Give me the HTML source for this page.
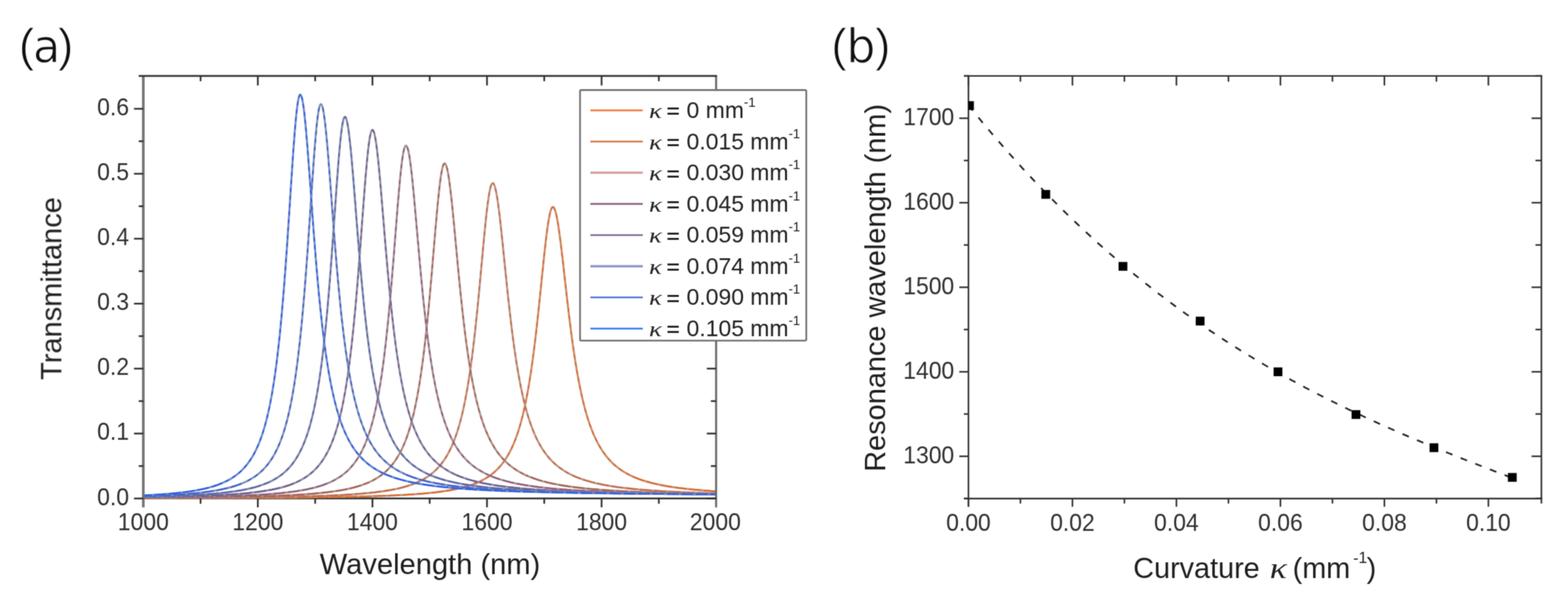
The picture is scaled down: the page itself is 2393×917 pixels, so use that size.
<!DOCTYPE html><html><head><meta charset="utf-8"><style>html,body{margin:0;padding:0;background:#fff;}svg{display:block;}</style></head><body>
<svg width="2393" height="917" viewBox="0 0 2393 917">
<defs><filter id="soft" x="0" y="0" width="2393" height="917" filterUnits="userSpaceOnUse" color-interpolation-filters="sRGB"><feConvolveMatrix order="3" kernelMatrix="1 2 1 2 8 2 1 2 1" divisor="20" edgeMode="duplicate"/></filter></defs>
<rect width="2393" height="917" fill="#fff"/>
<g filter="url(#soft)">
<defs><clipPath id="ca"><rect x="218.7" y="116.5" width="874.2" height="646.1"/></clipPath></defs>
<line x1="218.7" y1="760.6" x2="1092.9" y2="760.6" stroke="#222" stroke-width="2.5"/>
<g clip-path="url(#ca)" fill="none" stroke-linejoin="round">
<path d="M218.7,760.3 L220.4,760.2 L222.2,760.2 L223.9,760.2 L225.7,760.2 L227.4,760.2 L229.2,760.2 L230.9,760.2 L232.7,760.2 L234.4,760.2 L236.2,760.2 L237.9,760.2 L239.7,760.2 L241.4,760.2 L243.2,760.2 L244.9,760.2 L246.7,760.2 L248.4,760.2 L250.2,760.2 L251.9,760.2 L253.7,760.2 L255.4,760.2 L257.2,760.2 L258.9,760.2 L260.7,760.2 L262.4,760.2 L264.2,760.2 L265.9,760.1 L267.7,760.1 L269.4,760.1 L271.2,760.1 L272.9,760.1 L274.6,760.1 L276.4,760.1 L278.1,760.1 L279.9,760.1 L281.6,760.1 L283.4,760.1 L285.1,760.1 L286.9,760.1 L288.6,760.1 L290.4,760.1 L292.1,760.1 L293.9,760.1 L295.6,760.1 L297.4,760.1 L299.1,760.1 L300.9,760.0 L302.6,760.0 L304.4,760.0 L306.1,760.0 L307.9,760.0 L309.6,760.0 L311.4,760.0 L313.1,760.0 L314.9,760.0 L316.6,760.0 L318.4,760.0 L320.1,760.0 L321.9,760.0 L323.6,760.0 L325.4,760.0 L327.1,760.0 L328.8,760.0 L330.6,759.9 L332.3,759.9 L334.1,759.9 L335.8,759.9 L337.6,759.9 L339.3,759.9 L341.1,759.9 L342.8,759.9 L344.6,759.9 L346.3,759.9 L348.1,759.9 L349.8,759.9 L351.6,759.9 L353.3,759.8 L355.1,759.8 L356.8,759.8 L358.6,759.8 L360.3,759.8 L362.1,759.8 L363.8,759.8 L365.6,759.8 L367.3,759.8 L369.1,759.8 L370.8,759.8 L372.6,759.8 L374.3,759.7 L376.1,759.7 L377.8,759.7 L379.6,759.7 L381.3,759.7 L383.0,759.7 L384.8,759.7 L386.5,759.7 L388.3,759.7 L390.0,759.7 L391.8,759.6 L393.5,759.6 L395.3,759.6 L397.0,759.6 L398.8,759.6 L400.5,759.6 L402.3,759.6 L404.0,759.6 L405.8,759.6 L407.5,759.5 L409.3,759.5 L411.0,759.5 L412.8,759.5 L414.5,759.5 L416.3,759.5 L418.0,759.5 L419.8,759.5 L421.5,759.4 L423.3,759.4 L425.0,759.4 L426.8,759.4 L428.5,759.4 L430.3,759.4 L432.0,759.4 L433.8,759.4 L435.5,759.3 L437.2,759.3 L439.0,759.3 L440.7,759.3 L442.5,759.3 L444.2,759.3 L446.0,759.2 L447.7,759.2 L449.5,759.2 L451.2,759.2 L453.0,759.2 L454.7,759.2 L456.5,759.1 L458.2,759.1 L460.0,759.1 L461.7,759.1 L463.5,759.1 L465.2,759.0 L467.0,759.0 L468.7,759.0 L470.5,759.0 L472.2,759.0 L474.0,758.9 L475.7,758.9 L477.5,758.9 L479.2,758.9 L481.0,758.9 L482.7,758.8 L484.5,758.8 L486.2,758.8 L488.0,758.8 L489.7,758.7 L491.5,758.7 L493.2,758.7 L494.9,758.7 L496.7,758.7 L498.4,758.6 L500.2,758.6 L501.9,758.6 L503.7,758.5 L505.4,758.5 L507.2,758.5 L508.9,758.5 L510.7,758.4 L512.4,758.4 L514.2,758.4 L515.9,758.3 L517.7,758.3 L519.4,758.3 L521.2,758.2 L522.9,758.2 L524.7,758.2 L526.4,758.2 L528.2,758.1 L529.9,758.1 L531.7,758.0 L533.4,758.0 L535.2,758.0 L536.9,757.9 L538.7,757.9 L540.4,757.9 L542.2,757.8 L543.9,757.8 L545.7,757.7 L547.4,757.7 L549.1,757.7 L550.9,757.6 L552.6,757.6 L554.4,757.5 L556.1,757.5 L557.9,757.4 L559.6,757.4 L561.4,757.3 L563.1,757.3 L564.9,757.2 L566.6,757.2 L568.4,757.1 L570.1,757.1 L571.9,757.0 L573.6,757.0 L575.4,756.9 L577.1,756.8 L578.9,756.8 L580.6,756.7 L582.4,756.7 L584.1,756.6 L585.9,756.5 L587.6,756.5 L589.4,756.4 L591.1,756.3 L592.9,756.2 L594.6,756.2 L596.4,756.1 L598.1,756.0 L599.9,755.9 L601.6,755.9 L603.3,755.8 L605.1,755.7 L606.8,755.6 L608.6,755.5 L610.3,755.4 L612.1,755.3 L613.8,755.3 L615.6,755.2 L617.3,755.1 L619.1,755.0 L620.8,754.9 L622.6,754.7 L624.3,754.6 L626.1,754.5 L627.8,754.4 L629.6,754.3 L631.3,754.2 L633.1,754.1 L634.8,753.9 L636.6,753.8 L638.3,753.7 L640.1,753.5 L641.8,753.4 L643.6,753.2 L645.3,753.1 L647.1,752.9 L648.8,752.8 L650.6,752.6 L652.3,752.5 L654.1,752.3 L655.8,752.1 L657.5,751.9 L659.3,751.8 L661.0,751.6 L662.8,751.4 L664.5,751.2 L666.3,751.0 L668.0,750.7 L669.8,750.5 L671.5,750.3 L673.3,750.1 L675.0,749.8 L676.8,749.6 L678.5,749.3 L680.3,749.0 L682.0,748.8 L683.8,748.5 L685.5,748.2 L687.3,747.9 L689.0,747.6 L690.8,747.3 L692.5,746.9 L694.3,746.6 L696.0,746.2 L697.8,745.8 L699.5,745.5 L701.3,745.1 L703.0,744.6 L704.8,744.2 L706.5,743.8 L708.3,743.3 L710.0,742.8 L711.7,742.3 L713.5,741.8 L715.2,741.3 L717.0,740.7 L718.7,740.1 L720.5,739.5 L722.2,738.9 L724.0,738.2 L725.7,737.5 L727.5,736.8 L729.2,736.1 L731.0,735.3 L732.7,734.4 L734.5,733.6 L736.2,732.7 L738.0,731.8 L738.8,731.3 L739.3,731.0 L739.7,730.8 L740.2,730.5 L740.6,730.3 L741.0,730.0 L741.5,729.7 L741.9,729.5 L742.3,729.2 L742.8,728.9 L743.2,728.7 L743.7,728.4 L744.1,728.1 L744.5,727.8 L745.0,727.5 L745.4,727.2 L745.8,726.9 L746.3,726.6 L746.7,726.3 L747.2,726.0 L747.6,725.7 L748.0,725.4 L748.5,725.1 L748.9,724.8 L749.3,724.4 L749.8,724.1 L750.2,723.8 L750.7,723.4 L751.1,723.1 L751.5,722.7 L752.0,722.4 L752.4,722.0 L752.8,721.7 L753.3,721.3 L753.7,720.9 L754.1,720.6 L754.6,720.2 L755.0,719.8 L755.5,719.4 L755.9,719.0 L756.3,718.6 L756.8,718.2 L757.2,717.8 L757.6,717.4 L758.1,716.9 L758.5,716.5 L759.0,716.1 L759.4,715.6 L759.8,715.2 L760.3,714.7 L760.7,714.3 L761.1,713.8 L761.6,713.3 L762.0,712.9 L762.5,712.4 L762.9,711.9 L763.3,711.4 L763.8,710.9 L764.2,710.4 L764.6,709.8 L765.1,709.3 L765.5,708.8 L765.9,708.2 L766.4,707.7 L766.8,707.1 L767.3,706.6 L767.7,706.0 L768.1,705.4 L768.6,704.8 L769.0,704.2 L769.4,703.6 L769.9,703.0 L770.3,702.3 L770.8,701.7 L771.2,701.0 L771.6,700.4 L772.1,699.7 L772.5,699.0 L772.9,698.4 L773.4,697.7 L773.8,696.9 L774.3,696.2 L774.7,695.5 L775.1,694.7 L775.6,694.0 L776.0,693.2 L776.4,692.4 L776.9,691.7 L777.3,690.9 L777.8,690.0 L778.2,689.2 L778.6,688.4 L779.1,687.5 L779.5,686.6 L779.9,685.8 L780.4,684.9 L780.8,683.9 L781.2,683.0 L781.7,682.1 L782.1,681.1 L782.6,680.1 L783.0,679.2 L783.4,678.1 L783.9,677.1 L784.3,676.1 L784.7,675.0 L785.2,673.9 L785.6,672.9 L786.1,671.7 L786.5,670.6 L786.9,669.5 L787.4,668.3 L787.8,667.1 L788.2,665.9 L788.7,664.7 L789.1,663.4 L789.6,662.1 L790.0,660.9 L790.4,659.5 L790.9,658.2 L791.3,656.8 L791.7,655.4 L792.2,654.0 L792.6,652.6 L793.0,651.1 L793.5,649.7 L793.9,648.1 L794.4,646.6 L794.8,645.0 L795.2,643.4 L795.7,641.8 L796.1,640.2 L796.5,638.5 L797.0,636.8 L797.4,635.1 L797.9,633.3 L798.3,631.5 L798.7,629.6 L799.2,627.8 L799.6,625.9 L800.0,623.9 L800.5,622.0 L800.9,620.0 L801.4,617.9 L801.8,615.9 L802.2,613.8 L802.7,611.6 L803.1,609.4 L803.5,607.2 L804.0,604.9 L804.4,602.6 L804.9,600.3 L805.3,597.9 L805.7,595.5 L806.2,593.0 L806.6,590.5 L807.0,587.9 L807.5,585.3 L807.9,582.7 L808.3,580.0 L808.8,577.3 L809.2,574.5 L809.7,571.7 L810.1,568.8 L810.5,565.9 L811.0,562.9 L811.4,559.9 L811.8,556.8 L812.3,553.7 L812.7,550.5 L813.2,547.3 L813.6,544.1 L814.0,540.7 L814.5,537.4 L814.9,534.0 L815.3,530.5 L815.8,527.0 L816.2,523.5 L816.7,519.9 L817.1,516.2 L817.5,512.5 L818.0,508.8 L818.4,505.0 L818.8,501.2 L819.3,497.3 L819.7,493.4 L820.1,489.4 L820.6,485.4 L821.0,481.4 L821.5,477.3 L821.9,473.2 L822.3,469.0 L822.8,464.9 L823.2,460.7 L823.6,456.4 L824.1,452.2 L824.5,447.9 L825.0,443.7 L825.4,439.4 L825.8,435.1 L826.3,430.8 L826.7,426.5 L827.1,422.1 L827.6,417.9 L828.0,413.6 L828.5,409.3 L828.9,405.1 L829.3,400.8 L829.8,396.7 L830.2,392.5 L830.6,388.4 L831.1,384.4 L831.5,380.4 L832.0,376.4 L832.4,372.6 L832.8,368.8 L833.3,365.1 L833.7,361.4 L834.1,357.9 L834.6,354.5 L835.0,351.2 L835.4,348.0 L835.9,344.9 L836.3,341.9 L836.8,339.1 L837.2,336.4 L837.6,333.9 L838.1,331.5 L838.5,329.2 L838.9,327.2 L839.4,325.2 L839.8,323.5 L840.3,321.9 L840.7,320.5 L841.1,319.3 L841.6,318.3 L842.0,317.4 L842.4,316.8 L842.9,316.3 L843.3,316.0 L843.8,315.9 L844.2,316.0 L844.6,316.2 L845.1,316.6 L845.5,317.2 L845.9,318.0 L846.4,318.9 L846.8,320.0 L847.2,321.2 L847.7,322.6 L848.1,324.2 L848.6,325.9 L849.0,327.7 L849.4,329.7 L849.9,331.9 L850.3,334.1 L850.7,336.5 L851.2,339.0 L851.6,341.6 L852.1,344.4 L852.5,347.2 L852.9,350.2 L853.4,353.2 L853.8,356.4 L854.2,359.6 L854.7,362.9 L855.1,366.3 L855.6,369.7 L856.0,373.2 L856.4,376.8 L856.9,380.4 L857.3,384.1 L857.7,387.8 L858.2,391.6 L858.6,395.3 L859.1,399.2 L859.5,403.0 L859.9,406.9 L860.4,410.7 L860.8,414.6 L861.2,418.5 L861.7,422.4 L862.1,426.3 L862.5,430.2 L863.0,434.1 L863.4,438.0 L863.9,441.9 L864.3,445.7 L864.7,449.6 L865.2,453.4 L865.6,457.2 L866.0,461.0 L866.5,464.8 L866.9,468.5 L867.4,472.2 L867.8,475.9 L868.2,479.5 L868.7,483.2 L869.1,486.7 L869.5,490.3 L870.0,493.8 L870.4,497.3 L870.9,500.7 L871.3,504.1 L871.7,507.4 L872.2,510.8 L872.6,514.0 L873.0,517.3 L873.5,520.5 L873.9,523.6 L874.3,526.8 L874.8,529.8 L875.2,532.9 L875.7,535.9 L876.1,538.8 L876.5,541.7 L877.0,544.6 L877.4,547.4 L877.8,550.2 L878.3,553.0 L878.7,555.7 L879.2,558.3 L879.6,561.0 L880.0,563.6 L880.5,566.1 L880.9,568.6 L881.3,571.1 L881.8,573.5 L882.2,575.9 L882.7,578.3 L883.1,580.6 L883.5,582.9 L884.0,585.2 L884.4,587.4 L884.8,589.6 L885.3,591.7 L885.7,593.8 L886.2,595.9 L886.6,598.0 L887.0,600.0 L887.5,602.0 L887.9,603.9 L888.3,605.9 L888.8,607.8 L889.2,609.6 L889.6,611.5 L890.1,613.3 L890.5,615.0 L891.0,616.8 L891.4,618.5 L891.8,620.2 L892.3,621.9 L892.7,623.5 L893.1,625.1 L893.6,626.7 L894.0,628.3 L894.5,629.8 L894.9,631.3 L895.3,632.8 L895.8,634.3 L896.2,635.7 L896.6,637.2 L897.1,638.6 L897.5,639.9 L898.0,641.3 L898.4,642.6 L898.8,643.9 L899.3,645.2 L899.7,646.5 L900.1,647.8 L900.6,649.0 L901.0,650.2 L901.5,651.4 L901.9,652.6 L902.3,653.8 L902.8,654.9 L903.2,656.0 L903.6,657.1 L904.1,658.2 L904.5,659.3 L904.9,660.4 L905.4,661.4 L905.8,662.4 L906.3,663.5 L906.7,664.5 L907.1,665.4 L907.6,666.4 L908.0,667.4 L908.4,668.3 L908.9,669.2 L909.3,670.2 L909.8,671.1 L910.2,671.9 L910.6,672.8 L911.1,673.7 L911.5,674.5 L911.9,675.4 L912.4,676.2 L912.8,677.0 L913.3,677.8 L913.7,678.6 L914.1,679.4 L914.6,680.2 L915.0,680.9 L915.4,681.7 L915.9,682.4 L916.3,683.1 L916.7,683.8 L917.2,684.6 L917.6,685.3 L918.1,685.9 L918.5,686.6 L918.9,687.3 L919.4,688.0 L919.8,688.6 L920.2,689.3 L920.7,689.9 L921.1,690.5 L921.6,691.1 L922.0,691.7 L922.4,692.3 L922.9,692.9 L923.3,693.5 L923.7,694.1 L924.2,694.7 L924.6,695.2 L925.1,695.8 L925.5,696.3 L925.9,696.9 L926.4,697.4 L926.8,698.0 L927.2,698.5 L927.7,699.0 L928.1,699.5 L928.6,700.0 L929.0,700.5 L929.4,701.0 L929.9,701.5 L930.3,702.0 L930.7,702.4 L931.2,702.9 L931.6,703.4 L932.0,703.8 L932.5,704.3 L932.9,704.7 L933.4,705.1 L933.8,705.6 L934.2,706.0 L934.7,706.4 L935.1,706.8 L935.5,707.3 L936.0,707.7 L936.4,708.1 L936.9,708.5 L937.3,708.9 L937.7,709.2 L938.2,709.6 L938.6,710.0 L939.0,710.4 L939.5,710.8 L939.9,711.1 L940.4,711.5 L940.8,711.8 L941.2,712.2 L941.7,712.6 L942.1,712.9 L942.5,713.2 L943.0,713.6 L943.4,713.9 L943.8,714.3 L944.3,714.6 L944.7,714.9 L945.2,715.2 L945.6,715.5 L946.0,715.9 L946.5,716.2 L946.9,716.5 L947.3,716.8 L947.8,717.1 L948.2,717.4 L948.7,717.7 L950.4,718.8 L952.2,719.9 L953.9,721.0 L955.7,722.0 L957.4,722.9 L959.1,723.9 L960.9,724.8 L962.6,725.6 L964.4,726.5 L966.1,727.2 L967.9,728.0 L969.6,728.8 L971.4,729.5 L973.1,730.1 L974.9,730.8 L976.6,731.4 L978.4,732.1 L980.1,732.7 L981.9,733.2 L983.6,733.8 L985.4,734.3 L987.1,734.8 L988.9,735.3 L990.6,735.8 L992.4,736.3 L994.1,736.8 L995.9,737.2 L997.6,737.6 L999.4,738.0 L1001.1,738.4 L1002.9,738.8 L1004.6,739.2 L1006.4,739.6 L1008.1,739.9 L1009.9,740.3 L1011.6,740.6 L1013.3,740.9 L1015.1,741.3 L1016.8,741.6 L1018.6,741.9 L1020.3,742.2 L1022.1,742.5 L1023.8,742.7 L1025.6,743.0 L1027.3,743.3 L1029.1,743.5 L1030.8,743.8 L1032.6,744.0 L1034.3,744.2 L1036.1,744.5 L1037.8,744.7 L1039.6,744.9 L1041.3,745.1 L1043.1,745.3 L1044.8,745.6 L1046.6,745.8 L1048.3,745.9 L1050.1,746.1 L1051.8,746.3 L1053.6,746.5 L1055.3,746.7 L1057.1,746.9 L1058.8,747.0 L1060.6,747.2 L1062.3,747.3 L1064.1,747.5 L1065.8,747.7 L1067.5,747.8 L1069.3,748.0 L1071.0,748.1 L1072.8,748.2 L1074.5,748.4 L1076.3,748.5 L1078.0,748.7 L1079.8,748.8 L1081.5,748.9 L1083.3,749.0 L1085.0,749.2 L1086.8,749.3 L1088.5,749.4 L1090.3,749.5 L1092.0,749.6" stroke="#c68c6c" stroke-width="3.0"/>
<path d="M731.0,735.3 L732.7,734.4 L734.5,733.6 L736.2,732.7 L738.0,731.8 L738.8,731.3 L739.3,731.0 L739.7,730.8 L740.2,730.5 L740.6,730.3 L741.0,730.0 L741.5,729.7 L741.9,729.5 L742.3,729.2 L742.8,728.9 L743.2,728.7 L743.7,728.4 L744.1,728.1 L744.5,727.8 L745.0,727.5 L745.4,727.2 L745.8,726.9 L746.3,726.6 L746.7,726.3 L747.2,726.0 L747.6,725.7 L748.0,725.4 L748.5,725.1 L748.9,724.8 L749.3,724.4 L749.8,724.1 L750.2,723.8 L750.7,723.4 L751.1,723.1 L751.5,722.7 L752.0,722.4 L752.4,722.0 L752.8,721.7 L753.3,721.3 L753.7,720.9 L754.1,720.6 L754.6,720.2 L755.0,719.8 L755.5,719.4 L755.9,719.0 L756.3,718.6 L756.8,718.2 L757.2,717.8 L757.6,717.4 L758.1,716.9 L758.5,716.5 L759.0,716.1 L759.4,715.6 L759.8,715.2 L760.3,714.7 L760.7,714.3 L761.1,713.8 L761.6,713.3 L762.0,712.9 L762.5,712.4 L762.9,711.9 L763.3,711.4 L763.8,710.9 L764.2,710.4 L764.6,709.8 L765.1,709.3 L765.5,708.8 L765.9,708.2 L766.4,707.7 L766.8,707.1 L767.3,706.6 L767.7,706.0 L768.1,705.4 L768.6,704.8 L769.0,704.2 L769.4,703.6 L769.9,703.0 L770.3,702.3 L770.8,701.7 L771.2,701.0 L771.6,700.4 L772.1,699.7 L772.5,699.0 L772.9,698.4 L773.4,697.7 L773.8,696.9 L774.3,696.2 L774.7,695.5 L775.1,694.7 L775.6,694.0 L776.0,693.2 L776.4,692.4 L776.9,691.7 L777.3,690.9 L777.8,690.0 L778.2,689.2 L778.6,688.4 L779.1,687.5 L779.5,686.6 L779.9,685.8 L780.4,684.9 L780.8,683.9 L781.2,683.0 L781.7,682.1 L782.1,681.1 L782.6,680.1 L783.0,679.2 L783.4,678.1 L783.9,677.1 L784.3,676.1 L784.7,675.0 L785.2,673.9 L785.6,672.9 L786.1,671.7 L786.5,670.6 L786.9,669.5 L787.4,668.3 L787.8,667.1 L788.2,665.9 L788.7,664.7 L789.1,663.4 L789.6,662.1 L790.0,660.9 L790.4,659.5 L790.9,658.2 L791.3,656.8 L791.7,655.4 L792.2,654.0 L792.6,652.6 L793.0,651.1 L793.5,649.7 L793.9,648.1 L794.4,646.6 L794.8,645.0 L795.2,643.4 L795.7,641.8 L796.1,640.2 L796.5,638.5 L797.0,636.8 L797.4,635.1 L797.9,633.3 L798.3,631.5 L798.7,629.6 L799.2,627.8 L799.6,625.9 L800.0,623.9 L800.5,622.0 L800.9,620.0 L801.4,617.9 L801.8,615.9 L802.2,613.8 L802.7,611.6 L803.1,609.4 L803.5,607.2 L804.0,604.9 L804.4,602.6 L804.9,600.3 L805.3,597.9 L805.7,595.5 L806.2,593.0 L806.6,590.5 L807.0,587.9 L807.5,585.3 L807.9,582.7 L808.3,580.0 L808.8,577.3 L809.2,574.5 L809.7,571.7 L810.1,568.8 L810.5,565.9 L811.0,562.9 L811.4,559.9 L811.8,556.8 L812.3,553.7 L812.7,550.5 L813.2,547.3 L813.6,544.1 L814.0,540.7 L814.5,537.4 L814.9,534.0 L815.3,530.5 L815.8,527.0 L816.2,523.5 L816.7,519.9 L817.1,516.2 L817.5,512.5 L818.0,508.8 L818.4,505.0 L818.8,501.2 L819.3,497.3 L819.7,493.4 L820.1,489.4 L820.6,485.4 L821.0,481.4 L821.5,477.3 L821.9,473.2 L822.3,469.0 L822.8,464.9 L823.2,460.7 L823.6,456.4 L824.1,452.2 L824.5,447.9 L825.0,443.7 L825.4,439.4 L825.8,435.1 L826.3,430.8 L826.7,426.5 L827.1,422.1 L827.6,417.9 L828.0,413.6 L828.5,409.3 L828.9,405.1 L829.3,400.8 L829.8,396.7 L830.2,392.5 L830.6,388.4 L831.1,384.4 L831.5,380.4 L832.0,376.4 L832.4,372.6 L832.8,368.8 L833.3,365.1 L833.7,361.4 L834.1,357.9 L834.6,354.5 L835.0,351.2 L835.4,348.0 L835.9,344.9 L836.3,341.9 L836.8,339.1 L837.2,336.4 L837.6,333.9 L838.1,331.5 L838.5,329.2 L838.9,327.2 L839.4,325.2 L839.8,323.5 L840.3,321.9 L840.7,320.5 L841.1,319.3 L841.6,318.3 L842.0,317.4 L842.4,316.8 L842.9,316.3 L843.3,316.0 M844.2,316.0 L844.6,316.2 L845.1,316.6 L845.5,317.2 L845.9,318.0 L846.4,318.9 L846.8,320.0 L847.2,321.2 L847.7,322.6 L848.1,324.2 L848.6,325.9 L849.0,327.7 L849.4,329.7 L849.9,331.9 L850.3,334.1 L850.7,336.5 L851.2,339.0 L851.6,341.6 L852.1,344.4 L852.5,347.2 L852.9,350.2 L853.4,353.2 L853.8,356.4 L854.2,359.6 L854.7,362.9 L855.1,366.3 L855.6,369.7 L856.0,373.2 L856.4,376.8 L856.9,380.4 L857.3,384.1 L857.7,387.8 L858.2,391.6 L858.6,395.3 L859.1,399.2 L859.5,403.0 L859.9,406.9 L860.4,410.7 L860.8,414.6 L861.2,418.5 L861.7,422.4 L862.1,426.3 L862.5,430.2 L863.0,434.1 L863.4,438.0 L863.9,441.9 L864.3,445.7 L864.7,449.6 L865.2,453.4 L865.6,457.2 L866.0,461.0 L866.5,464.8 L866.9,468.5 L867.4,472.2 L867.8,475.9 L868.2,479.5 L868.7,483.2 L869.1,486.7 L869.5,490.3 L870.0,493.8 L870.4,497.3 L870.9,500.7 L871.3,504.1 L871.7,507.4 L872.2,510.8 L872.6,514.0 L873.0,517.3 L873.5,520.5 L873.9,523.6 L874.3,526.8 L874.8,529.8 L875.2,532.9 L875.7,535.9 L876.1,538.8 L876.5,541.7 L877.0,544.6 L877.4,547.4 L877.8,550.2 L878.3,553.0 L878.7,555.7 L879.2,558.3 L879.6,561.0 L880.0,563.6 L880.5,566.1 L880.9,568.6 L881.3,571.1 L881.8,573.5 L882.2,575.9 L882.7,578.3 L883.1,580.6 L883.5,582.9 L884.0,585.2 L884.4,587.4 L884.8,589.6 L885.3,591.7 L885.7,593.8 L886.2,595.9 L886.6,598.0 L887.0,600.0 L887.5,602.0 L887.9,603.9 L888.3,605.9 L888.8,607.8 L889.2,609.6 L889.6,611.5 L890.1,613.3 L890.5,615.0 L891.0,616.8 L891.4,618.5 L891.8,620.2 L892.3,621.9 L892.7,623.5 L893.1,625.1 L893.6,626.7 L894.0,628.3 L894.5,629.8 L894.9,631.3 L895.3,632.8 L895.8,634.3 L896.2,635.7 L896.6,637.2 L897.1,638.6 L897.5,639.9 L898.0,641.3 L898.4,642.6 L898.8,643.9 L899.3,645.2 L899.7,646.5 L900.1,647.8 L900.6,649.0 L901.0,650.2 L901.5,651.4 L901.9,652.6 L902.3,653.8 L902.8,654.9 L903.2,656.0 L903.6,657.1 L904.1,658.2 L904.5,659.3 L904.9,660.4 L905.4,661.4 L905.8,662.4 L906.3,663.5 L906.7,664.5 L907.1,665.4 L907.6,666.4 L908.0,667.4 L908.4,668.3 L908.9,669.2 L909.3,670.2 L909.8,671.1 L910.2,671.9 L910.6,672.8 L911.1,673.7 L911.5,674.5 L911.9,675.4 L912.4,676.2 L912.8,677.0 L913.3,677.8 L913.7,678.6 L914.1,679.4 L914.6,680.2 L915.0,680.9 L915.4,681.7 L915.9,682.4 L916.3,683.1 L916.7,683.8 L917.2,684.6 L917.6,685.3 L918.1,685.9 L918.5,686.6 L918.9,687.3 L919.4,688.0 L919.8,688.6 L920.2,689.3 L920.7,689.9 L921.1,690.5 L921.6,691.1 L922.0,691.7 L922.4,692.3 L922.9,692.9 L923.3,693.5 L923.7,694.1 L924.2,694.7 L924.6,695.2 L925.1,695.8 L925.5,696.3 L925.9,696.9 L926.4,697.4 L926.8,698.0 L927.2,698.5 L927.7,699.0 L928.1,699.5 L928.6,700.0 L929.0,700.5 L929.4,701.0 L929.9,701.5 L930.3,702.0 L930.7,702.4 L931.2,702.9 L931.6,703.4 L932.0,703.8 L932.5,704.3 L932.9,704.7 L933.4,705.1 L933.8,705.6 L934.2,706.0 L934.7,706.4 L935.1,706.8 L935.5,707.3 L936.0,707.7 L936.4,708.1 L936.9,708.5 L937.3,708.9 L937.7,709.2 L938.2,709.6 L938.6,710.0 L939.0,710.4 L939.5,710.8 L939.9,711.1 L940.4,711.5 L940.8,711.8 L941.2,712.2 L941.7,712.6 L942.1,712.9 L942.5,713.2 L943.0,713.6 L943.4,713.9 L943.8,714.3 L944.3,714.6 L944.7,714.9 L945.2,715.2 L945.6,715.5 L946.0,715.9 L946.5,716.2 L946.9,716.5 L947.3,716.8 L947.8,717.1 L948.2,717.4 L948.7,717.7 L950.4,718.8 L952.2,719.9 L953.9,721.0 L955.7,722.0 L957.4,722.9 L959.1,723.9 L960.9,724.8 L962.6,725.6 L964.4,726.5 L966.1,727.2" stroke="#dc6a30" stroke-width="2.2" stroke-dasharray="6 6" stroke-dashoffset="0"/>
<path d="M218.7,760.3 L220.4,760.2 L222.2,760.2 L223.9,760.2 L225.7,760.2 L227.4,760.2 L229.2,760.2 L230.9,760.2 L232.7,760.2 L234.4,760.2 L236.2,760.2 L237.9,760.2 L239.7,760.2 L241.4,760.2 L243.2,760.2 L244.9,760.2 L246.7,760.2 L248.4,760.2 L250.2,760.2 L251.9,760.2 L253.7,760.2 L255.4,760.2 L257.2,760.2 L258.9,760.2 L260.7,760.2 L262.4,760.2 L264.2,760.2 L265.9,760.1 L267.7,760.1 L269.4,760.1 L271.2,760.1 L272.9,760.1 L274.6,760.1 L276.4,760.1 L278.1,760.1 L279.9,760.1 L281.6,760.1 L283.4,760.1 L285.1,760.1 L286.9,760.1 L288.6,760.1 L290.4,760.1 L292.1,760.1 L293.9,760.1 L295.6,760.1 L297.4,760.1 L299.1,760.1 L300.9,760.0 L302.6,760.0 L304.4,760.0 L306.1,760.0 L307.9,760.0 L309.6,760.0 L311.4,760.0 L313.1,760.0 L314.9,760.0 L316.6,760.0 L318.4,760.0 L320.1,760.0 L321.9,760.0 L323.6,760.0 L325.4,760.0 L327.1,760.0 L328.8,760.0 L330.6,759.9 L332.3,759.9 L334.1,759.9 L335.8,759.9 L337.6,759.9 L339.3,759.9 L341.1,759.9 L342.8,759.9 L344.6,759.9 L346.3,759.9 L348.1,759.9 L349.8,759.9 L351.6,759.9 L353.3,759.8 L355.1,759.8 L356.8,759.8 L358.6,759.8 L360.3,759.8 L362.1,759.8 L363.8,759.8 L365.6,759.8 L367.3,759.8 L369.1,759.8 L370.8,759.8 L372.6,759.8 L374.3,759.7 L376.1,759.7 L377.8,759.7 L379.6,759.7 L381.3,759.7 L383.0,759.7 L384.8,759.7 L386.5,759.7 L388.3,759.7 L390.0,759.7 L391.8,759.6 L393.5,759.6 L395.3,759.6 L397.0,759.6 L398.8,759.6 L400.5,759.6 L402.3,759.6 L404.0,759.6 L405.8,759.6 L407.5,759.5 L409.3,759.5 L411.0,759.5 L412.8,759.5 L414.5,759.5 L416.3,759.5 L418.0,759.5 L419.8,759.5 L421.5,759.4 L423.3,759.4 L425.0,759.4 L426.8,759.4 L428.5,759.4 L430.3,759.4 L432.0,759.4 L433.8,759.4 L435.5,759.3 L437.2,759.3 L439.0,759.3 L440.7,759.3 L442.5,759.3 L444.2,759.3 L446.0,759.2 L447.7,759.2 L449.5,759.2 L451.2,759.2 L453.0,759.2 L454.7,759.2 L456.5,759.1 L458.2,759.1 L460.0,759.1 L461.7,759.1 L463.5,759.1 L465.2,759.0 L467.0,759.0 L468.7,759.0 L470.5,759.0 L472.2,759.0 L474.0,758.9 L475.7,758.9 L477.5,758.9 L479.2,758.9 L481.0,758.9 L482.7,758.8 L484.5,758.8 L486.2,758.8 L488.0,758.8 L489.7,758.7 L491.5,758.7 L493.2,758.7 L494.9,758.7 L496.7,758.7 L498.4,758.6 L500.2,758.6 L501.9,758.6 L503.7,758.5 L505.4,758.5 L507.2,758.5 L508.9,758.5 L510.7,758.4 L512.4,758.4 L514.2,758.4 L515.9,758.3 L517.7,758.3 L519.4,758.3 L521.2,758.2 L522.9,758.2 L524.7,758.2 L526.4,758.2 L528.2,758.1 L529.9,758.1 L531.7,758.0 L533.4,758.0 L535.2,758.0 L536.9,757.9 L538.7,757.9 L540.4,757.9 L542.2,757.8 L543.9,757.8 L545.7,757.7 L547.4,757.7 L549.1,757.7 L550.9,757.6 L552.6,757.6 L554.4,757.5 L556.1,757.5 L557.9,757.4 L559.6,757.4 L561.4,757.3 L563.1,757.3 L564.9,757.2 L566.6,757.2 L568.4,757.1 L570.1,757.1 L571.9,757.0 L573.6,757.0 L575.4,756.9 L577.1,756.8 L578.9,756.8 L580.6,756.7 L582.4,756.7 L584.1,756.6 L585.9,756.5 L587.6,756.5 L589.4,756.4 L591.1,756.3 L592.9,756.2 L594.6,756.2 L596.4,756.1 L598.1,756.0 L599.9,755.9 L601.6,755.9 L603.3,755.8 L605.1,755.7 L606.8,755.6 L608.6,755.5 L610.3,755.4 L612.1,755.3 L613.8,755.3 L615.6,755.2 L617.3,755.1 L619.1,755.0 L620.8,754.9 L622.6,754.7 L624.3,754.6 L626.1,754.5 L627.8,754.4 L629.6,754.3 L631.3,754.2 L633.1,754.1 L634.8,753.9 L636.6,753.8 L638.3,753.7 L640.1,753.5 L641.8,753.4 L643.6,753.2 L645.3,753.1 L647.1,752.9 L648.8,752.8 L650.6,752.6 L652.3,752.5 L654.1,752.3 L655.8,752.1 L657.5,751.9 L659.3,751.8 L661.0,751.6 L662.8,751.4 L664.5,751.2 L666.3,751.0 L668.0,750.7 L669.8,750.5 L671.5,750.3 L673.3,750.1 L675.0,749.8 L676.8,749.6 L678.5,749.3 L680.3,749.0 L682.0,748.8 L683.8,748.5 L685.5,748.2 L687.3,747.9 L689.0,747.6 L690.8,747.3 L692.5,746.9 L694.3,746.6 L696.0,746.2 L697.8,745.8 L699.5,745.5 L701.3,745.1 L703.0,744.6 L704.8,744.2 L706.5,743.8 L708.3,743.3 L710.0,742.8 L711.7,742.3 L713.5,741.8 L715.2,741.3 L717.0,740.7 L718.7,740.1 L720.5,739.5 L722.2,738.9 L724.0,738.2 L725.7,737.5 L727.5,736.8 L729.2,736.1 L731.0,735.3 M843.3,316.0 L843.8,315.9 L844.2,316.0 M966.1,727.2 L967.9,728.0 L969.6,728.8 L971.4,729.5 L973.1,730.1 L974.9,730.8 L976.6,731.4 L978.4,732.1 L980.1,732.7 L981.9,733.2 L983.6,733.8 L985.4,734.3 L987.1,734.8 L988.9,735.3 L990.6,735.8 L992.4,736.3 L994.1,736.8 L995.9,737.2 L997.6,737.6 L999.4,738.0 L1001.1,738.4 L1002.9,738.8 L1004.6,739.2 L1006.4,739.6 L1008.1,739.9 L1009.9,740.3 L1011.6,740.6 L1013.3,740.9 L1015.1,741.3 L1016.8,741.6 L1018.6,741.9 L1020.3,742.2 L1022.1,742.5 L1023.8,742.7 L1025.6,743.0 L1027.3,743.3 L1029.1,743.5 L1030.8,743.8 L1032.6,744.0 L1034.3,744.2 L1036.1,744.5 L1037.8,744.7 L1039.6,744.9 L1041.3,745.1 L1043.1,745.3 L1044.8,745.6 L1046.6,745.8 L1048.3,745.9 L1050.1,746.1 L1051.8,746.3 L1053.6,746.5 L1055.3,746.7 L1057.1,746.9 L1058.8,747.0 L1060.6,747.2 L1062.3,747.3 L1064.1,747.5 L1065.8,747.7 L1067.5,747.8 L1069.3,748.0 L1071.0,748.1 L1072.8,748.2 L1074.5,748.4 L1076.3,748.5 L1078.0,748.7 L1079.8,748.8 L1081.5,748.9 L1083.3,749.0 L1085.0,749.2 L1086.8,749.3 L1088.5,749.4 L1090.3,749.5 L1092.0,749.6" stroke="#dc6a30" stroke-width="2.4" stroke-dasharray="18 4" stroke-dashoffset="0"/>
<path d="M218.7,760.0 L220.4,760.0 L222.2,760.0 L223.9,760.0 L225.7,760.0 L227.4,760.0 L229.2,760.0 L230.9,760.0 L232.7,760.0 L234.4,760.0 L236.2,760.0 L237.9,760.0 L239.7,760.0 L241.4,760.0 L243.2,760.0 L244.9,760.0 L246.7,759.9 L248.4,759.9 L250.2,759.9 L251.9,759.9 L253.7,759.9 L255.4,759.9 L257.2,759.9 L258.9,759.9 L260.7,759.9 L262.4,759.9 L264.2,759.9 L265.9,759.9 L267.7,759.9 L269.4,759.8 L271.2,759.8 L272.9,759.8 L274.6,759.8 L276.4,759.8 L278.1,759.8 L279.9,759.8 L281.6,759.8 L283.4,759.8 L285.1,759.8 L286.9,759.8 L288.6,759.7 L290.4,759.7 L292.1,759.7 L293.9,759.7 L295.6,759.7 L297.4,759.7 L299.1,759.7 L300.9,759.7 L302.6,759.7 L304.4,759.7 L306.1,759.6 L307.9,759.6 L309.6,759.6 L311.4,759.6 L313.1,759.6 L314.9,759.6 L316.6,759.6 L318.4,759.6 L320.1,759.5 L321.9,759.5 L323.6,759.5 L325.4,759.5 L327.1,759.5 L328.8,759.5 L330.6,759.5 L332.3,759.5 L334.1,759.4 L335.8,759.4 L337.6,759.4 L339.3,759.4 L341.1,759.4 L342.8,759.4 L344.6,759.4 L346.3,759.3 L348.1,759.3 L349.8,759.3 L351.6,759.3 L353.3,759.3 L355.1,759.3 L356.8,759.2 L358.6,759.2 L360.3,759.2 L362.1,759.2 L363.8,759.2 L365.6,759.2 L367.3,759.1 L369.1,759.1 L370.8,759.1 L372.6,759.1 L374.3,759.1 L376.1,759.1 L377.8,759.0 L379.6,759.0 L381.3,759.0 L383.0,759.0 L384.8,758.9 L386.5,758.9 L388.3,758.9 L390.0,758.9 L391.8,758.9 L393.5,758.8 L395.3,758.8 L397.0,758.8 L398.8,758.8 L400.5,758.7 L402.3,758.7 L404.0,758.7 L405.8,758.7 L407.5,758.6 L409.3,758.6 L411.0,758.6 L412.8,758.6 L414.5,758.5 L416.3,758.5 L418.0,758.5 L419.8,758.4 L421.5,758.4 L423.3,758.4 L425.0,758.4 L426.8,758.3 L428.5,758.3 L430.3,758.3 L432.0,758.2 L433.8,758.2 L435.5,758.2 L437.2,758.1 L439.0,758.1 L440.7,758.1 L442.5,758.0 L444.2,758.0 L446.0,757.9 L447.7,757.9 L449.5,757.9 L451.2,757.8 L453.0,757.8 L454.7,757.7 L456.5,757.7 L458.2,757.7 L460.0,757.6 L461.7,757.6 L463.5,757.5 L465.2,757.5 L467.0,757.4 L468.7,757.4 L470.5,757.3 L472.2,757.3 L474.0,757.2 L475.7,757.2 L477.5,757.1 L479.2,757.1 L481.0,757.0 L482.7,756.9 L484.5,756.9 L486.2,756.8 L488.0,756.8 L489.7,756.7 L491.5,756.6 L493.2,756.6 L494.9,756.5 L496.7,756.4 L498.4,756.4 L500.2,756.3 L501.9,756.2 L503.7,756.1 L505.4,756.1 L507.2,756.0 L508.9,755.9 L510.7,755.8 L512.4,755.7 L514.2,755.7 L515.9,755.6 L517.7,755.5 L519.4,755.4 L521.2,755.3 L522.9,755.2 L524.7,755.1 L526.4,755.0 L528.2,754.9 L529.9,754.8 L531.7,754.7 L533.4,754.6 L535.2,754.5 L536.9,754.3 L538.7,754.2 L540.4,754.1 L542.2,754.0 L543.9,753.8 L545.7,753.7 L547.4,753.6 L549.1,753.4 L550.9,753.3 L552.6,753.1 L554.4,753.0 L556.1,752.8 L557.9,752.7 L559.6,752.5 L561.4,752.3 L563.1,752.2 L564.9,752.0 L566.6,751.8 L568.4,751.6 L570.1,751.4 L571.9,751.2 L573.6,751.0 L575.4,750.8 L577.1,750.6 L578.9,750.3 L580.6,750.1 L582.4,749.9 L584.1,749.6 L585.9,749.3 L587.6,749.1 L589.4,748.8 L591.1,748.5 L592.9,748.2 L594.6,747.9 L596.4,747.6 L598.1,747.3 L599.9,746.9 L601.6,746.6 L603.3,746.2 L605.1,745.9 L606.8,745.5 L608.6,745.1 L610.3,744.7 L612.1,744.2 L613.8,743.8 L615.6,743.3 L617.3,742.8 L619.1,742.3 L620.8,741.8 L622.6,741.3 L624.3,740.7 L626.1,740.1 L627.8,739.5 L629.6,738.9 L631.3,738.2 L633.1,737.5 L634.8,736.8 L636.6,736.0 L638.3,735.2 L640.1,734.4 L641.8,733.6 L643.6,732.7 L645.3,731.7 L647.1,730.7 L647.5,730.5 L647.9,730.2 L648.4,730.0 L648.8,729.7 L649.2,729.4 L649.7,729.2 L650.1,728.9 L650.6,728.6 L651.0,728.3 L651.4,728.1 L651.9,727.8 L652.3,727.5 L652.7,727.2 L653.2,726.9 L653.6,726.6 L654.1,726.3 L654.5,726.0 L654.9,725.7 L655.4,725.4 L655.8,725.0 L656.2,724.7 L656.7,724.4 L657.1,724.0 L657.5,723.7 L658.0,723.4 L658.4,723.0 L658.9,722.7 L659.3,722.3 L659.7,722.0 L660.2,721.6 L660.6,721.2 L661.0,720.9 L661.5,720.5 L661.9,720.1 L662.4,719.7 L662.8,719.3 L663.2,718.9 L663.7,718.5 L664.1,718.1 L664.5,717.7 L665.0,717.3 L665.4,716.8 L665.9,716.4 L666.3,716.0 L666.7,715.5 L667.2,715.1 L667.6,714.6 L668.0,714.2 L668.5,713.7 L668.9,713.2 L669.4,712.7 L669.8,712.3 L670.2,711.8 L670.7,711.3 L671.1,710.7 L671.5,710.2 L672.0,709.7 L672.4,709.2 L672.8,708.6 L673.3,708.1 L673.7,707.5 L674.2,707.0 L674.6,706.4 L675.0,705.8 L675.5,705.2 L675.9,704.6 L676.3,704.0 L676.8,703.4 L677.2,702.8 L677.7,702.2 L678.1,701.5 L678.5,700.9 L679.0,700.2 L679.4,699.5 L679.8,698.8 L680.3,698.2 L680.7,697.4 L681.2,696.7 L681.6,696.0 L682.0,695.3 L682.5,694.5 L682.9,693.8 L683.3,693.0 L683.8,692.2 L684.2,691.4 L684.6,690.6 L685.1,689.8 L685.5,688.9 L686.0,688.1 L686.4,687.2 L686.8,686.3 L687.3,685.5 L687.7,684.5 L688.1,683.6 L688.6,682.7 L689.0,681.7 L689.5,680.8 L689.9,679.8 L690.3,678.8 L690.8,677.8 L691.2,676.7 L691.6,675.7 L692.1,674.6 L692.5,673.5 L693.0,672.4 L693.4,671.3 L693.8,670.2 L694.3,669.0 L694.7,667.8 L695.1,666.6 L695.6,665.4 L696.0,664.1 L696.5,662.9 L696.9,661.6 L697.3,660.3 L697.8,659.0 L698.2,657.6 L698.6,656.2 L699.1,654.8 L699.5,653.4 L699.9,651.9 L700.4,650.4 L700.8,648.9 L701.3,647.4 L701.7,645.8 L702.1,644.2 L702.6,642.6 L703.0,641.0 L703.4,639.3 L703.9,637.6 L704.3,635.9 L704.8,634.1 L705.2,632.3 L705.6,630.4 L706.1,628.6 L706.5,626.7 L706.9,624.7 L707.4,622.8 L707.8,620.7 L708.3,618.7 L708.7,616.6 L709.1,614.5 L709.6,612.3 L710.0,610.1 L710.4,607.9 L710.9,605.6 L711.3,603.3 L711.7,600.9 L712.2,598.5 L712.6,596.1 L713.1,593.6 L713.5,591.0 L713.9,588.4 L714.4,585.8 L714.8,583.1 L715.2,580.4 L715.7,577.6 L716.1,574.8 L716.6,571.9 L717.0,569.0 L717.4,566.0 L717.9,563.0 L718.3,559.9 L718.7,556.7 L719.2,553.5 L719.6,550.3 L720.1,547.0 L720.5,543.6 L720.9,540.2 L721.4,536.8 L721.8,533.2 L722.2,529.7 L722.7,526.0 L723.1,522.3 L723.6,518.6 L724.0,514.8 L724.4,510.9 L724.9,507.0 L725.3,503.0 L725.7,499.0 L726.2,494.9 L726.6,490.8 L727.0,486.6 L727.5,482.4 L727.9,478.1 L728.4,473.7 L728.8,469.4 L729.2,464.9 L729.7,460.5 L730.1,455.9 L730.5,451.4 L731.0,446.8 L731.4,442.2 L731.9,437.5 L732.3,432.8 L732.7,428.1 L733.2,423.3 L733.6,418.6 L734.0,413.8 L734.5,409.0 L734.9,404.2 L735.4,399.4 L735.8,394.7 L736.2,389.9 L736.7,385.1 L737.1,380.4 L737.5,375.6 L738.0,370.9 L738.4,366.3 L738.8,361.7 L739.3,357.1 L739.7,352.6 L740.2,348.2 L740.6,343.8 L741.0,339.6 L741.5,335.4 L741.9,331.3 L742.3,327.3 L742.8,323.4 L743.2,319.7 L743.7,316.0 L744.1,312.5 L744.5,309.2 L745.0,306.0 L745.4,302.9 L745.8,300.0 L746.3,297.3 L746.7,294.7 L747.2,292.4 L747.6,290.2 L748.0,288.2 L748.5,286.4 L748.9,284.8 L749.3,283.4 L749.8,282.2 L750.2,281.2 L750.7,280.5 L751.1,279.9 L751.5,279.6 L752.0,279.5 L752.4,279.6 L752.8,279.9 L753.3,280.3 L753.7,281.0 L754.1,281.9 L754.6,282.9 L755.0,284.1 L755.5,285.6 L755.9,287.2 L756.3,288.9 L756.8,290.9 L757.2,293.0 L757.6,295.2 L758.1,297.6 L758.5,300.2 L759.0,302.9 L759.4,305.8 L759.8,308.7 L760.3,311.8 L760.7,315.1 L761.1,318.4 L761.6,321.8 L762.0,325.4 L762.5,329.0 L762.9,332.7 L763.3,336.5 L763.8,340.4 L764.2,344.3 L764.6,348.4 L765.1,352.4 L765.5,356.5 L765.9,360.7 L766.4,364.9 L766.8,369.1 L767.3,373.4 L767.7,377.7 L768.1,382.0 L768.6,386.3 L769.0,390.6 L769.4,394.9 L769.9,399.3 L770.3,403.6 L770.8,407.9 L771.2,412.2 L771.6,416.5 L772.1,420.8 L772.5,425.1 L772.9,429.3 L773.4,433.5 L773.8,437.7 L774.3,441.9 L774.7,446.0 L775.1,450.1 L775.6,454.2 L776.0,458.2 L776.4,462.2 L776.9,466.1 L777.3,470.1 L777.8,473.9 L778.2,477.7 L778.6,481.5 L779.1,485.3 L779.5,489.0 L779.9,492.6 L780.4,496.2 L780.8,499.8 L781.2,503.3 L781.7,506.8 L782.1,510.2 L782.6,513.5 L783.0,516.9 L783.4,520.2 L783.9,523.4 L784.3,526.6 L784.7,529.7 L785.2,532.8 L785.6,535.9 L786.1,538.9 L786.5,541.8 L786.9,544.7 L787.4,547.6 L787.8,550.4 L788.2,553.2 L788.7,555.9 L789.1,558.6 L789.6,561.3 L790.0,563.9 L790.4,566.4 L790.9,569.0 L791.3,571.5 L791.7,573.9 L792.2,576.3 L792.6,578.7 L793.0,581.0 L793.5,583.3 L793.9,585.6 L794.4,587.8 L794.8,590.0 L795.2,592.1 L795.7,594.2 L796.1,596.3 L796.5,598.3 L797.0,600.3 L797.4,602.3 L797.9,604.3 L798.3,606.2 L798.7,608.1 L799.2,609.9 L799.6,611.7 L800.0,613.5 L800.5,615.3 L800.9,617.0 L801.4,618.7 L801.8,620.4 L802.2,622.1 L802.7,623.7 L803.1,625.3 L803.5,626.9 L804.0,628.4 L804.4,629.9 L804.9,631.4 L805.3,632.9 L805.7,634.4 L806.2,635.8 L806.6,637.2 L807.0,638.6 L807.5,640.0 L807.9,641.3 L808.3,642.6 L808.8,643.9 L809.2,645.2 L809.7,646.5 L810.1,647.7 L810.5,648.9 L811.0,650.1 L811.4,651.3 L811.8,652.5 L812.3,653.6 L812.7,654.7 L813.2,655.9 L813.6,657.0 L814.0,658.0 L814.5,659.1 L814.9,660.1 L815.3,661.2 L815.8,662.2 L816.2,663.2 L816.7,664.2 L817.1,665.2 L817.5,666.1 L818.0,667.1 L818.4,668.0 L818.8,668.9 L819.3,669.8 L819.7,670.7 L820.1,671.6 L820.6,672.4 L821.0,673.3 L821.5,674.1 L821.9,675.0 L822.3,675.8 L822.8,676.6 L823.2,677.4 L823.6,678.2 L824.1,678.9 L824.5,679.7 L825.0,680.4 L825.4,681.2 L825.8,681.9 L826.3,682.6 L826.7,683.3 L827.1,684.0 L827.6,684.7 L828.0,685.4 L828.5,686.1 L828.9,686.7 L829.3,687.4 L829.8,688.0 L830.2,688.7 L830.6,689.3 L831.1,689.9 L831.5,690.5 L832.0,691.1 L832.4,691.7 L832.8,692.3 L833.3,692.9 L833.7,693.5 L834.1,694.0 L834.6,694.6 L835.0,695.1 L835.4,695.7 L835.9,696.2 L836.3,696.7 L836.8,697.3 L837.2,697.8 L837.6,698.3 L838.1,698.8 L838.5,699.3 L838.9,699.8 L839.4,700.3 L839.8,700.8 L840.3,701.2 L840.7,701.7 L841.1,702.2 L841.6,702.6 L842.0,703.1 L842.4,703.5 L842.9,703.9 L843.3,704.4 L843.8,704.8 L844.2,705.2 L844.6,705.7 L845.1,706.1 L845.5,706.5 L845.9,706.9 L846.4,707.3 L846.8,707.7 L847.2,708.1 L847.7,708.5 L848.1,708.8 L848.6,709.2 L849.0,709.6 L849.4,710.0 L849.9,710.3 L850.3,710.7 L850.7,711.0 L851.2,711.4 L851.6,711.7 L852.1,712.1 L852.5,712.4 L852.9,712.8 L853.4,713.1 L853.8,713.4 L854.2,713.7 L854.7,714.1 L855.1,714.4 L855.6,714.7 L856.0,715.0 L856.4,715.3 L856.9,715.6 L858.6,716.8 L860.4,718.0 L862.1,719.0 L863.9,720.1 L865.6,721.1 L867.4,722.1 L869.1,723.0 L870.9,723.9 L872.6,724.7 L874.3,725.6 L876.1,726.4 L877.8,727.1 L879.6,727.9 L881.3,728.6 L883.1,729.2 L884.8,729.9 L886.6,730.5 L888.3,731.2 L890.1,731.8 L891.8,732.3 L893.6,732.9 L895.3,733.4 L897.1,733.9 L898.8,734.4 L900.6,734.9 L902.3,735.4 L904.1,735.9 L905.8,736.3 L907.6,736.7 L909.3,737.2 L911.1,737.6 L912.8,737.9 L914.6,738.3 L916.3,738.7 L918.1,739.1 L919.8,739.4 L921.6,739.7 L923.3,740.1 L925.1,740.4 L926.8,740.7 L928.6,741.0 L930.3,741.3 L932.0,741.6 L933.8,741.9 L935.5,742.1 L937.3,742.4 L939.0,742.7 L940.8,742.9 L942.5,743.2 L944.3,743.4 L946.0,743.6 L947.8,743.9 L949.5,744.1 L951.3,744.3 L953.0,744.5 L954.8,744.7 L956.5,744.9 L958.3,745.1 L960.0,745.3 L961.8,745.5 L963.5,745.7 L965.3,745.9 L967.0,746.0 L968.8,746.2 L970.5,746.4 L972.3,746.5 L974.0,746.7 L975.8,746.9 L977.5,747.0 L979.3,747.2 L981.0,747.3 L982.8,747.4 L984.5,747.6 L986.2,747.7 L988.0,747.9 L989.7,748.0 L991.5,748.1 L993.2,748.2 L995.0,748.4 L996.7,748.5 L998.5,748.6 L1000.2,748.7 L1002.0,748.8 L1003.7,749.0 L1005.5,749.1 L1007.2,749.2 L1009.0,749.3 L1010.7,749.4 L1012.5,749.5 L1014.2,749.6 L1016.0,749.7 L1017.7,749.8 L1019.5,749.9 L1021.2,750.0 L1023.0,750.1 L1024.7,750.2 L1026.5,750.2 L1028.2,750.3 L1030.0,750.4 L1031.7,750.5 L1033.5,750.6 L1035.2,750.7 L1037.0,750.7 L1038.7,750.8 L1040.4,750.9 L1042.2,751.0 L1043.9,751.1 L1045.7,751.1 L1047.4,751.2 L1049.2,751.3 L1050.9,751.3 L1052.7,751.4 L1054.4,751.5 L1056.2,751.5 L1057.9,751.6 L1059.7,751.7 L1061.4,751.7 L1063.2,751.8 L1064.9,751.9 L1066.7,751.9 L1068.4,752.0 L1070.2,752.0 L1071.9,752.1 L1073.7,752.2 L1075.4,752.2 L1077.2,752.3 L1078.9,752.3 L1080.7,752.4 L1082.4,752.4 L1084.2,752.5 L1085.9,752.5 L1087.7,752.6 L1089.4,752.6 L1091.2,752.7 L1092.9,752.7" stroke="#ba9280" stroke-width="3.0"/>
<path d="M636.6,736.0 L638.3,735.2 L640.1,734.4 L641.8,733.6 L643.6,732.7 L645.3,731.7 L647.1,730.7 L647.5,730.5 L647.9,730.2 L648.4,730.0 L648.8,729.7 L649.2,729.4 L649.7,729.2 L650.1,728.9 L650.6,728.6 L651.0,728.3 L651.4,728.1 L651.9,727.8 L652.3,727.5 L652.7,727.2 L653.2,726.9 L653.6,726.6 L654.1,726.3 L654.5,726.0 L654.9,725.7 L655.4,725.4 L655.8,725.0 L656.2,724.7 L656.7,724.4 L657.1,724.0 L657.5,723.7 L658.0,723.4 L658.4,723.0 L658.9,722.7 L659.3,722.3 L659.7,722.0 L660.2,721.6 L660.6,721.2 L661.0,720.9 L661.5,720.5 L661.9,720.1 L662.4,719.7 L662.8,719.3 L663.2,718.9 L663.7,718.5 L664.1,718.1 L664.5,717.7 L665.0,717.3 L665.4,716.8 L665.9,716.4 L666.3,716.0 L666.7,715.5 L667.2,715.1 L667.6,714.6 L668.0,714.2 L668.5,713.7 L668.9,713.2 L669.4,712.7 L669.8,712.3 L670.2,711.8 L670.7,711.3 L671.1,710.7 L671.5,710.2 L672.0,709.7 L672.4,709.2 L672.8,708.6 L673.3,708.1 L673.7,707.5 L674.2,707.0 L674.6,706.4 L675.0,705.8 L675.5,705.2 L675.9,704.6 L676.3,704.0 L676.8,703.4 L677.2,702.8 L677.7,702.2 L678.1,701.5 L678.5,700.9 L679.0,700.2 L679.4,699.5 L679.8,698.8 L680.3,698.2 L680.7,697.4 L681.2,696.7 L681.6,696.0 L682.0,695.3 L682.5,694.5 L682.9,693.8 L683.3,693.0 L683.8,692.2 L684.2,691.4 L684.6,690.6 L685.1,689.8 L685.5,688.9 L686.0,688.1 L686.4,687.2 L686.8,686.3 L687.3,685.5 L687.7,684.5 L688.1,683.6 L688.6,682.7 L689.0,681.7 L689.5,680.8 L689.9,679.8 L690.3,678.8 L690.8,677.8 L691.2,676.7 L691.6,675.7 L692.1,674.6 L692.5,673.5 L693.0,672.4 L693.4,671.3 L693.8,670.2 L694.3,669.0 L694.7,667.8 L695.1,666.6 L695.6,665.4 L696.0,664.1 L696.5,662.9 L696.9,661.6 L697.3,660.3 L697.8,659.0 L698.2,657.6 L698.6,656.2 L699.1,654.8 L699.5,653.4 L699.9,651.9 L700.4,650.4 L700.8,648.9 L701.3,647.4 L701.7,645.8 L702.1,644.2 L702.6,642.6 L703.0,641.0 L703.4,639.3 L703.9,637.6 L704.3,635.9 L704.8,634.1 L705.2,632.3 L705.6,630.4 L706.1,628.6 L706.5,626.7 L706.9,624.7 L707.4,622.8 L707.8,620.7 L708.3,618.7 L708.7,616.6 L709.1,614.5 L709.6,612.3 L710.0,610.1 L710.4,607.9 L710.9,605.6 L711.3,603.3 L711.7,600.9 L712.2,598.5 L712.6,596.1 L713.1,593.6 L713.5,591.0 L713.9,588.4 L714.4,585.8 L714.8,583.1 L715.2,580.4 L715.7,577.6 L716.1,574.8 L716.6,571.9 L717.0,569.0 L717.4,566.0 L717.9,563.0 L718.3,559.9 L718.7,556.7 L719.2,553.5 L719.6,550.3 L720.1,547.0 L720.5,543.6 L720.9,540.2 L721.4,536.8 L721.8,533.2 L722.2,529.7 L722.7,526.0 L723.1,522.3 L723.6,518.6 L724.0,514.8 L724.4,510.9 L724.9,507.0 L725.3,503.0 L725.7,499.0 L726.2,494.9 L726.6,490.8 L727.0,486.6 L727.5,482.4 L727.9,478.1 L728.4,473.7 L728.8,469.4 L729.2,464.9 L729.7,460.5 L730.1,455.9 L730.5,451.4 L731.0,446.8 L731.4,442.2 L731.9,437.5 L732.3,432.8 L732.7,428.1 L733.2,423.3 L733.6,418.6 L734.0,413.8 L734.5,409.0 L734.9,404.2 L735.4,399.4 L735.8,394.7 L736.2,389.9 L736.7,385.1 L737.1,380.4 L737.5,375.6 L738.0,370.9 L738.4,366.3 L738.8,361.7 L739.3,357.1 L739.7,352.6 L740.2,348.2 L740.6,343.8 L741.0,339.6 L741.5,335.4 L741.9,331.3 L742.3,327.3 L742.8,323.4 L743.2,319.7 L743.7,316.0 L744.1,312.5 L744.5,309.2 L745.0,306.0 L745.4,302.9 L745.8,300.0 L746.3,297.3 L746.7,294.7 L747.2,292.4 L747.6,290.2 L748.0,288.2 L748.5,286.4 L748.9,284.8 L749.3,283.4 L749.8,282.2 L750.2,281.2 L750.7,280.5 L751.1,279.9 L751.5,279.6 M752.4,279.6 L752.8,279.9 L753.3,280.3 L753.7,281.0 L754.1,281.9 L754.6,282.9 L755.0,284.1 L755.5,285.6 L755.9,287.2 L756.3,288.9 L756.8,290.9 L757.2,293.0 L757.6,295.2 L758.1,297.6 L758.5,300.2 L759.0,302.9 L759.4,305.8 L759.8,308.7 L760.3,311.8 L760.7,315.1 L761.1,318.4 L761.6,321.8 L762.0,325.4 L762.5,329.0 L762.9,332.7 L763.3,336.5 L763.8,340.4 L764.2,344.3 L764.6,348.4 L765.1,352.4 L765.5,356.5 L765.9,360.7 L766.4,364.9 L766.8,369.1 L767.3,373.4 L767.7,377.7 L768.1,382.0 L768.6,386.3 L769.0,390.6 L769.4,394.9 L769.9,399.3 L770.3,403.6 L770.8,407.9 L771.2,412.2 L771.6,416.5 L772.1,420.8 L772.5,425.1 L772.9,429.3 L773.4,433.5 L773.8,437.7 L774.3,441.9 L774.7,446.0 L775.1,450.1 L775.6,454.2 L776.0,458.2 L776.4,462.2 L776.9,466.1 L777.3,470.1 L777.8,473.9 L778.2,477.7 L778.6,481.5 L779.1,485.3 L779.5,489.0 L779.9,492.6 L780.4,496.2 L780.8,499.8 L781.2,503.3 L781.7,506.8 L782.1,510.2 L782.6,513.5 L783.0,516.9 L783.4,520.2 L783.9,523.4 L784.3,526.6 L784.7,529.7 L785.2,532.8 L785.6,535.9 L786.1,538.9 L786.5,541.8 L786.9,544.7 L787.4,547.6 L787.8,550.4 L788.2,553.2 L788.7,555.9 L789.1,558.6 L789.6,561.3 L790.0,563.9 L790.4,566.4 L790.9,569.0 L791.3,571.5 L791.7,573.9 L792.2,576.3 L792.6,578.7 L793.0,581.0 L793.5,583.3 L793.9,585.6 L794.4,587.8 L794.8,590.0 L795.2,592.1 L795.7,594.2 L796.1,596.3 L796.5,598.3 L797.0,600.3 L797.4,602.3 L797.9,604.3 L798.3,606.2 L798.7,608.1 L799.2,609.9 L799.6,611.7 L800.0,613.5 L800.5,615.3 L800.9,617.0 L801.4,618.7 L801.8,620.4 L802.2,622.1 L802.7,623.7 L803.1,625.3 L803.5,626.9 L804.0,628.4 L804.4,629.9 L804.9,631.4 L805.3,632.9 L805.7,634.4 L806.2,635.8 L806.6,637.2 L807.0,638.6 L807.5,640.0 L807.9,641.3 L808.3,642.6 L808.8,643.9 L809.2,645.2 L809.7,646.5 L810.1,647.7 L810.5,648.9 L811.0,650.1 L811.4,651.3 L811.8,652.5 L812.3,653.6 L812.7,654.7 L813.2,655.9 L813.6,657.0 L814.0,658.0 L814.5,659.1 L814.9,660.1 L815.3,661.2 L815.8,662.2 L816.2,663.2 L816.7,664.2 L817.1,665.2 L817.5,666.1 L818.0,667.1 L818.4,668.0 L818.8,668.9 L819.3,669.8 L819.7,670.7 L820.1,671.6 L820.6,672.4 L821.0,673.3 L821.5,674.1 L821.9,675.0 L822.3,675.8 L822.8,676.6 L823.2,677.4 L823.6,678.2 L824.1,678.9 L824.5,679.7 L825.0,680.4 L825.4,681.2 L825.8,681.9 L826.3,682.6 L826.7,683.3 L827.1,684.0 L827.6,684.7 L828.0,685.4 L828.5,686.1 L828.9,686.7 L829.3,687.4 L829.8,688.0 L830.2,688.7 L830.6,689.3 L831.1,689.9 L831.5,690.5 L832.0,691.1 L832.4,691.7 L832.8,692.3 L833.3,692.9 L833.7,693.5 L834.1,694.0 L834.6,694.6 L835.0,695.1 L835.4,695.7 L835.9,696.2 L836.3,696.7 L836.8,697.3 L837.2,697.8 L837.6,698.3 L838.1,698.8 L838.5,699.3 L838.9,699.8 L839.4,700.3 L839.8,700.8 L840.3,701.2 L840.7,701.7 L841.1,702.2 L841.6,702.6 L842.0,703.1 L842.4,703.5 L842.9,703.9 L843.3,704.4 L843.8,704.8 L844.2,705.2 L844.6,705.7 L845.1,706.1 L845.5,706.5 L845.9,706.9 L846.4,707.3 L846.8,707.7 L847.2,708.1 L847.7,708.5 L848.1,708.8 L848.6,709.2 L849.0,709.6 L849.4,710.0 L849.9,710.3 L850.3,710.7 L850.7,711.0 L851.2,711.4 L851.6,711.7 L852.1,712.1 L852.5,712.4 L852.9,712.8 L853.4,713.1 L853.8,713.4 L854.2,713.7 L854.7,714.1 L855.1,714.4 L855.6,714.7 L856.0,715.0 L856.4,715.3 L856.9,715.6 L858.6,716.8 L860.4,718.0 L862.1,719.0 L863.9,720.1 L865.6,721.1 L867.4,722.1 L869.1,723.0 L870.9,723.9 L872.6,724.7 L874.3,725.6 L876.1,726.4" stroke="#c46a46" stroke-width="2.2" stroke-dasharray="6 6" stroke-dashoffset="3"/>
<path d="M218.7,760.0 L220.4,760.0 L222.2,760.0 L223.9,760.0 L225.7,760.0 L227.4,760.0 L229.2,760.0 L230.9,760.0 L232.7,760.0 L234.4,760.0 L236.2,760.0 L237.9,760.0 L239.7,760.0 L241.4,760.0 L243.2,760.0 L244.9,760.0 L246.7,759.9 L248.4,759.9 L250.2,759.9 L251.9,759.9 L253.7,759.9 L255.4,759.9 L257.2,759.9 L258.9,759.9 L260.7,759.9 L262.4,759.9 L264.2,759.9 L265.9,759.9 L267.7,759.9 L269.4,759.8 L271.2,759.8 L272.9,759.8 L274.6,759.8 L276.4,759.8 L278.1,759.8 L279.9,759.8 L281.6,759.8 L283.4,759.8 L285.1,759.8 L286.9,759.8 L288.6,759.7 L290.4,759.7 L292.1,759.7 L293.9,759.7 L295.6,759.7 L297.4,759.7 L299.1,759.7 L300.9,759.7 L302.6,759.7 L304.4,759.7 L306.1,759.6 L307.9,759.6 L309.6,759.6 L311.4,759.6 L313.1,759.6 L314.9,759.6 L316.6,759.6 L318.4,759.6 L320.1,759.5 L321.9,759.5 L323.6,759.5 L325.4,759.5 L327.1,759.5 L328.8,759.5 L330.6,759.5 L332.3,759.5 L334.1,759.4 L335.8,759.4 L337.6,759.4 L339.3,759.4 L341.1,759.4 L342.8,759.4 L344.6,759.4 L346.3,759.3 L348.1,759.3 L349.8,759.3 L351.6,759.3 L353.3,759.3 L355.1,759.3 L356.8,759.2 L358.6,759.2 L360.3,759.2 L362.1,759.2 L363.8,759.2 L365.6,759.2 L367.3,759.1 L369.1,759.1 L370.8,759.1 L372.6,759.1 L374.3,759.1 L376.1,759.1 L377.8,759.0 L379.6,759.0 L381.3,759.0 L383.0,759.0 L384.8,758.9 L386.5,758.9 L388.3,758.9 L390.0,758.9 L391.8,758.9 L393.5,758.8 L395.3,758.8 L397.0,758.8 L398.8,758.8 L400.5,758.7 L402.3,758.7 L404.0,758.7 L405.8,758.7 L407.5,758.6 L409.3,758.6 L411.0,758.6 L412.8,758.6 L414.5,758.5 L416.3,758.5 L418.0,758.5 L419.8,758.4 L421.5,758.4 L423.3,758.4 L425.0,758.4 L426.8,758.3 L428.5,758.3 L430.3,758.3 L432.0,758.2 L433.8,758.2 L435.5,758.2 L437.2,758.1 L439.0,758.1 L440.7,758.1 L442.5,758.0 L444.2,758.0 L446.0,757.9 L447.7,757.9 L449.5,757.9 L451.2,757.8 L453.0,757.8 L454.7,757.7 L456.5,757.7 L458.2,757.7 L460.0,757.6 L461.7,757.6 L463.5,757.5 L465.2,757.5 L467.0,757.4 L468.7,757.4 L470.5,757.3 L472.2,757.3 L474.0,757.2 L475.7,757.2 L477.5,757.1 L479.2,757.1 L481.0,757.0 L482.7,756.9 L484.5,756.9 L486.2,756.8 L488.0,756.8 L489.7,756.7 L491.5,756.6 L493.2,756.6 L494.9,756.5 L496.7,756.4 L498.4,756.4 L500.2,756.3 L501.9,756.2 L503.7,756.1 L505.4,756.1 L507.2,756.0 L508.9,755.9 L510.7,755.8 L512.4,755.7 L514.2,755.7 L515.9,755.6 L517.7,755.5 L519.4,755.4 L521.2,755.3 L522.9,755.2 L524.7,755.1 L526.4,755.0 L528.2,754.9 L529.9,754.8 L531.7,754.7 L533.4,754.6 L535.2,754.5 L536.9,754.3 L538.7,754.2 L540.4,754.1 L542.2,754.0 L543.9,753.8 L545.7,753.7 L547.4,753.6 L549.1,753.4 L550.9,753.3 L552.6,753.1 L554.4,753.0 L556.1,752.8 L557.9,752.7 L559.6,752.5 L561.4,752.3 L563.1,752.2 L564.9,752.0 L566.6,751.8 L568.4,751.6 L570.1,751.4 L571.9,751.2 L573.6,751.0 L575.4,750.8 L577.1,750.6 L578.9,750.3 L580.6,750.1 L582.4,749.9 L584.1,749.6 L585.9,749.3 L587.6,749.1 L589.4,748.8 L591.1,748.5 L592.9,748.2 L594.6,747.9 L596.4,747.6 L598.1,747.3 L599.9,746.9 L601.6,746.6 L603.3,746.2 L605.1,745.9 L606.8,745.5 L608.6,745.1 L610.3,744.7 L612.1,744.2 L613.8,743.8 L615.6,743.3 L617.3,742.8 L619.1,742.3 L620.8,741.8 L622.6,741.3 L624.3,740.7 L626.1,740.1 L627.8,739.5 L629.6,738.9 L631.3,738.2 L633.1,737.5 L634.8,736.8 L636.6,736.0 M751.5,279.6 L752.0,279.5 L752.4,279.6 M876.1,726.4 L877.8,727.1 L879.6,727.9 L881.3,728.6 L883.1,729.2 L884.8,729.9 L886.6,730.5 L888.3,731.2 L890.1,731.8 L891.8,732.3 L893.6,732.9 L895.3,733.4 L897.1,733.9 L898.8,734.4 L900.6,734.9 L902.3,735.4 L904.1,735.9 L905.8,736.3 L907.6,736.7 L909.3,737.2 L911.1,737.6 L912.8,737.9 L914.6,738.3 L916.3,738.7 L918.1,739.1 L919.8,739.4 L921.6,739.7 L923.3,740.1 L925.1,740.4 L926.8,740.7 L928.6,741.0 L930.3,741.3 L932.0,741.6 L933.8,741.9 L935.5,742.1 L937.3,742.4 L939.0,742.7 L940.8,742.9 L942.5,743.2 L944.3,743.4 L946.0,743.6 L947.8,743.9 L949.5,744.1 L951.3,744.3 L953.0,744.5 L954.8,744.7 L956.5,744.9 L958.3,745.1 L960.0,745.3 L961.8,745.5 L963.5,745.7 L965.3,745.9 L967.0,746.0 L968.8,746.2 L970.5,746.4 L972.3,746.5 L974.0,746.7 L975.8,746.9 L977.5,747.0 L979.3,747.2 L981.0,747.3 L982.8,747.4 L984.5,747.6 L986.2,747.7 L988.0,747.9 L989.7,748.0 L991.5,748.1 L993.2,748.2 L995.0,748.4 L996.7,748.5 L998.5,748.6 L1000.2,748.7 L1002.0,748.8 L1003.7,749.0 L1005.5,749.1 L1007.2,749.2 L1009.0,749.3 L1010.7,749.4 L1012.5,749.5 L1014.2,749.6 L1016.0,749.7 L1017.7,749.8 L1019.5,749.9 L1021.2,750.0 L1023.0,750.1 L1024.7,750.2 L1026.5,750.2 L1028.2,750.3 L1030.0,750.4 L1031.7,750.5 L1033.5,750.6 L1035.2,750.7 L1037.0,750.7 L1038.7,750.8 L1040.4,750.9 L1042.2,751.0 L1043.9,751.1 L1045.7,751.1 L1047.4,751.2 L1049.2,751.3 L1050.9,751.3 L1052.7,751.4 L1054.4,751.5 L1056.2,751.5 L1057.9,751.6 L1059.7,751.7 L1061.4,751.7 L1063.2,751.8 L1064.9,751.9 L1066.7,751.9 L1068.4,752.0 L1070.2,752.0 L1071.9,752.1 L1073.7,752.2 L1075.4,752.2 L1077.2,752.3 L1078.9,752.3 L1080.7,752.4 L1082.4,752.4 L1084.2,752.5 L1085.9,752.5 L1087.7,752.6 L1089.4,752.6 L1091.2,752.7 L1092.9,752.7" stroke="#c46a46" stroke-width="2.4" stroke-dasharray="18 4" stroke-dashoffset="7"/>
<path d="M218.7,759.8 L220.4,759.7 L222.2,759.7 L223.9,759.7 L225.7,759.7 L227.4,759.7 L229.2,759.7 L230.9,759.7 L232.7,759.7 L234.4,759.7 L236.2,759.7 L237.9,759.6 L239.7,759.6 L241.4,759.6 L243.2,759.6 L244.9,759.6 L246.7,759.6 L248.4,759.6 L250.2,759.6 L251.9,759.5 L253.7,759.5 L255.4,759.5 L257.2,759.5 L258.9,759.5 L260.7,759.5 L262.4,759.5 L264.2,759.5 L265.9,759.4 L267.7,759.4 L269.4,759.4 L271.2,759.4 L272.9,759.4 L274.6,759.4 L276.4,759.4 L278.1,759.3 L279.9,759.3 L281.6,759.3 L283.4,759.3 L285.1,759.3 L286.9,759.3 L288.6,759.2 L290.4,759.2 L292.1,759.2 L293.9,759.2 L295.6,759.2 L297.4,759.1 L299.1,759.1 L300.9,759.1 L302.6,759.1 L304.4,759.1 L306.1,759.0 L307.9,759.0 L309.6,759.0 L311.4,759.0 L313.1,759.0 L314.9,758.9 L316.6,758.9 L318.4,758.9 L320.1,758.9 L321.9,758.9 L323.6,758.8 L325.4,758.8 L327.1,758.8 L328.8,758.8 L330.6,758.7 L332.3,758.7 L334.1,758.7 L335.8,758.7 L337.6,758.6 L339.3,758.6 L341.1,758.6 L342.8,758.5 L344.6,758.5 L346.3,758.5 L348.1,758.5 L349.8,758.4 L351.6,758.4 L353.3,758.4 L355.1,758.3 L356.8,758.3 L358.6,758.3 L360.3,758.2 L362.1,758.2 L363.8,758.2 L365.6,758.1 L367.3,758.1 L369.1,758.1 L370.8,758.0 L372.6,758.0 L374.3,757.9 L376.1,757.9 L377.8,757.9 L379.6,757.8 L381.3,757.8 L383.0,757.7 L384.8,757.7 L386.5,757.6 L388.3,757.6 L390.0,757.6 L391.8,757.5 L393.5,757.5 L395.3,757.4 L397.0,757.4 L398.8,757.3 L400.5,757.3 L402.3,757.2 L404.0,757.1 L405.8,757.1 L407.5,757.0 L409.3,757.0 L411.0,756.9 L412.8,756.9 L414.5,756.8 L416.3,756.7 L418.0,756.7 L419.8,756.6 L421.5,756.5 L423.3,756.5 L425.0,756.4 L426.8,756.3 L428.5,756.3 L430.3,756.2 L432.0,756.1 L433.8,756.0 L435.5,755.9 L437.2,755.9 L439.0,755.8 L440.7,755.7 L442.5,755.6 L444.2,755.5 L446.0,755.4 L447.7,755.3 L449.5,755.2 L451.2,755.1 L453.0,755.0 L454.7,754.9 L456.5,754.8 L458.2,754.7 L460.0,754.6 L461.7,754.5 L463.5,754.4 L465.2,754.2 L467.0,754.1 L468.7,754.0 L470.5,753.9 L472.2,753.7 L474.0,753.6 L475.7,753.4 L477.5,753.3 L479.2,753.2 L481.0,753.0 L482.7,752.8 L484.5,752.7 L486.2,752.5 L488.0,752.3 L489.7,752.2 L491.5,752.0 L493.2,751.8 L494.9,751.6 L496.7,751.4 L498.4,751.2 L500.2,751.0 L501.9,750.8 L503.7,750.5 L505.4,750.3 L507.2,750.1 L508.9,749.8 L510.7,749.6 L512.4,749.3 L514.2,749.1 L515.9,748.8 L517.7,748.5 L519.4,748.2 L521.2,747.9 L522.9,747.6 L524.7,747.2 L526.4,746.9 L528.2,746.5 L529.9,746.2 L531.7,745.8 L533.4,745.4 L535.2,745.0 L536.9,744.6 L538.7,744.1 L540.4,743.7 L542.2,743.2 L543.9,742.7 L545.7,742.2 L547.4,741.7 L549.1,741.1 L550.9,740.6 L552.6,740.0 L554.4,739.3 L556.1,738.7 L557.9,738.0 L559.6,737.3 L561.4,736.6 L563.1,735.8 L564.9,735.0 L566.6,734.2 L568.4,733.3 L570.1,732.4 L571.9,731.4 L573.6,730.4 L574.1,730.2 L574.5,729.9 L574.9,729.7 L575.4,729.4 L575.8,729.1 L576.2,728.8 L576.7,728.6 L577.1,728.3 L577.6,728.0 L578.0,727.7 L578.4,727.4 L578.9,727.1 L579.3,726.8 L579.7,726.5 L580.2,726.2 L580.6,725.9 L581.1,725.6 L581.5,725.3 L581.9,724.9 L582.4,724.6 L582.8,724.3 L583.2,724.0 L583.7,723.6 L584.1,723.3 L584.6,722.9 L585.0,722.6 L585.4,722.2 L585.9,721.9 L586.3,721.5 L586.7,721.1 L587.2,720.7 L587.6,720.4 L588.0,720.0 L588.5,719.6 L588.9,719.2 L589.4,718.8 L589.8,718.4 L590.2,718.0 L590.7,717.6 L591.1,717.1 L591.5,716.7 L592.0,716.3 L592.4,715.8 L592.9,715.4 L593.3,714.9 L593.7,714.5 L594.2,714.0 L594.6,713.5 L595.0,713.1 L595.5,712.6 L595.9,712.1 L596.4,711.6 L596.8,711.1 L597.2,710.6 L597.7,710.0 L598.1,709.5 L598.5,709.0 L599.0,708.4 L599.4,707.9 L599.9,707.3 L600.3,706.7 L600.7,706.2 L601.2,705.6 L601.6,705.0 L602.0,704.4 L602.5,703.8 L602.9,703.2 L603.3,702.5 L603.8,701.9 L604.2,701.2 L604.7,700.6 L605.1,699.9 L605.5,699.2 L606.0,698.5 L606.4,697.8 L606.8,697.1 L607.3,696.4 L607.7,695.7 L608.2,694.9 L608.6,694.2 L609.0,693.4 L609.5,692.6 L609.9,691.8 L610.3,691.0 L610.8,690.2 L611.2,689.4 L611.7,688.5 L612.1,687.7 L612.5,686.8 L613.0,685.9 L613.4,685.0 L613.8,684.1 L614.3,683.1 L614.7,682.2 L615.1,681.2 L615.6,680.3 L616.0,679.3 L616.5,678.2 L616.9,677.2 L617.3,676.2 L617.8,675.1 L618.2,674.0 L618.6,672.9 L619.1,671.8 L619.5,670.7 L620.0,669.5 L620.4,668.3 L620.8,667.1 L621.3,665.9 L621.7,664.7 L622.1,663.4 L622.6,662.1 L623.0,660.8 L623.5,659.5 L623.9,658.1 L624.3,656.7 L624.8,655.3 L625.2,653.9 L625.6,652.4 L626.1,651.0 L626.5,649.4 L627.0,647.9 L627.4,646.4 L627.8,644.8 L628.3,643.1 L628.7,641.5 L629.1,639.8 L629.6,638.1 L630.0,636.4 L630.4,634.6 L630.9,632.8 L631.3,630.9 L631.8,629.1 L632.2,627.1 L632.6,625.2 L633.1,623.2 L633.5,621.2 L633.9,619.1 L634.4,617.0 L634.8,614.9 L635.3,612.7 L635.7,610.5 L636.1,608.3 L636.6,606.0 L637.0,603.6 L637.4,601.2 L637.9,598.8 L638.3,596.3 L638.8,593.8 L639.2,591.2 L639.6,588.6 L640.1,586.0 L640.5,583.2 L640.9,580.5 L641.4,577.7 L641.8,574.8 L642.2,571.9 L642.7,568.9 L643.1,565.9 L643.6,562.8 L644.0,559.6 L644.4,556.4 L644.9,553.2 L645.3,549.9 L645.7,546.5 L646.2,543.1 L646.6,539.6 L647.1,536.0 L647.5,532.4 L647.9,528.8 L648.4,525.0 L648.8,521.2 L649.2,517.4 L649.7,513.4 L650.1,509.5 L650.6,505.4 L651.0,501.3 L651.4,497.1 L651.9,492.9 L652.3,488.6 L652.7,484.2 L653.2,479.8 L653.6,475.4 L654.1,470.8 L654.5,466.2 L654.9,461.6 L655.4,456.9 L655.8,452.1 L656.2,447.3 L656.7,442.4 L657.1,437.5 L657.5,432.6 L658.0,427.6 L658.4,422.6 L658.9,417.5 L659.3,412.4 L659.7,407.3 L660.2,402.1 L660.6,396.9 L661.0,391.7 L661.5,386.5 L661.9,381.3 L662.4,376.1 L662.8,370.9 L663.2,365.7 L663.7,360.5 L664.1,355.4 L664.5,350.2 L665.0,345.1 L665.4,340.1 L665.9,335.1 L666.3,330.2 L666.7,325.3 L667.2,320.5 L667.6,315.8 L668.0,311.2 L668.5,306.7 L668.9,302.3 L669.4,298.0 L669.8,293.9 L670.2,289.9 L670.7,286.0 L671.1,282.3 L671.5,278.7 L672.0,275.3 L672.4,272.1 L672.8,269.1 L673.3,266.3 L673.7,263.7 L674.2,261.2 L674.6,259.0 L675.0,257.0 L675.5,255.3 L675.9,253.7 L676.3,252.4 L676.8,251.3 L677.2,250.5 L677.7,249.9 L678.1,249.5 L678.5,249.4 L679.0,249.5 L679.4,249.8 L679.8,250.3 L680.3,251.1 L680.7,252.0 L681.2,253.2 L681.6,254.5 L682.0,256.1 L682.5,257.9 L682.9,259.8 L683.3,262.0 L683.8,264.3 L684.2,266.8 L684.6,269.5 L685.1,272.3 L685.5,275.3 L686.0,278.4 L686.4,281.7 L686.8,285.1 L687.3,288.7 L687.7,292.4 L688.1,296.1 L688.6,300.0 L689.0,304.0 L689.5,308.1 L689.9,312.3 L690.3,316.5 L690.8,320.9 L691.2,325.2 L691.6,329.7 L692.1,334.2 L692.5,338.7 L693.0,343.3 L693.4,347.9 L693.8,352.6 L694.3,357.2 L694.7,361.9 L695.1,366.6 L695.6,371.3 L696.0,376.0 L696.5,380.7 L696.9,385.4 L697.3,390.1 L697.8,394.7 L698.2,399.4 L698.6,404.0 L699.1,408.6 L699.5,413.2 L699.9,417.7 L700.4,422.2 L700.8,426.7 L701.3,431.1 L701.7,435.5 L702.1,439.9 L702.6,444.2 L703.0,448.5 L703.4,452.7 L703.9,456.9 L704.3,461.1 L704.8,465.1 L705.2,469.2 L705.6,473.2 L706.1,477.1 L706.5,481.0 L706.9,484.8 L707.4,488.6 L707.8,492.4 L708.3,496.0 L708.7,499.7 L709.1,503.3 L709.6,506.8 L710.0,510.3 L710.4,513.7 L710.9,517.1 L711.3,520.4 L711.7,523.7 L712.2,526.9 L712.6,530.1 L713.1,533.2 L713.5,536.3 L713.9,539.3 L714.4,542.3 L714.8,545.2 L715.2,548.1 L715.7,550.9 L716.1,553.7 L716.6,556.4 L717.0,559.1 L717.4,561.8 L717.9,564.4 L718.3,567.0 L718.7,569.5 L719.2,572.0 L719.6,574.4 L720.1,576.8 L720.5,579.2 L720.9,581.5 L721.4,583.8 L721.8,586.1 L722.2,588.3 L722.7,590.4 L723.1,592.6 L723.6,594.7 L724.0,596.7 L724.4,598.8 L724.9,600.8 L725.3,602.7 L725.7,604.7 L726.2,606.6 L726.6,608.5 L727.0,610.3 L727.5,612.1 L727.9,613.9 L728.4,615.6 L728.8,617.4 L729.2,619.0 L729.7,620.7 L730.1,622.3 L730.5,624.0 L731.0,625.5 L731.4,627.1 L731.9,628.6 L732.3,630.1 L732.7,631.6 L733.2,633.1 L733.6,634.5 L734.0,636.0 L734.5,637.3 L734.9,638.7 L735.4,640.1 L735.8,641.4 L736.2,642.7 L736.7,644.0 L737.1,645.2 L737.5,646.5 L738.0,647.7 L738.4,648.9 L738.8,650.1 L739.3,651.3 L739.7,652.4 L740.2,653.6 L740.6,654.7 L741.0,655.8 L741.5,656.9 L741.9,658.0 L742.3,659.0 L742.8,660.0 L743.2,661.1 L743.7,662.1 L744.1,663.1 L744.5,664.0 L745.0,665.0 L745.4,665.9 L745.8,666.9 L746.3,667.8 L746.7,668.7 L747.2,669.6 L747.6,670.5 L748.0,671.3 L748.5,672.2 L748.9,673.0 L749.3,673.9 L749.8,674.7 L750.2,675.5 L750.7,676.3 L751.1,677.1 L751.5,677.8 L752.0,678.6 L752.4,679.4 L752.8,680.1 L753.3,680.8 L753.7,681.6 L754.1,682.3 L754.6,683.0 L755.0,683.7 L755.5,684.3 L755.9,685.0 L756.3,685.7 L756.8,686.3 L757.2,687.0 L757.6,687.6 L758.1,688.2 L758.5,688.9 L759.0,689.5 L759.4,690.1 L759.8,690.7 L760.3,691.3 L760.7,691.9 L761.1,692.4 L761.6,693.0 L762.0,693.6 L762.5,694.1 L762.9,694.7 L763.3,695.2 L763.8,695.7 L764.2,696.3 L764.6,696.8 L765.1,697.3 L765.5,697.8 L765.9,698.3 L766.4,698.8 L766.8,699.3 L767.3,699.7 L767.7,700.2 L768.1,700.7 L768.6,701.2 L769.0,701.6 L769.4,702.1 L769.9,702.5 L770.3,703.0 L770.8,703.4 L771.2,703.8 L771.6,704.2 L772.1,704.7 L772.5,705.1 L772.9,705.5 L773.4,705.9 L773.8,706.3 L774.3,706.7 L774.7,707.1 L775.1,707.5 L775.6,707.9 L776.0,708.2 L776.4,708.6 L776.9,709.0 L777.3,709.3 L777.8,709.7 L778.2,710.1 L778.6,710.4 L779.1,710.8 L779.5,711.1 L779.9,711.5 L780.4,711.8 L780.8,712.1 L781.2,712.5 L781.7,712.8 L782.1,713.1 L782.6,713.4 L783.0,713.8 L783.4,714.1 L785.2,715.3 L786.9,716.5 L788.7,717.6 L790.4,718.6 L792.2,719.7 L793.9,720.7 L795.7,721.6 L797.4,722.5 L799.2,723.4 L800.9,724.3 L802.7,725.1 L804.4,725.9 L806.2,726.6 L807.9,727.3 L809.7,728.0 L811.4,728.7 L813.2,729.4 L814.9,730.0 L816.7,730.6 L818.4,731.2 L820.1,731.8 L821.9,732.3 L823.6,732.9 L825.4,733.4 L827.1,733.9 L828.9,734.4 L830.6,734.8 L832.4,735.3 L834.1,735.7 L835.9,736.1 L837.6,736.6 L839.4,737.0 L841.1,737.3 L842.9,737.7 L844.6,738.1 L846.4,738.5 L848.1,738.8 L849.9,739.1 L851.6,739.5 L853.4,739.8 L855.1,740.1 L856.9,740.4 L858.6,740.7 L860.4,741.0 L862.1,741.3 L863.9,741.5 L865.6,741.8 L867.4,742.1 L869.1,742.3 L870.9,742.5 L872.6,742.8 L874.3,743.0 L876.1,743.2 L877.8,743.5 L879.6,743.7 L881.3,743.9 L883.1,744.1 L884.8,744.3 L886.6,744.5 L888.3,744.7 L890.1,744.9 L891.8,745.1 L893.6,745.2 L895.3,745.4 L897.1,745.6 L898.8,745.8 L900.6,745.9 L902.3,746.1 L904.1,746.2 L905.8,746.4 L907.6,746.5 L909.3,746.7 L911.1,746.8 L912.8,747.0 L914.6,747.1 L916.3,747.3 L918.1,747.4 L919.8,747.5 L921.6,747.6 L923.3,747.8 L925.1,747.9 L926.8,748.0 L928.6,748.1 L930.3,748.2 L932.0,748.4 L933.8,748.5 L935.5,748.6 L937.3,748.7 L939.0,748.8 L940.8,748.9 L942.5,749.0 L944.3,749.1 L946.0,749.2 L947.8,749.3 L949.5,749.4 L951.3,749.5 L953.0,749.6 L954.8,749.7 L956.5,749.8 L958.3,749.8 L960.0,749.9 L961.8,750.0 L963.5,750.1 L965.3,750.2 L967.0,750.2 L968.8,750.3 L970.5,750.4 L972.3,750.5 L974.0,750.6 L975.8,750.6 L977.5,750.7 L979.3,750.8 L981.0,750.8 L982.8,750.9 L984.5,751.0 L986.2,751.0 L988.0,751.1 L989.7,751.2 L991.5,751.2 L993.2,751.3 L995.0,751.4 L996.7,751.4 L998.5,751.5 L1000.2,751.5 L1002.0,751.6 L1003.7,751.6 L1005.5,751.7 L1007.2,751.8 L1009.0,751.8 L1010.7,751.9 L1012.5,751.9 L1014.2,752.0 L1016.0,752.0 L1017.7,752.1 L1019.5,752.1 L1021.2,752.2 L1023.0,752.2 L1024.7,752.3 L1026.5,752.3 L1028.2,752.4 L1030.0,752.4 L1031.7,752.5 L1033.5,752.5 L1035.2,752.5 L1037.0,752.6 L1038.7,752.6 L1040.4,752.7 L1042.2,752.7 L1043.9,752.8 L1045.7,752.8 L1047.4,752.8 L1049.2,752.9 L1050.9,752.9 L1052.7,753.0 L1054.4,753.0 L1056.2,753.0 L1057.9,753.1 L1059.7,753.1 L1061.4,753.1 L1063.2,753.2 L1064.9,753.2 L1066.7,753.2 L1068.4,753.3 L1070.2,753.3 L1071.9,753.3 L1073.7,753.4 L1075.4,753.4 L1077.2,753.4 L1078.9,753.5 L1080.7,753.5 L1082.4,753.5 L1084.2,753.6 L1085.9,753.6 L1087.7,753.6 L1089.4,753.7 L1091.2,753.7 L1092.9,753.7" stroke="#aa9088" stroke-width="3.0"/>
<path d="M563.1,735.8 L564.9,735.0 L566.6,734.2 L568.4,733.3 L570.1,732.4 L571.9,731.4 L573.6,730.4 L574.1,730.2 L574.5,729.9 L574.9,729.7 L575.4,729.4 L575.8,729.1 L576.2,728.8 L576.7,728.6 L577.1,728.3 L577.6,728.0 L578.0,727.7 L578.4,727.4 L578.9,727.1 L579.3,726.8 L579.7,726.5 L580.2,726.2 L580.6,725.9 L581.1,725.6 L581.5,725.3 L581.9,724.9 L582.4,724.6 L582.8,724.3 L583.2,724.0 L583.7,723.6 L584.1,723.3 L584.6,722.9 L585.0,722.6 L585.4,722.2 L585.9,721.9 L586.3,721.5 L586.7,721.1 L587.2,720.7 L587.6,720.4 L588.0,720.0 L588.5,719.6 L588.9,719.2 L589.4,718.8 L589.8,718.4 L590.2,718.0 L590.7,717.6 L591.1,717.1 L591.5,716.7 L592.0,716.3 L592.4,715.8 L592.9,715.4 L593.3,714.9 L593.7,714.5 L594.2,714.0 L594.6,713.5 L595.0,713.1 L595.5,712.6 L595.9,712.1 L596.4,711.6 L596.8,711.1 L597.2,710.6 L597.7,710.0 L598.1,709.5 L598.5,709.0 L599.0,708.4 L599.4,707.9 L599.9,707.3 L600.3,706.7 L600.7,706.2 L601.2,705.6 L601.6,705.0 L602.0,704.4 L602.5,703.8 L602.9,703.2 L603.3,702.5 L603.8,701.9 L604.2,701.2 L604.7,700.6 L605.1,699.9 L605.5,699.2 L606.0,698.5 L606.4,697.8 L606.8,697.1 L607.3,696.4 L607.7,695.7 L608.2,694.9 L608.6,694.2 L609.0,693.4 L609.5,692.6 L609.9,691.8 L610.3,691.0 L610.8,690.2 L611.2,689.4 L611.7,688.5 L612.1,687.7 L612.5,686.8 L613.0,685.9 L613.4,685.0 L613.8,684.1 L614.3,683.1 L614.7,682.2 L615.1,681.2 L615.6,680.3 L616.0,679.3 L616.5,678.2 L616.9,677.2 L617.3,676.2 L617.8,675.1 L618.2,674.0 L618.6,672.9 L619.1,671.8 L619.5,670.7 L620.0,669.5 L620.4,668.3 L620.8,667.1 L621.3,665.9 L621.7,664.7 L622.1,663.4 L622.6,662.1 L623.0,660.8 L623.5,659.5 L623.9,658.1 L624.3,656.7 L624.8,655.3 L625.2,653.9 L625.6,652.4 L626.1,651.0 L626.5,649.4 L627.0,647.9 L627.4,646.4 L627.8,644.8 L628.3,643.1 L628.7,641.5 L629.1,639.8 L629.6,638.1 L630.0,636.4 L630.4,634.6 L630.9,632.8 L631.3,630.9 L631.8,629.1 L632.2,627.1 L632.6,625.2 L633.1,623.2 L633.5,621.2 L633.9,619.1 L634.4,617.0 L634.8,614.9 L635.3,612.7 L635.7,610.5 L636.1,608.3 L636.6,606.0 L637.0,603.6 L637.4,601.2 L637.9,598.8 L638.3,596.3 L638.8,593.8 L639.2,591.2 L639.6,588.6 L640.1,586.0 L640.5,583.2 L640.9,580.5 L641.4,577.7 L641.8,574.8 L642.2,571.9 L642.7,568.9 L643.1,565.9 L643.6,562.8 L644.0,559.6 L644.4,556.4 L644.9,553.2 L645.3,549.9 L645.7,546.5 L646.2,543.1 L646.6,539.6 L647.1,536.0 L647.5,532.4 L647.9,528.8 L648.4,525.0 L648.8,521.2 L649.2,517.4 L649.7,513.4 L650.1,509.5 L650.6,505.4 L651.0,501.3 L651.4,497.1 L651.9,492.9 L652.3,488.6 L652.7,484.2 L653.2,479.8 L653.6,475.4 L654.1,470.8 L654.5,466.2 L654.9,461.6 L655.4,456.9 L655.8,452.1 L656.2,447.3 L656.7,442.4 L657.1,437.5 L657.5,432.6 L658.0,427.6 L658.4,422.6 L658.9,417.5 L659.3,412.4 L659.7,407.3 L660.2,402.1 L660.6,396.9 L661.0,391.7 L661.5,386.5 L661.9,381.3 L662.4,376.1 L662.8,370.9 L663.2,365.7 L663.7,360.5 L664.1,355.4 L664.5,350.2 L665.0,345.1 L665.4,340.1 L665.9,335.1 L666.3,330.2 L666.7,325.3 L667.2,320.5 L667.6,315.8 L668.0,311.2 L668.5,306.7 L668.9,302.3 L669.4,298.0 L669.8,293.9 L670.2,289.9 L670.7,286.0 L671.1,282.3 L671.5,278.7 L672.0,275.3 L672.4,272.1 L672.8,269.1 L673.3,266.3 L673.7,263.7 L674.2,261.2 L674.6,259.0 L675.0,257.0 L675.5,255.3 L675.9,253.7 L676.3,252.4 L676.8,251.3 L677.2,250.5 L677.7,249.9 L678.1,249.5 M679.0,249.5 L679.4,249.8 L679.8,250.3 L680.3,251.1 L680.7,252.0 L681.2,253.2 L681.6,254.5 L682.0,256.1 L682.5,257.9 L682.9,259.8 L683.3,262.0 L683.8,264.3 L684.2,266.8 L684.6,269.5 L685.1,272.3 L685.5,275.3 L686.0,278.4 L686.4,281.7 L686.8,285.1 L687.3,288.7 L687.7,292.4 L688.1,296.1 L688.6,300.0 L689.0,304.0 L689.5,308.1 L689.9,312.3 L690.3,316.5 L690.8,320.9 L691.2,325.2 L691.6,329.7 L692.1,334.2 L692.5,338.7 L693.0,343.3 L693.4,347.9 L693.8,352.6 L694.3,357.2 L694.7,361.9 L695.1,366.6 L695.6,371.3 L696.0,376.0 L696.5,380.7 L696.9,385.4 L697.3,390.1 L697.8,394.7 L698.2,399.4 L698.6,404.0 L699.1,408.6 L699.5,413.2 L699.9,417.7 L700.4,422.2 L700.8,426.7 L701.3,431.1 L701.7,435.5 L702.1,439.9 L702.6,444.2 L703.0,448.5 L703.4,452.7 L703.9,456.9 L704.3,461.1 L704.8,465.1 L705.2,469.2 L705.6,473.2 L706.1,477.1 L706.5,481.0 L706.9,484.8 L707.4,488.6 L707.8,492.4 L708.3,496.0 L708.7,499.7 L709.1,503.3 L709.6,506.8 L710.0,510.3 L710.4,513.7 L710.9,517.1 L711.3,520.4 L711.7,523.7 L712.2,526.9 L712.6,530.1 L713.1,533.2 L713.5,536.3 L713.9,539.3 L714.4,542.3 L714.8,545.2 L715.2,548.1 L715.7,550.9 L716.1,553.7 L716.6,556.4 L717.0,559.1 L717.4,561.8 L717.9,564.4 L718.3,567.0 L718.7,569.5 L719.2,572.0 L719.6,574.4 L720.1,576.8 L720.5,579.2 L720.9,581.5 L721.4,583.8 L721.8,586.1 L722.2,588.3 L722.7,590.4 L723.1,592.6 L723.6,594.7 L724.0,596.7 L724.4,598.8 L724.9,600.8 L725.3,602.7 L725.7,604.7 L726.2,606.6 L726.6,608.5 L727.0,610.3 L727.5,612.1 L727.9,613.9 L728.4,615.6 L728.8,617.4 L729.2,619.0 L729.7,620.7 L730.1,622.3 L730.5,624.0 L731.0,625.5 L731.4,627.1 L731.9,628.6 L732.3,630.1 L732.7,631.6 L733.2,633.1 L733.6,634.5 L734.0,636.0 L734.5,637.3 L734.9,638.7 L735.4,640.1 L735.8,641.4 L736.2,642.7 L736.7,644.0 L737.1,645.2 L737.5,646.5 L738.0,647.7 L738.4,648.9 L738.8,650.1 L739.3,651.3 L739.7,652.4 L740.2,653.6 L740.6,654.7 L741.0,655.8 L741.5,656.9 L741.9,658.0 L742.3,659.0 L742.8,660.0 L743.2,661.1 L743.7,662.1 L744.1,663.1 L744.5,664.0 L745.0,665.0 L745.4,665.9 L745.8,666.9 L746.3,667.8 L746.7,668.7 L747.2,669.6 L747.6,670.5 L748.0,671.3 L748.5,672.2 L748.9,673.0 L749.3,673.9 L749.8,674.7 L750.2,675.5 L750.7,676.3 L751.1,677.1 L751.5,677.8 L752.0,678.6 L752.4,679.4 L752.8,680.1 L753.3,680.8 L753.7,681.6 L754.1,682.3 L754.6,683.0 L755.0,683.7 L755.5,684.3 L755.9,685.0 L756.3,685.7 L756.8,686.3 L757.2,687.0 L757.6,687.6 L758.1,688.2 L758.5,688.9 L759.0,689.5 L759.4,690.1 L759.8,690.7 L760.3,691.3 L760.7,691.9 L761.1,692.4 L761.6,693.0 L762.0,693.6 L762.5,694.1 L762.9,694.7 L763.3,695.2 L763.8,695.7 L764.2,696.3 L764.6,696.8 L765.1,697.3 L765.5,697.8 L765.9,698.3 L766.4,698.8 L766.8,699.3 L767.3,699.7 L767.7,700.2 L768.1,700.7 L768.6,701.2 L769.0,701.6 L769.4,702.1 L769.9,702.5 L770.3,703.0 L770.8,703.4 L771.2,703.8 L771.6,704.2 L772.1,704.7 L772.5,705.1 L772.9,705.5 L773.4,705.9 L773.8,706.3 L774.3,706.7 L774.7,707.1 L775.1,707.5 L775.6,707.9 L776.0,708.2 L776.4,708.6 L776.9,709.0 L777.3,709.3 L777.8,709.7 L778.2,710.1 L778.6,710.4 L779.1,710.8 L779.5,711.1 L779.9,711.5 L780.4,711.8 L780.8,712.1 L781.2,712.5 L781.7,712.8 L782.1,713.1 L782.6,713.4 L783.0,713.8 L783.4,714.1 L785.2,715.3 L786.9,716.5 L788.7,717.6 L790.4,718.6 L792.2,719.7 L793.9,720.7 L795.7,721.6 L797.4,722.5 L799.2,723.4 L800.9,724.3 L802.7,725.1" stroke="#aa5e54" stroke-width="2.2" stroke-dasharray="6 6" stroke-dashoffset="6"/>
<path d="M218.7,759.8 L220.4,759.7 L222.2,759.7 L223.9,759.7 L225.7,759.7 L227.4,759.7 L229.2,759.7 L230.9,759.7 L232.7,759.7 L234.4,759.7 L236.2,759.7 L237.9,759.6 L239.7,759.6 L241.4,759.6 L243.2,759.6 L244.9,759.6 L246.7,759.6 L248.4,759.6 L250.2,759.6 L251.9,759.5 L253.7,759.5 L255.4,759.5 L257.2,759.5 L258.9,759.5 L260.7,759.5 L262.4,759.5 L264.2,759.5 L265.9,759.4 L267.7,759.4 L269.4,759.4 L271.2,759.4 L272.9,759.4 L274.6,759.4 L276.4,759.4 L278.1,759.3 L279.9,759.3 L281.6,759.3 L283.4,759.3 L285.1,759.3 L286.9,759.3 L288.6,759.2 L290.4,759.2 L292.1,759.2 L293.9,759.2 L295.6,759.2 L297.4,759.1 L299.1,759.1 L300.9,759.1 L302.6,759.1 L304.4,759.1 L306.1,759.0 L307.9,759.0 L309.6,759.0 L311.4,759.0 L313.1,759.0 L314.9,758.9 L316.6,758.9 L318.4,758.9 L320.1,758.9 L321.9,758.9 L323.6,758.8 L325.4,758.8 L327.1,758.8 L328.8,758.8 L330.6,758.7 L332.3,758.7 L334.1,758.7 L335.8,758.7 L337.6,758.6 L339.3,758.6 L341.1,758.6 L342.8,758.5 L344.6,758.5 L346.3,758.5 L348.1,758.5 L349.8,758.4 L351.6,758.4 L353.3,758.4 L355.1,758.3 L356.8,758.3 L358.6,758.3 L360.3,758.2 L362.1,758.2 L363.8,758.2 L365.6,758.1 L367.3,758.1 L369.1,758.1 L370.8,758.0 L372.6,758.0 L374.3,757.9 L376.1,757.9 L377.8,757.9 L379.6,757.8 L381.3,757.8 L383.0,757.7 L384.8,757.7 L386.5,757.6 L388.3,757.6 L390.0,757.6 L391.8,757.5 L393.5,757.5 L395.3,757.4 L397.0,757.4 L398.8,757.3 L400.5,757.3 L402.3,757.2 L404.0,757.1 L405.8,757.1 L407.5,757.0 L409.3,757.0 L411.0,756.9 L412.8,756.9 L414.5,756.8 L416.3,756.7 L418.0,756.7 L419.8,756.6 L421.5,756.5 L423.3,756.5 L425.0,756.4 L426.8,756.3 L428.5,756.3 L430.3,756.2 L432.0,756.1 L433.8,756.0 L435.5,755.9 L437.2,755.9 L439.0,755.8 L440.7,755.7 L442.5,755.6 L444.2,755.5 L446.0,755.4 L447.7,755.3 L449.5,755.2 L451.2,755.1 L453.0,755.0 L454.7,754.9 L456.5,754.8 L458.2,754.7 L460.0,754.6 L461.7,754.5 L463.5,754.4 L465.2,754.2 L467.0,754.1 L468.7,754.0 L470.5,753.9 L472.2,753.7 L474.0,753.6 L475.7,753.4 L477.5,753.3 L479.2,753.2 L481.0,753.0 L482.7,752.8 L484.5,752.7 L486.2,752.5 L488.0,752.3 L489.7,752.2 L491.5,752.0 L493.2,751.8 L494.9,751.6 L496.7,751.4 L498.4,751.2 L500.2,751.0 L501.9,750.8 L503.7,750.5 L505.4,750.3 L507.2,750.1 L508.9,749.8 L510.7,749.6 L512.4,749.3 L514.2,749.1 L515.9,748.8 L517.7,748.5 L519.4,748.2 L521.2,747.9 L522.9,747.6 L524.7,747.2 L526.4,746.9 L528.2,746.5 L529.9,746.2 L531.7,745.8 L533.4,745.4 L535.2,745.0 L536.9,744.6 L538.7,744.1 L540.4,743.7 L542.2,743.2 L543.9,742.7 L545.7,742.2 L547.4,741.7 L549.1,741.1 L550.9,740.6 L552.6,740.0 L554.4,739.3 L556.1,738.7 L557.9,738.0 L559.6,737.3 L561.4,736.6 L563.1,735.8 M678.1,249.5 L678.5,249.4 L679.0,249.5 M802.7,725.1 L804.4,725.9 L806.2,726.6 L807.9,727.3 L809.7,728.0 L811.4,728.7 L813.2,729.4 L814.9,730.0 L816.7,730.6 L818.4,731.2 L820.1,731.8 L821.9,732.3 L823.6,732.9 L825.4,733.4 L827.1,733.9 L828.9,734.4 L830.6,734.8 L832.4,735.3 L834.1,735.7 L835.9,736.1 L837.6,736.6 L839.4,737.0 L841.1,737.3 L842.9,737.7 L844.6,738.1 L846.4,738.5 L848.1,738.8 L849.9,739.1 L851.6,739.5 L853.4,739.8 L855.1,740.1 L856.9,740.4 L858.6,740.7 L860.4,741.0 L862.1,741.3 L863.9,741.5 L865.6,741.8 L867.4,742.1 L869.1,742.3 L870.9,742.5 L872.6,742.8 L874.3,743.0 L876.1,743.2 L877.8,743.5 L879.6,743.7 L881.3,743.9 L883.1,744.1 L884.8,744.3 L886.6,744.5 L888.3,744.7 L890.1,744.9 L891.8,745.1 L893.6,745.2 L895.3,745.4 L897.1,745.6 L898.8,745.8 L900.6,745.9 L902.3,746.1 L904.1,746.2 L905.8,746.4 L907.6,746.5 L909.3,746.7 L911.1,746.8 L912.8,747.0 L914.6,747.1 L916.3,747.3 L918.1,747.4 L919.8,747.5 L921.6,747.6 L923.3,747.8 L925.1,747.9 L926.8,748.0 L928.6,748.1 L930.3,748.2 L932.0,748.4 L933.8,748.5 L935.5,748.6 L937.3,748.7 L939.0,748.8 L940.8,748.9 L942.5,749.0 L944.3,749.1 L946.0,749.2 L947.8,749.3 L949.5,749.4 L951.3,749.5 L953.0,749.6 L954.8,749.7 L956.5,749.8 L958.3,749.8 L960.0,749.9 L961.8,750.0 L963.5,750.1 L965.3,750.2 L967.0,750.2 L968.8,750.3 L970.5,750.4 L972.3,750.5 L974.0,750.6 L975.8,750.6 L977.5,750.7 L979.3,750.8 L981.0,750.8 L982.8,750.9 L984.5,751.0 L986.2,751.0 L988.0,751.1 L989.7,751.2 L991.5,751.2 L993.2,751.3 L995.0,751.4 L996.7,751.4 L998.5,751.5 L1000.2,751.5 L1002.0,751.6 L1003.7,751.6 L1005.5,751.7 L1007.2,751.8 L1009.0,751.8 L1010.7,751.9 L1012.5,751.9 L1014.2,752.0 L1016.0,752.0 L1017.7,752.1 L1019.5,752.1 L1021.2,752.2 L1023.0,752.2 L1024.7,752.3 L1026.5,752.3 L1028.2,752.4 L1030.0,752.4 L1031.7,752.5 L1033.5,752.5 L1035.2,752.5 L1037.0,752.6 L1038.7,752.6 L1040.4,752.7 L1042.2,752.7 L1043.9,752.8 L1045.7,752.8 L1047.4,752.8 L1049.2,752.9 L1050.9,752.9 L1052.7,753.0 L1054.4,753.0 L1056.2,753.0 L1057.9,753.1 L1059.7,753.1 L1061.4,753.1 L1063.2,753.2 L1064.9,753.2 L1066.7,753.2 L1068.4,753.3 L1070.2,753.3 L1071.9,753.3 L1073.7,753.4 L1075.4,753.4 L1077.2,753.4 L1078.9,753.5 L1080.7,753.5 L1082.4,753.5 L1084.2,753.6 L1085.9,753.6 L1087.7,753.6 L1089.4,753.7 L1091.2,753.7 L1092.9,753.7" stroke="#aa5e54" stroke-width="2.4" stroke-dasharray="18 4" stroke-dashoffset="14"/>
<path d="M218.7,759.4 L220.4,759.4 L222.2,759.3 L223.9,759.3 L225.7,759.3 L227.4,759.3 L229.2,759.3 L230.9,759.3 L232.7,759.2 L234.4,759.2 L236.2,759.2 L237.9,759.2 L239.7,759.2 L241.4,759.1 L243.2,759.1 L244.9,759.1 L246.7,759.1 L248.4,759.1 L250.2,759.0 L251.9,759.0 L253.7,759.0 L255.4,759.0 L257.2,759.0 L258.9,758.9 L260.7,758.9 L262.4,758.9 L264.2,758.9 L265.9,758.8 L267.7,758.8 L269.4,758.8 L271.2,758.8 L272.9,758.7 L274.6,758.7 L276.4,758.7 L278.1,758.7 L279.9,758.6 L281.6,758.6 L283.4,758.6 L285.1,758.6 L286.9,758.5 L288.6,758.5 L290.4,758.5 L292.1,758.4 L293.9,758.4 L295.6,758.4 L297.4,758.3 L299.1,758.3 L300.9,758.3 L302.6,758.2 L304.4,758.2 L306.1,758.2 L307.9,758.1 L309.6,758.1 L311.4,758.1 L313.1,758.0 L314.9,758.0 L316.6,757.9 L318.4,757.9 L320.1,757.9 L321.9,757.8 L323.6,757.8 L325.4,757.7 L327.1,757.7 L328.8,757.6 L330.6,757.6 L332.3,757.6 L334.1,757.5 L335.8,757.5 L337.6,757.4 L339.3,757.4 L341.1,757.3 L342.8,757.2 L344.6,757.2 L346.3,757.1 L348.1,757.1 L349.8,757.0 L351.6,757.0 L353.3,756.9 L355.1,756.8 L356.8,756.8 L358.6,756.7 L360.3,756.7 L362.1,756.6 L363.8,756.5 L365.6,756.4 L367.3,756.4 L369.1,756.3 L370.8,756.2 L372.6,756.1 L374.3,756.1 L376.1,756.0 L377.8,755.9 L379.6,755.8 L381.3,755.7 L383.0,755.6 L384.8,755.6 L386.5,755.5 L388.3,755.4 L390.0,755.3 L391.8,755.2 L393.5,755.1 L395.3,755.0 L397.0,754.9 L398.8,754.8 L400.5,754.6 L402.3,754.5 L404.0,754.4 L405.8,754.3 L407.5,754.2 L409.3,754.0 L411.0,753.9 L412.8,753.8 L414.5,753.6 L416.3,753.5 L418.0,753.3 L419.8,753.2 L421.5,753.0 L423.3,752.9 L425.0,752.7 L426.8,752.6 L428.5,752.4 L430.3,752.2 L432.0,752.0 L433.8,751.8 L435.5,751.6 L437.2,751.4 L439.0,751.2 L440.7,751.0 L442.5,750.8 L444.2,750.6 L446.0,750.4 L447.7,750.1 L449.5,749.9 L451.2,749.6 L453.0,749.4 L454.7,749.1 L456.5,748.8 L458.2,748.5 L460.0,748.2 L461.7,747.9 L463.5,747.6 L465.2,747.3 L467.0,746.9 L468.7,746.6 L470.5,746.2 L472.2,745.8 L474.0,745.4 L475.7,745.0 L477.5,744.6 L479.2,744.2 L481.0,743.7 L482.7,743.2 L484.5,742.7 L486.2,742.2 L488.0,741.7 L489.7,741.1 L491.5,740.6 L493.2,740.0 L494.9,739.4 L496.7,738.7 L498.4,738.0 L500.2,737.3 L501.9,736.6 L503.7,735.8 L505.4,735.0 L507.2,734.2 L508.9,733.3 L510.7,732.4 L512.4,731.4 L514.2,730.4 L514.6,730.1 L515.1,729.9 L515.5,729.6 L515.9,729.3 L516.4,729.1 L516.8,728.8 L517.2,728.5 L517.7,728.2 L518.1,728.0 L518.6,727.7 L519.0,727.4 L519.4,727.1 L519.9,726.8 L520.3,726.5 L520.7,726.2 L521.2,725.8 L521.6,725.5 L522.0,725.2 L522.5,724.9 L522.9,724.6 L523.4,724.2 L523.8,723.9 L524.2,723.6 L524.7,723.2 L525.1,722.9 L525.5,722.5 L526.0,722.1 L526.4,721.8 L526.9,721.4 L527.3,721.0 L527.7,720.7 L528.2,720.3 L528.6,719.9 L529.0,719.5 L529.5,719.1 L529.9,718.7 L530.4,718.3 L530.8,717.9 L531.2,717.5 L531.7,717.0 L532.1,716.6 L532.5,716.2 L533.0,715.7 L533.4,715.3 L533.8,714.8 L534.3,714.4 L534.7,713.9 L535.2,713.4 L535.6,712.9 L536.0,712.4 L536.5,711.9 L536.9,711.4 L537.3,710.9 L537.8,710.4 L538.2,709.9 L538.7,709.4 L539.1,708.8 L539.5,708.3 L540.0,707.7 L540.4,707.2 L540.8,706.6 L541.3,706.0 L541.7,705.4 L542.2,704.8 L542.6,704.2 L543.0,703.6 L543.5,703.0 L543.9,702.3 L544.3,701.7 L544.8,701.0 L545.2,700.4 L545.7,699.7 L546.1,699.0 L546.5,698.3 L547.0,697.6 L547.4,696.9 L547.8,696.2 L548.3,695.4 L548.7,694.7 L549.1,693.9 L549.6,693.1 L550.0,692.4 L550.5,691.6 L550.9,690.7 L551.3,689.9 L551.8,689.1 L552.2,688.2 L552.6,687.4 L553.1,686.5 L553.5,685.6 L554.0,684.7 L554.4,683.7 L554.8,682.8 L555.3,681.9 L555.7,680.9 L556.1,679.9 L556.6,678.9 L557.0,677.9 L557.5,676.8 L557.9,675.8 L558.3,674.7 L558.8,673.6 L559.2,672.5 L559.6,671.4 L560.1,670.2 L560.5,669.0 L560.9,667.8 L561.4,666.6 L561.8,665.4 L562.3,664.1 L562.7,662.9 L563.1,661.6 L563.6,660.2 L564.0,658.9 L564.4,657.5 L564.9,656.1 L565.3,654.7 L565.8,653.3 L566.2,651.8 L566.6,650.3 L567.1,648.8 L567.5,647.2 L567.9,645.6 L568.4,644.0 L568.8,642.4 L569.3,640.7 L569.7,639.0 L570.1,637.3 L570.6,635.5 L571.0,633.7 L571.4,631.9 L571.9,630.0 L572.3,628.1 L572.8,626.1 L573.2,624.2 L573.6,622.2 L574.1,620.1 L574.5,618.0 L574.9,615.9 L575.4,613.7 L575.8,611.5 L576.2,609.2 L576.7,607.0 L577.1,604.6 L577.6,602.2 L578.0,599.8 L578.4,597.3 L578.9,594.8 L579.3,592.2 L579.7,589.6 L580.2,586.9 L580.6,584.2 L581.1,581.4 L581.5,578.6 L581.9,575.7 L582.4,572.8 L582.8,569.8 L583.2,566.7 L583.7,563.6 L584.1,560.5 L584.6,557.3 L585.0,554.0 L585.4,550.6 L585.9,547.2 L586.3,543.8 L586.7,540.2 L587.2,536.6 L587.6,533.0 L588.0,529.3 L588.5,525.5 L588.9,521.6 L589.4,517.7 L589.8,513.7 L590.2,509.6 L590.7,505.5 L591.1,501.3 L591.5,497.1 L592.0,492.7 L592.4,488.3 L592.9,483.9 L593.3,479.3 L593.7,474.7 L594.2,470.0 L594.6,465.3 L595.0,460.5 L595.5,455.6 L595.9,450.7 L596.4,445.7 L596.8,440.7 L597.2,435.6 L597.7,430.4 L598.1,425.2 L598.5,419.9 L599.0,414.6 L599.4,409.2 L599.9,403.8 L600.3,398.4 L600.7,392.9 L601.2,387.4 L601.6,381.8 L602.0,376.3 L602.5,370.7 L602.9,365.1 L603.3,359.5 L603.8,353.9 L604.2,348.3 L604.7,342.7 L605.1,337.2 L605.5,331.7 L606.0,326.2 L606.4,320.7 L606.8,315.3 L607.3,310.0 L607.7,304.8 L608.2,299.6 L608.6,294.5 L609.0,289.5 L609.5,284.6 L609.9,279.8 L610.3,275.2 L610.8,270.7 L611.2,266.3 L611.7,262.1 L612.1,258.1 L612.5,254.2 L613.0,250.5 L613.4,247.0 L613.8,243.7 L614.3,240.6 L614.7,237.8 L615.1,235.1 L615.6,232.7 L616.0,230.5 L616.5,228.6 L616.9,226.9 L617.3,225.5 L617.8,224.3 L618.2,223.4 L618.6,222.7 L619.1,222.3 L619.5,222.2 L620.0,222.3 L620.4,222.6 L620.8,223.2 L621.3,224.0 L621.7,225.0 L622.1,226.3 L622.6,227.8 L623.0,229.5 L623.5,231.4 L623.9,233.6 L624.3,235.9 L624.8,238.4 L625.2,241.1 L625.6,244.1 L626.1,247.1 L626.5,250.4 L627.0,253.8 L627.4,257.4 L627.8,261.1 L628.3,264.9 L628.7,268.9 L629.1,273.0 L629.6,277.2 L630.0,281.5 L630.4,286.0 L630.9,290.5 L631.3,295.1 L631.8,299.7 L632.2,304.5 L632.6,309.3 L633.1,314.1 L633.5,319.0 L633.9,323.9 L634.4,328.9 L634.8,333.9 L635.3,338.9 L635.7,343.9 L636.1,348.9 L636.6,354.0 L637.0,359.0 L637.4,364.0 L637.9,369.0 L638.3,374.0 L638.8,379.0 L639.2,384.0 L639.6,388.9 L640.1,393.8 L640.5,398.7 L640.9,403.5 L641.4,408.3 L641.8,413.1 L642.2,417.8 L642.7,422.5 L643.1,427.1 L643.6,431.7 L644.0,436.2 L644.4,440.7 L644.9,445.1 L645.3,449.5 L645.7,453.8 L646.2,458.1 L646.6,462.3 L647.1,466.5 L647.5,470.6 L647.9,474.6 L648.4,478.6 L648.8,482.6 L649.2,486.4 L649.7,490.3 L650.1,494.0 L650.6,497.7 L651.0,501.4 L651.4,505.0 L651.9,508.5 L652.3,512.0 L652.7,515.5 L653.2,518.8 L653.6,522.2 L654.1,525.4 L654.5,528.7 L654.9,531.8 L655.4,534.9 L655.8,538.0 L656.2,541.0 L656.7,544.0 L657.1,546.9 L657.5,549.8 L658.0,552.6 L658.4,555.3 L658.9,558.1 L659.3,560.7 L659.7,563.4 L660.2,566.0 L660.6,568.5 L661.0,571.0 L661.5,573.5 L661.9,575.9 L662.4,578.3 L662.8,580.6 L663.2,582.9 L663.7,585.2 L664.1,587.4 L664.5,589.6 L665.0,591.7 L665.4,593.8 L665.9,595.9 L666.3,597.9 L666.7,600.0 L667.2,601.9 L667.6,603.9 L668.0,605.8 L668.5,607.6 L668.9,609.5 L669.4,611.3 L669.8,613.1 L670.2,614.8 L670.7,616.6 L671.1,618.3 L671.5,619.9 L672.0,621.6 L672.4,623.2 L672.8,624.8 L673.3,626.3 L673.7,627.9 L674.2,629.4 L674.6,630.9 L675.0,632.3 L675.5,633.8 L675.9,635.2 L676.3,636.6 L676.8,637.9 L677.2,639.3 L677.7,640.6 L678.1,641.9 L678.5,643.2 L679.0,644.5 L679.4,645.7 L679.8,646.9 L680.3,648.2 L680.7,649.3 L681.2,650.5 L681.6,651.7 L682.0,652.8 L682.5,653.9 L682.9,655.0 L683.3,656.1 L683.8,657.2 L684.2,658.2 L684.6,659.3 L685.1,660.3 L685.5,661.3 L686.0,662.3 L686.4,663.2 L686.8,664.2 L687.3,665.2 L687.7,666.1 L688.1,667.0 L688.6,667.9 L689.0,668.8 L689.5,669.7 L689.9,670.5 L690.3,671.4 L690.8,672.2 L691.2,673.1 L691.6,673.9 L692.1,674.7 L692.5,675.5 L693.0,676.3 L693.4,677.0 L693.8,677.8 L694.3,678.6 L694.7,679.3 L695.1,680.0 L695.6,680.8 L696.0,681.5 L696.5,682.2 L696.9,682.9 L697.3,683.5 L697.8,684.2 L698.2,684.9 L698.6,685.5 L699.1,686.2 L699.5,686.8 L699.9,687.5 L700.4,688.1 L700.8,688.7 L701.3,689.3 L701.7,689.9 L702.1,690.5 L702.6,691.1 L703.0,691.6 L703.4,692.2 L703.9,692.8 L704.3,693.3 L704.8,693.9 L705.2,694.4 L705.6,694.9 L706.1,695.5 L706.5,696.0 L706.9,696.5 L707.4,697.0 L707.8,697.5 L708.3,698.0 L708.7,698.5 L709.1,698.9 L709.6,699.4 L710.0,699.9 L710.4,700.4 L710.9,700.8 L711.3,701.3 L711.7,701.7 L712.2,702.2 L712.6,702.6 L713.1,703.0 L713.5,703.4 L713.9,703.9 L714.4,704.3 L714.8,704.7 L715.2,705.1 L715.7,705.5 L716.1,705.9 L716.6,706.3 L717.0,706.7 L717.4,707.1 L717.9,707.4 L718.3,707.8 L718.7,708.2 L719.2,708.6 L719.6,708.9 L720.1,709.3 L720.5,709.6 L720.9,710.0 L721.4,710.3 L721.8,710.7 L722.2,711.0 L722.7,711.3 L723.1,711.7 L723.6,712.0 L724.0,712.3 L724.4,712.7 L726.2,713.9 L727.9,715.1 L729.7,716.2 L731.4,717.3 L733.2,718.4 L734.9,719.4 L736.7,720.4 L738.4,721.3 L740.2,722.2 L741.9,723.1 L743.7,723.9 L745.4,724.7 L747.2,725.5 L748.9,726.2 L750.7,727.0 L752.4,727.7 L754.1,728.3 L755.9,729.0 L757.6,729.6 L759.4,730.2 L761.1,730.8 L762.9,731.3 L764.6,731.9 L766.4,732.4 L768.1,732.9 L769.9,733.4 L771.6,733.9 L773.4,734.4 L775.1,734.8 L776.9,735.2 L778.6,735.7 L780.4,736.1 L782.1,736.5 L783.9,736.9 L785.6,737.2 L787.4,737.6 L789.1,738.0 L790.9,738.3 L792.6,738.6 L794.4,739.0 L796.1,739.3 L797.9,739.6 L799.6,739.9 L801.4,740.2 L803.1,740.5 L804.9,740.8 L806.6,741.0 L808.3,741.3 L810.1,741.5 L811.8,741.8 L813.6,742.0 L815.3,742.3 L817.1,742.5 L818.8,742.7 L820.6,743.0 L822.3,743.2 L824.1,743.4 L825.8,743.6 L827.6,743.8 L829.3,744.0 L831.1,744.2 L832.8,744.4 L834.6,744.6 L836.3,744.7 L838.1,744.9 L839.8,745.1 L841.6,745.3 L843.3,745.4 L845.1,745.6 L846.8,745.7 L848.6,745.9 L850.3,746.0 L852.1,746.2 L853.8,746.3 L855.6,746.5 L857.3,746.6 L859.1,746.8 L860.8,746.9 L862.5,747.0 L864.3,747.1 L866.0,747.3 L867.8,747.4 L869.5,747.5 L871.3,747.6 L873.0,747.8 L874.8,747.9 L876.5,748.0 L878.3,748.1 L880.0,748.2 L881.8,748.3 L883.5,748.4 L885.3,748.5 L887.0,748.6 L888.8,748.7 L890.5,748.8 L892.3,748.9 L894.0,749.0 L895.8,749.1 L897.5,749.2 L899.3,749.3 L901.0,749.3 L902.8,749.4 L904.5,749.5 L906.3,749.6 L908.0,749.7 L909.8,749.8 L911.5,749.8 L913.3,749.9 L915.0,750.0 L916.7,750.1 L918.5,750.1 L920.2,750.2 L922.0,750.3 L923.7,750.4 L925.5,750.4 L927.2,750.5 L929.0,750.6 L930.7,750.6 L932.5,750.7 L934.2,750.8 L936.0,750.8 L937.7,750.9 L939.5,750.9 L941.2,751.0 L943.0,751.1 L944.7,751.1 L946.5,751.2 L948.2,751.2 L950.0,751.3 L951.7,751.3 L953.5,751.4 L955.2,751.4 L957.0,751.5 L958.7,751.6 L960.5,751.6 L962.2,751.7 L964.0,751.7 L965.7,751.8 L967.5,751.8 L969.2,751.9 L970.9,751.9 L972.7,751.9 L974.4,752.0 L976.2,752.0 L977.9,752.1 L979.7,752.1 L981.4,752.2 L983.2,752.2 L984.9,752.3 L986.7,752.3 L988.4,752.3 L990.2,752.4 L991.9,752.4 L993.7,752.5 L995.4,752.5 L997.2,752.5 L998.9,752.6 L1000.7,752.6 L1002.4,752.6 L1004.2,752.7 L1005.9,752.7 L1007.7,752.8 L1009.4,752.8 L1011.2,752.8 L1012.9,752.9 L1014.7,752.9 L1016.4,752.9 L1018.2,753.0 L1019.9,753.0 L1021.7,753.0 L1023.4,753.1 L1025.1,753.1 L1026.9,753.1 L1028.6,753.2 L1030.4,753.2 L1032.1,753.2 L1033.9,753.2 L1035.6,753.3 L1037.4,753.3 L1039.1,753.3 L1040.9,753.4 L1042.6,753.4 L1044.4,753.4 L1046.1,753.4 L1047.9,753.5 L1049.6,753.5 L1051.4,753.5 L1053.1,753.6 L1054.9,753.6 L1056.6,753.6 L1058.4,753.6 L1060.1,753.7 L1061.9,753.7 L1063.6,753.7 L1065.4,753.7 L1067.1,753.8 L1068.9,753.8 L1070.6,753.8 L1072.4,753.8 L1074.1,753.8 L1075.9,753.9 L1077.6,753.9 L1079.3,753.9 L1081.1,753.9 L1082.8,754.0 L1084.6,754.0 L1086.3,754.0 L1088.1,754.0 L1089.8,754.0 L1091.6,754.1" stroke="#a48e96" stroke-width="3.0"/>
<path d="M503.7,735.8 L505.4,735.0 L507.2,734.2 L508.9,733.3 L510.7,732.4 L512.4,731.4 L514.2,730.4 L514.6,730.1 L515.1,729.9 L515.5,729.6 L515.9,729.3 L516.4,729.1 L516.8,728.8 L517.2,728.5 L517.7,728.2 L518.1,728.0 L518.6,727.7 L519.0,727.4 L519.4,727.1 L519.9,726.8 L520.3,726.5 L520.7,726.2 L521.2,725.8 L521.6,725.5 L522.0,725.2 L522.5,724.9 L522.9,724.6 L523.4,724.2 L523.8,723.9 L524.2,723.6 L524.7,723.2 L525.1,722.9 L525.5,722.5 L526.0,722.1 L526.4,721.8 L526.9,721.4 L527.3,721.0 L527.7,720.7 L528.2,720.3 L528.6,719.9 L529.0,719.5 L529.5,719.1 L529.9,718.7 L530.4,718.3 L530.8,717.9 L531.2,717.5 L531.7,717.0 L532.1,716.6 L532.5,716.2 L533.0,715.7 L533.4,715.3 L533.8,714.8 L534.3,714.4 L534.7,713.9 L535.2,713.4 L535.6,712.9 L536.0,712.4 L536.5,711.9 L536.9,711.4 L537.3,710.9 L537.8,710.4 L538.2,709.9 L538.7,709.4 L539.1,708.8 L539.5,708.3 L540.0,707.7 L540.4,707.2 L540.8,706.6 L541.3,706.0 L541.7,705.4 L542.2,704.8 L542.6,704.2 L543.0,703.6 L543.5,703.0 L543.9,702.3 L544.3,701.7 L544.8,701.0 L545.2,700.4 L545.7,699.7 L546.1,699.0 L546.5,698.3 L547.0,697.6 L547.4,696.9 L547.8,696.2 L548.3,695.4 L548.7,694.7 L549.1,693.9 L549.6,693.1 L550.0,692.4 L550.5,691.6 L550.9,690.7 L551.3,689.9 L551.8,689.1 L552.2,688.2 L552.6,687.4 L553.1,686.5 L553.5,685.6 L554.0,684.7 L554.4,683.7 L554.8,682.8 L555.3,681.9 L555.7,680.9 L556.1,679.9 L556.6,678.9 L557.0,677.9 L557.5,676.8 L557.9,675.8 L558.3,674.7 L558.8,673.6 L559.2,672.5 L559.6,671.4 L560.1,670.2 L560.5,669.0 L560.9,667.8 L561.4,666.6 L561.8,665.4 L562.3,664.1 L562.7,662.9 L563.1,661.6 L563.6,660.2 L564.0,658.9 L564.4,657.5 L564.9,656.1 L565.3,654.7 L565.8,653.3 L566.2,651.8 L566.6,650.3 L567.1,648.8 L567.5,647.2 L567.9,645.6 L568.4,644.0 L568.8,642.4 L569.3,640.7 L569.7,639.0 L570.1,637.3 L570.6,635.5 L571.0,633.7 L571.4,631.9 L571.9,630.0 L572.3,628.1 L572.8,626.1 L573.2,624.2 L573.6,622.2 L574.1,620.1 L574.5,618.0 L574.9,615.9 L575.4,613.7 L575.8,611.5 L576.2,609.2 L576.7,607.0 L577.1,604.6 L577.6,602.2 L578.0,599.8 L578.4,597.3 L578.9,594.8 L579.3,592.2 L579.7,589.6 L580.2,586.9 L580.6,584.2 L581.1,581.4 L581.5,578.6 L581.9,575.7 L582.4,572.8 L582.8,569.8 L583.2,566.7 L583.7,563.6 L584.1,560.5 L584.6,557.3 L585.0,554.0 L585.4,550.6 L585.9,547.2 L586.3,543.8 L586.7,540.2 L587.2,536.6 L587.6,533.0 L588.0,529.3 L588.5,525.5 L588.9,521.6 L589.4,517.7 L589.8,513.7 L590.2,509.6 L590.7,505.5 L591.1,501.3 L591.5,497.1 L592.0,492.7 L592.4,488.3 L592.9,483.9 L593.3,479.3 L593.7,474.7 L594.2,470.0 L594.6,465.3 L595.0,460.5 L595.5,455.6 L595.9,450.7 L596.4,445.7 L596.8,440.7 L597.2,435.6 L597.7,430.4 L598.1,425.2 L598.5,419.9 L599.0,414.6 L599.4,409.2 L599.9,403.8 L600.3,398.4 L600.7,392.9 L601.2,387.4 L601.6,381.8 L602.0,376.3 L602.5,370.7 L602.9,365.1 L603.3,359.5 L603.8,353.9 L604.2,348.3 L604.7,342.7 L605.1,337.2 L605.5,331.7 L606.0,326.2 L606.4,320.7 L606.8,315.3 L607.3,310.0 L607.7,304.8 L608.2,299.6 L608.6,294.5 L609.0,289.5 L609.5,284.6 L609.9,279.8 L610.3,275.2 L610.8,270.7 L611.2,266.3 L611.7,262.1 L612.1,258.1 L612.5,254.2 L613.0,250.5 L613.4,247.0 L613.8,243.7 L614.3,240.6 L614.7,237.8 L615.1,235.1 L615.6,232.7 L616.0,230.5 L616.5,228.6 L616.9,226.9 L617.3,225.5 L617.8,224.3 L618.2,223.4 L618.6,222.7 L619.1,222.3 M620.0,222.3 L620.4,222.6 L620.8,223.2 L621.3,224.0 L621.7,225.0 L622.1,226.3 L622.6,227.8 L623.0,229.5 L623.5,231.4 L623.9,233.6 L624.3,235.9 L624.8,238.4 L625.2,241.1 L625.6,244.1 L626.1,247.1 L626.5,250.4 L627.0,253.8 L627.4,257.4 L627.8,261.1 L628.3,264.9 L628.7,268.9 L629.1,273.0 L629.6,277.2 L630.0,281.5 L630.4,286.0 L630.9,290.5 L631.3,295.1 L631.8,299.7 L632.2,304.5 L632.6,309.3 L633.1,314.1 L633.5,319.0 L633.9,323.9 L634.4,328.9 L634.8,333.9 L635.3,338.9 L635.7,343.9 L636.1,348.9 L636.6,354.0 L637.0,359.0 L637.4,364.0 L637.9,369.0 L638.3,374.0 L638.8,379.0 L639.2,384.0 L639.6,388.9 L640.1,393.8 L640.5,398.7 L640.9,403.5 L641.4,408.3 L641.8,413.1 L642.2,417.8 L642.7,422.5 L643.1,427.1 L643.6,431.7 L644.0,436.2 L644.4,440.7 L644.9,445.1 L645.3,449.5 L645.7,453.8 L646.2,458.1 L646.6,462.3 L647.1,466.5 L647.5,470.6 L647.9,474.6 L648.4,478.6 L648.8,482.6 L649.2,486.4 L649.7,490.3 L650.1,494.0 L650.6,497.7 L651.0,501.4 L651.4,505.0 L651.9,508.5 L652.3,512.0 L652.7,515.5 L653.2,518.8 L653.6,522.2 L654.1,525.4 L654.5,528.7 L654.9,531.8 L655.4,534.9 L655.8,538.0 L656.2,541.0 L656.7,544.0 L657.1,546.9 L657.5,549.8 L658.0,552.6 L658.4,555.3 L658.9,558.1 L659.3,560.7 L659.7,563.4 L660.2,566.0 L660.6,568.5 L661.0,571.0 L661.5,573.5 L661.9,575.9 L662.4,578.3 L662.8,580.6 L663.2,582.9 L663.7,585.2 L664.1,587.4 L664.5,589.6 L665.0,591.7 L665.4,593.8 L665.9,595.9 L666.3,597.9 L666.7,600.0 L667.2,601.9 L667.6,603.9 L668.0,605.8 L668.5,607.6 L668.9,609.5 L669.4,611.3 L669.8,613.1 L670.2,614.8 L670.7,616.6 L671.1,618.3 L671.5,619.9 L672.0,621.6 L672.4,623.2 L672.8,624.8 L673.3,626.3 L673.7,627.9 L674.2,629.4 L674.6,630.9 L675.0,632.3 L675.5,633.8 L675.9,635.2 L676.3,636.6 L676.8,637.9 L677.2,639.3 L677.7,640.6 L678.1,641.9 L678.5,643.2 L679.0,644.5 L679.4,645.7 L679.8,646.9 L680.3,648.2 L680.7,649.3 L681.2,650.5 L681.6,651.7 L682.0,652.8 L682.5,653.9 L682.9,655.0 L683.3,656.1 L683.8,657.2 L684.2,658.2 L684.6,659.3 L685.1,660.3 L685.5,661.3 L686.0,662.3 L686.4,663.2 L686.8,664.2 L687.3,665.2 L687.7,666.1 L688.1,667.0 L688.6,667.9 L689.0,668.8 L689.5,669.7 L689.9,670.5 L690.3,671.4 L690.8,672.2 L691.2,673.1 L691.6,673.9 L692.1,674.7 L692.5,675.5 L693.0,676.3 L693.4,677.0 L693.8,677.8 L694.3,678.6 L694.7,679.3 L695.1,680.0 L695.6,680.8 L696.0,681.5 L696.5,682.2 L696.9,682.9 L697.3,683.5 L697.8,684.2 L698.2,684.9 L698.6,685.5 L699.1,686.2 L699.5,686.8 L699.9,687.5 L700.4,688.1 L700.8,688.7 L701.3,689.3 L701.7,689.9 L702.1,690.5 L702.6,691.1 L703.0,691.6 L703.4,692.2 L703.9,692.8 L704.3,693.3 L704.8,693.9 L705.2,694.4 L705.6,694.9 L706.1,695.5 L706.5,696.0 L706.9,696.5 L707.4,697.0 L707.8,697.5 L708.3,698.0 L708.7,698.5 L709.1,698.9 L709.6,699.4 L710.0,699.9 L710.4,700.4 L710.9,700.8 L711.3,701.3 L711.7,701.7 L712.2,702.2 L712.6,702.6 L713.1,703.0 L713.5,703.4 L713.9,703.9 L714.4,704.3 L714.8,704.7 L715.2,705.1 L715.7,705.5 L716.1,705.9 L716.6,706.3 L717.0,706.7 L717.4,707.1 L717.9,707.4 L718.3,707.8 L718.7,708.2 L719.2,708.6 L719.6,708.9 L720.1,709.3 L720.5,709.6 L720.9,710.0 L721.4,710.3 L721.8,710.7 L722.2,711.0 L722.7,711.3 L723.1,711.7 L723.6,712.0 L724.0,712.3 L724.4,712.7 L726.2,713.9 L727.9,715.1 L729.7,716.2 L731.4,717.3 L733.2,718.4 L734.9,719.4 L736.7,720.4 L738.4,721.3 L740.2,722.2 L741.9,723.1 L743.7,723.9 L745.4,724.7" stroke="#905c78" stroke-width="2.2" stroke-dasharray="6 6" stroke-dashoffset="9"/>
<path d="M218.7,759.4 L220.4,759.4 L222.2,759.3 L223.9,759.3 L225.7,759.3 L227.4,759.3 L229.2,759.3 L230.9,759.3 L232.7,759.2 L234.4,759.2 L236.2,759.2 L237.9,759.2 L239.7,759.2 L241.4,759.1 L243.2,759.1 L244.9,759.1 L246.7,759.1 L248.4,759.1 L250.2,759.0 L251.9,759.0 L253.7,759.0 L255.4,759.0 L257.2,759.0 L258.9,758.9 L260.7,758.9 L262.4,758.9 L264.2,758.9 L265.9,758.8 L267.7,758.8 L269.4,758.8 L271.2,758.8 L272.9,758.7 L274.6,758.7 L276.4,758.7 L278.1,758.7 L279.9,758.6 L281.6,758.6 L283.4,758.6 L285.1,758.6 L286.9,758.5 L288.6,758.5 L290.4,758.5 L292.1,758.4 L293.9,758.4 L295.6,758.4 L297.4,758.3 L299.1,758.3 L300.9,758.3 L302.6,758.2 L304.4,758.2 L306.1,758.2 L307.9,758.1 L309.6,758.1 L311.4,758.1 L313.1,758.0 L314.9,758.0 L316.6,757.9 L318.4,757.9 L320.1,757.9 L321.9,757.8 L323.6,757.8 L325.4,757.7 L327.1,757.7 L328.8,757.6 L330.6,757.6 L332.3,757.6 L334.1,757.5 L335.8,757.5 L337.6,757.4 L339.3,757.4 L341.1,757.3 L342.8,757.2 L344.6,757.2 L346.3,757.1 L348.1,757.1 L349.8,757.0 L351.6,757.0 L353.3,756.9 L355.1,756.8 L356.8,756.8 L358.6,756.7 L360.3,756.7 L362.1,756.6 L363.8,756.5 L365.6,756.4 L367.3,756.4 L369.1,756.3 L370.8,756.2 L372.6,756.1 L374.3,756.1 L376.1,756.0 L377.8,755.9 L379.6,755.8 L381.3,755.7 L383.0,755.6 L384.8,755.6 L386.5,755.5 L388.3,755.4 L390.0,755.3 L391.8,755.2 L393.5,755.1 L395.3,755.0 L397.0,754.9 L398.8,754.8 L400.5,754.6 L402.3,754.5 L404.0,754.4 L405.8,754.3 L407.5,754.2 L409.3,754.0 L411.0,753.9 L412.8,753.8 L414.5,753.6 L416.3,753.5 L418.0,753.3 L419.8,753.2 L421.5,753.0 L423.3,752.9 L425.0,752.7 L426.8,752.6 L428.5,752.4 L430.3,752.2 L432.0,752.0 L433.8,751.8 L435.5,751.6 L437.2,751.4 L439.0,751.2 L440.7,751.0 L442.5,750.8 L444.2,750.6 L446.0,750.4 L447.7,750.1 L449.5,749.9 L451.2,749.6 L453.0,749.4 L454.7,749.1 L456.5,748.8 L458.2,748.5 L460.0,748.2 L461.7,747.9 L463.5,747.6 L465.2,747.3 L467.0,746.9 L468.7,746.6 L470.5,746.2 L472.2,745.8 L474.0,745.4 L475.7,745.0 L477.5,744.6 L479.2,744.2 L481.0,743.7 L482.7,743.2 L484.5,742.7 L486.2,742.2 L488.0,741.7 L489.7,741.1 L491.5,740.6 L493.2,740.0 L494.9,739.4 L496.7,738.7 L498.4,738.0 L500.2,737.3 L501.9,736.6 L503.7,735.8 M619.1,222.3 L619.5,222.2 L620.0,222.3 M745.4,724.7 L747.2,725.5 L748.9,726.2 L750.7,727.0 L752.4,727.7 L754.1,728.3 L755.9,729.0 L757.6,729.6 L759.4,730.2 L761.1,730.8 L762.9,731.3 L764.6,731.9 L766.4,732.4 L768.1,732.9 L769.9,733.4 L771.6,733.9 L773.4,734.4 L775.1,734.8 L776.9,735.2 L778.6,735.7 L780.4,736.1 L782.1,736.5 L783.9,736.9 L785.6,737.2 L787.4,737.6 L789.1,738.0 L790.9,738.3 L792.6,738.6 L794.4,739.0 L796.1,739.3 L797.9,739.6 L799.6,739.9 L801.4,740.2 L803.1,740.5 L804.9,740.8 L806.6,741.0 L808.3,741.3 L810.1,741.5 L811.8,741.8 L813.6,742.0 L815.3,742.3 L817.1,742.5 L818.8,742.7 L820.6,743.0 L822.3,743.2 L824.1,743.4 L825.8,743.6 L827.6,743.8 L829.3,744.0 L831.1,744.2 L832.8,744.4 L834.6,744.6 L836.3,744.7 L838.1,744.9 L839.8,745.1 L841.6,745.3 L843.3,745.4 L845.1,745.6 L846.8,745.7 L848.6,745.9 L850.3,746.0 L852.1,746.2 L853.8,746.3 L855.6,746.5 L857.3,746.6 L859.1,746.8 L860.8,746.9 L862.5,747.0 L864.3,747.1 L866.0,747.3 L867.8,747.4 L869.5,747.5 L871.3,747.6 L873.0,747.8 L874.8,747.9 L876.5,748.0 L878.3,748.1 L880.0,748.2 L881.8,748.3 L883.5,748.4 L885.3,748.5 L887.0,748.6 L888.8,748.7 L890.5,748.8 L892.3,748.9 L894.0,749.0 L895.8,749.1 L897.5,749.2 L899.3,749.3 L901.0,749.3 L902.8,749.4 L904.5,749.5 L906.3,749.6 L908.0,749.7 L909.8,749.8 L911.5,749.8 L913.3,749.9 L915.0,750.0 L916.7,750.1 L918.5,750.1 L920.2,750.2 L922.0,750.3 L923.7,750.4 L925.5,750.4 L927.2,750.5 L929.0,750.6 L930.7,750.6 L932.5,750.7 L934.2,750.8 L936.0,750.8 L937.7,750.9 L939.5,750.9 L941.2,751.0 L943.0,751.1 L944.7,751.1 L946.5,751.2 L948.2,751.2 L950.0,751.3 L951.7,751.3 L953.5,751.4 L955.2,751.4 L957.0,751.5 L958.7,751.6 L960.5,751.6 L962.2,751.7 L964.0,751.7 L965.7,751.8 L967.5,751.8 L969.2,751.9 L970.9,751.9 L972.7,751.9 L974.4,752.0 L976.2,752.0 L977.9,752.1 L979.7,752.1 L981.4,752.2 L983.2,752.2 L984.9,752.3 L986.7,752.3 L988.4,752.3 L990.2,752.4 L991.9,752.4 L993.7,752.5 L995.4,752.5 L997.2,752.5 L998.9,752.6 L1000.7,752.6 L1002.4,752.6 L1004.2,752.7 L1005.9,752.7 L1007.7,752.8 L1009.4,752.8 L1011.2,752.8 L1012.9,752.9 L1014.7,752.9 L1016.4,752.9 L1018.2,753.0 L1019.9,753.0 L1021.7,753.0 L1023.4,753.1 L1025.1,753.1 L1026.9,753.1 L1028.6,753.2 L1030.4,753.2 L1032.1,753.2 L1033.9,753.2 L1035.6,753.3 L1037.4,753.3 L1039.1,753.3 L1040.9,753.4 L1042.6,753.4 L1044.4,753.4 L1046.1,753.4 L1047.9,753.5 L1049.6,753.5 L1051.4,753.5 L1053.1,753.6 L1054.9,753.6 L1056.6,753.6 L1058.4,753.6 L1060.1,753.7 L1061.9,753.7 L1063.6,753.7 L1065.4,753.7 L1067.1,753.8 L1068.9,753.8 L1070.6,753.8 L1072.4,753.8 L1074.1,753.8 L1075.9,753.9 L1077.6,753.9 L1079.3,753.9 L1081.1,753.9 L1082.8,754.0 L1084.6,754.0 L1086.3,754.0 L1088.1,754.0 L1089.8,754.0 L1091.6,754.1" stroke="#905c78" stroke-width="2.4" stroke-dasharray="18 4" stroke-dashoffset="21"/>
<path d="M218.7,758.8 L220.4,758.8 L222.2,758.8 L223.9,758.8 L225.7,758.7 L227.4,758.7 L229.2,758.7 L230.9,758.6 L232.7,758.6 L234.4,758.6 L236.2,758.6 L237.9,758.5 L239.7,758.5 L241.4,758.5 L243.2,758.4 L244.9,758.4 L246.7,758.4 L248.4,758.3 L250.2,758.3 L251.9,758.3 L253.7,758.2 L255.4,758.2 L257.2,758.2 L258.9,758.1 L260.7,758.1 L262.4,758.1 L264.2,758.0 L265.9,758.0 L267.7,757.9 L269.4,757.9 L271.2,757.9 L272.9,757.8 L274.6,757.8 L276.4,757.7 L278.1,757.7 L279.9,757.6 L281.6,757.6 L283.4,757.5 L285.1,757.5 L286.9,757.4 L288.6,757.4 L290.4,757.3 L292.1,757.3 L293.9,757.2 L295.6,757.2 L297.4,757.1 L299.1,757.0 L300.9,757.0 L302.6,756.9 L304.4,756.9 L306.1,756.8 L307.9,756.7 L309.6,756.7 L311.4,756.6 L313.1,756.5 L314.9,756.5 L316.6,756.4 L318.4,756.3 L320.1,756.2 L321.9,756.2 L323.6,756.1 L325.4,756.0 L327.1,755.9 L328.8,755.8 L330.6,755.8 L332.3,755.7 L334.1,755.6 L335.8,755.5 L337.6,755.4 L339.3,755.3 L341.1,755.2 L342.8,755.1 L344.6,755.0 L346.3,754.9 L348.1,754.8 L349.8,754.6 L351.6,754.5 L353.3,754.4 L355.1,754.3 L356.8,754.2 L358.6,754.0 L360.3,753.9 L362.1,753.8 L363.8,753.6 L365.6,753.5 L367.3,753.3 L369.1,753.2 L370.8,753.0 L372.6,752.9 L374.3,752.7 L376.1,752.5 L377.8,752.4 L379.6,752.2 L381.3,752.0 L383.0,751.8 L384.8,751.6 L386.5,751.4 L388.3,751.2 L390.0,751.0 L391.8,750.8 L393.5,750.5 L395.3,750.3 L397.0,750.1 L398.8,749.8 L400.5,749.6 L402.3,749.3 L404.0,749.0 L405.8,748.7 L407.5,748.4 L409.3,748.1 L411.0,747.8 L412.8,747.5 L414.5,747.2 L416.3,746.8 L418.0,746.5 L419.8,746.1 L421.5,745.7 L423.3,745.3 L425.0,744.9 L426.8,744.5 L428.5,744.0 L430.3,743.6 L432.0,743.1 L433.8,742.6 L435.5,742.1 L437.2,741.5 L439.0,741.0 L440.7,740.4 L442.5,739.8 L444.2,739.1 L446.0,738.5 L447.7,737.8 L449.5,737.0 L451.2,736.3 L453.0,735.5 L454.7,734.7 L456.5,733.8 L458.2,732.9 L460.0,732.0 L461.7,731.0 L463.5,730.0 L463.9,729.7 L464.4,729.4 L464.8,729.2 L465.2,728.9 L465.7,728.6 L466.1,728.3 L466.5,728.0 L467.0,727.8 L467.4,727.5 L467.8,727.2 L468.3,726.9 L468.7,726.6 L469.2,726.3 L469.6,725.9 L470.0,725.6 L470.5,725.3 L470.9,725.0 L471.3,724.7 L471.8,724.3 L472.2,724.0 L472.7,723.6 L473.1,723.3 L473.5,723.0 L474.0,722.6 L474.4,722.2 L474.8,721.9 L475.3,721.5 L475.7,721.1 L476.2,720.8 L476.6,720.4 L477.0,720.0 L477.5,719.6 L477.9,719.2 L478.3,718.8 L478.8,718.4 L479.2,718.0 L479.6,717.6 L480.1,717.1 L480.5,716.7 L481.0,716.3 L481.4,715.8 L481.8,715.4 L482.3,714.9 L482.7,714.4 L483.1,714.0 L483.6,713.5 L484.0,713.0 L484.5,712.5 L484.9,712.0 L485.3,711.5 L485.8,711.0 L486.2,710.5 L486.6,710.0 L487.1,709.4 L487.5,708.9 L488.0,708.4 L488.4,707.8 L488.8,707.2 L489.3,706.7 L489.7,706.1 L490.1,705.5 L490.6,704.9 L491.0,704.3 L491.5,703.7 L491.9,703.0 L492.3,702.4 L492.8,701.8 L493.2,701.1 L493.6,700.4 L494.1,699.8 L494.5,699.1 L494.9,698.4 L495.4,697.7 L495.8,697.0 L496.3,696.2 L496.7,695.5 L497.1,694.7 L497.6,694.0 L498.0,693.2 L498.4,692.4 L498.9,691.6 L499.3,690.8 L499.8,690.0 L500.2,689.1 L500.6,688.3 L501.1,687.4 L501.5,686.5 L501.9,685.6 L502.4,684.7 L502.8,683.8 L503.3,682.8 L503.7,681.9 L504.1,680.9 L504.6,679.9 L505.0,678.9 L505.4,677.9 L505.9,676.8 L506.3,675.8 L506.7,674.7 L507.2,673.6 L507.6,672.5 L508.1,671.4 L508.5,670.2 L508.9,669.0 L509.4,667.8 L509.8,666.6 L510.2,665.4 L510.7,664.1 L511.1,662.8 L511.6,661.5 L512.0,660.2 L512.4,658.8 L512.9,657.5 L513.3,656.1 L513.7,654.6 L514.2,653.2 L514.6,651.7 L515.1,650.2 L515.5,648.7 L515.9,647.1 L516.4,645.5 L516.8,643.9 L517.2,642.2 L517.7,640.5 L518.1,638.8 L518.6,637.1 L519.0,635.3 L519.4,633.5 L519.9,631.6 L520.3,629.8 L520.7,627.8 L521.2,625.9 L521.6,623.9 L522.0,621.9 L522.5,619.8 L522.9,617.7 L523.4,615.5 L523.8,613.3 L524.2,611.1 L524.7,608.8 L525.1,606.5 L525.5,604.1 L526.0,601.7 L526.4,599.3 L526.9,596.8 L527.3,594.2 L527.7,591.6 L528.2,589.0 L528.6,586.3 L529.0,583.5 L529.5,580.7 L529.9,577.8 L530.4,574.9 L530.8,571.9 L531.2,568.9 L531.7,565.8 L532.1,562.6 L532.5,559.4 L533.0,556.1 L533.4,552.8 L533.8,549.4 L534.3,545.9 L534.7,542.4 L535.2,538.8 L535.6,535.1 L536.0,531.4 L536.5,527.6 L536.9,523.7 L537.3,519.8 L537.8,515.8 L538.2,511.7 L538.7,507.5 L539.1,503.3 L539.5,499.0 L540.0,494.6 L540.4,490.2 L540.8,485.6 L541.3,481.1 L541.7,476.4 L542.2,471.6 L542.6,466.8 L543.0,461.9 L543.5,457.0 L543.9,451.9 L544.3,446.8 L544.8,441.6 L545.2,436.4 L545.7,431.1 L546.1,425.7 L546.5,420.3 L547.0,414.8 L547.4,409.2 L547.8,403.6 L548.3,397.9 L548.7,392.2 L549.1,386.5 L549.6,380.7 L550.0,374.8 L550.5,369.0 L550.9,363.1 L551.3,357.2 L551.8,351.2 L552.2,345.3 L552.6,339.4 L553.1,333.4 L553.5,327.5 L554.0,321.6 L554.4,315.7 L554.8,309.8 L555.3,304.0 L555.7,298.3 L556.1,292.6 L556.6,287.0 L557.0,281.4 L557.5,276.0 L557.9,270.6 L558.3,265.4 L558.8,260.3 L559.2,255.3 L559.6,250.5 L560.1,245.8 L560.5,241.3 L560.9,236.9 L561.4,232.8 L561.8,228.8 L562.3,225.0 L562.7,221.5 L563.1,218.2 L563.6,215.1 L564.0,212.2 L564.4,209.6 L564.9,207.3 L565.3,205.2 L565.8,203.4 L566.2,201.8 L566.6,200.5 L567.1,199.5 L567.5,198.8 L567.9,198.4 L568.4,198.2 L568.8,198.4 L569.3,198.7 L569.7,199.4 L570.1,200.2 L570.6,201.3 L571.0,202.7 L571.4,204.3 L571.9,206.2 L572.3,208.2 L572.8,210.5 L573.2,213.0 L573.6,215.8 L574.1,218.7 L574.5,221.8 L574.9,225.1 L575.4,228.6 L575.8,232.3 L576.2,236.1 L576.7,240.1 L577.1,244.2 L577.6,248.5 L578.0,252.9 L578.4,257.4 L578.9,262.0 L579.3,266.7 L579.7,271.5 L580.2,276.4 L580.6,281.4 L581.1,286.5 L581.5,291.6 L581.9,296.7 L582.4,301.9 L582.8,307.2 L583.2,312.5 L583.7,317.8 L584.1,323.1 L584.6,328.4 L585.0,333.7 L585.4,339.1 L585.9,344.4 L586.3,349.7 L586.7,355.0 L587.2,360.3 L587.6,365.6 L588.0,370.8 L588.5,376.0 L588.9,381.2 L589.4,386.4 L589.8,391.5 L590.2,396.5 L590.7,401.5 L591.1,406.5 L591.5,411.4 L592.0,416.3 L592.4,421.1 L592.9,425.8 L593.3,430.5 L593.7,435.2 L594.2,439.8 L594.6,444.3 L595.0,448.8 L595.5,453.2 L595.9,457.5 L596.4,461.8 L596.8,466.1 L597.2,470.2 L597.7,474.3 L598.1,478.4 L598.5,482.4 L599.0,486.3 L599.4,490.2 L599.9,494.0 L600.3,497.7 L600.7,501.4 L601.2,505.0 L601.6,508.6 L602.0,512.1 L602.5,515.6 L602.9,519.0 L603.3,522.3 L603.8,525.6 L604.2,528.8 L604.7,532.0 L605.1,535.1 L605.5,538.2 L606.0,541.2 L606.4,544.2 L606.8,547.1 L607.3,550.0 L607.7,552.8 L608.2,555.6 L608.6,558.3 L609.0,561.0 L609.5,563.6 L609.9,566.2 L610.3,568.7 L610.8,571.2 L611.2,573.7 L611.7,576.1 L612.1,578.5 L612.5,580.8 L613.0,583.1 L613.4,585.4 L613.8,587.6 L614.3,589.7 L614.7,591.9 L615.1,594.0 L615.6,596.1 L616.0,598.1 L616.5,600.1 L616.9,602.0 L617.3,604.0 L617.8,605.9 L618.2,607.7 L618.6,609.6 L619.1,611.4 L619.5,613.1 L620.0,614.9 L620.4,616.6 L620.8,618.3 L621.3,619.9 L621.7,621.6 L622.1,623.2 L622.6,624.8 L623.0,626.3 L623.5,627.8 L623.9,629.3 L624.3,630.8 L624.8,632.3 L625.2,633.7 L625.6,635.1 L626.1,636.5 L626.5,637.9 L627.0,639.2 L627.4,640.5 L627.8,641.8 L628.3,643.1 L628.7,644.3 L629.1,645.6 L629.6,646.8 L630.0,648.0 L630.4,649.2 L630.9,650.3 L631.3,651.5 L631.8,652.6 L632.2,653.7 L632.6,654.8 L633.1,655.9 L633.5,657.0 L633.9,658.0 L634.4,659.0 L634.8,660.0 L635.3,661.0 L635.7,662.0 L636.1,663.0 L636.6,663.9 L637.0,664.9 L637.4,665.8 L637.9,666.7 L638.3,667.6 L638.8,668.5 L639.2,669.4 L639.6,670.2 L640.1,671.1 L640.5,671.9 L640.9,672.7 L641.4,673.6 L641.8,674.4 L642.2,675.1 L642.7,675.9 L643.1,676.7 L643.6,677.5 L644.0,678.2 L644.4,678.9 L644.9,679.7 L645.3,680.4 L645.7,681.1 L646.2,681.8 L646.6,682.5 L647.1,683.1 L647.5,683.8 L647.9,684.5 L648.4,685.1 L648.8,685.8 L649.2,686.4 L649.7,687.0 L650.1,687.6 L650.6,688.3 L651.0,688.9 L651.4,689.5 L651.9,690.0 L652.3,690.6 L652.7,691.2 L653.2,691.8 L653.6,692.3 L654.1,692.9 L654.5,693.4 L654.9,693.9 L655.4,694.5 L655.8,695.0 L656.2,695.5 L656.7,696.0 L657.1,696.5 L657.5,697.0 L658.0,697.5 L658.4,698.0 L658.9,698.5 L659.3,698.9 L659.7,699.4 L660.2,699.9 L660.6,700.3 L661.0,700.8 L661.5,701.2 L661.9,701.7 L662.4,702.1 L662.8,702.5 L663.2,702.9 L663.7,703.4 L664.1,703.8 L664.5,704.2 L665.0,704.6 L665.4,705.0 L665.9,705.4 L666.3,705.8 L666.7,706.2 L667.2,706.6 L667.6,706.9 L668.0,707.3 L668.5,707.7 L668.9,708.0 L669.4,708.4 L669.8,708.8 L670.2,709.1 L670.7,709.5 L671.1,709.8 L671.5,710.1 L672.0,710.5 L672.4,710.8 L672.8,711.1 L673.3,711.5 L675.0,712.7 L676.8,714.0 L678.5,715.1 L680.3,716.3 L682.0,717.3 L683.8,718.4 L685.5,719.4 L687.3,720.3 L689.0,721.2 L690.8,722.1 L692.5,723.0 L694.3,723.8 L696.0,724.6 L697.8,725.3 L699.5,726.0 L701.3,726.8 L703.0,727.4 L704.8,728.1 L706.5,728.7 L708.3,729.3 L710.0,729.9 L711.7,730.5 L713.5,731.1 L715.2,731.6 L717.0,732.1 L718.7,732.6 L720.5,733.1 L722.2,733.6 L724.0,734.0 L725.7,734.5 L727.5,734.9 L729.2,735.3 L731.0,735.7 L732.7,736.1 L734.5,736.5 L736.2,736.9 L738.0,737.3 L739.7,737.6 L741.5,737.9 L743.2,738.3 L745.0,738.6 L746.7,738.9 L748.5,739.2 L750.2,739.5 L752.0,739.8 L753.7,740.1 L755.5,740.4 L757.2,740.6 L759.0,740.9 L760.7,741.2 L762.5,741.4 L764.2,741.6 L765.9,741.9 L767.7,742.1 L769.4,742.3 L771.2,742.6 L772.9,742.8 L774.7,743.0 L776.4,743.2 L778.2,743.4 L779.9,743.6 L781.7,743.8 L783.4,744.0 L785.2,744.2 L786.9,744.3 L788.7,744.5 L790.4,744.7 L792.2,744.8 L793.9,745.0 L795.7,745.2 L797.4,745.3 L799.2,745.5 L800.9,745.6 L802.7,745.8 L804.4,745.9 L806.2,746.1 L807.9,746.2 L809.7,746.3 L811.4,746.5 L813.2,746.6 L814.9,746.7 L816.7,746.9 L818.4,747.0 L820.1,747.1 L821.9,747.2 L823.6,747.3 L825.4,747.5 L827.1,747.6 L828.9,747.7 L830.6,747.8 L832.4,747.9 L834.1,748.0 L835.9,748.1 L837.6,748.2 L839.4,748.3 L841.1,748.4 L842.9,748.5 L844.6,748.6 L846.4,748.7 L848.1,748.8 L849.9,748.8 L851.6,748.9 L853.4,749.0 L855.1,749.1 L856.9,749.2 L858.6,749.3 L860.4,749.4 L862.1,749.4 L863.9,749.5 L865.6,749.6 L867.4,749.7 L869.1,749.7 L870.9,749.8 L872.6,749.9 L874.3,749.9 L876.1,750.0 L877.8,750.1 L879.6,750.2 L881.3,750.2 L883.1,750.3 L884.8,750.3 L886.6,750.4 L888.3,750.5 L890.1,750.5 L891.8,750.6 L893.6,750.7 L895.3,750.7 L897.1,750.8 L898.8,750.8 L900.6,750.9 L902.3,750.9 L904.1,751.0 L905.8,751.0 L907.6,751.1 L909.3,751.2 L911.1,751.2 L912.8,751.3 L914.6,751.3 L916.3,751.4 L918.1,751.4 L919.8,751.5 L921.6,751.5 L923.3,751.5 L925.1,751.6 L926.8,751.6 L928.6,751.7 L930.3,751.7 L932.0,751.8 L933.8,751.8 L935.5,751.9 L937.3,751.9 L939.0,751.9 L940.8,752.0 L942.5,752.0 L944.3,752.1 L946.0,752.1 L947.8,752.1 L949.5,752.2 L951.3,752.2 L953.0,752.3 L954.8,752.3 L956.5,752.3 L958.3,752.4 L960.0,752.4 L961.8,752.4 L963.5,752.5 L965.3,752.5 L967.0,752.5 L968.8,752.6 L970.5,752.6 L972.3,752.6 L974.0,752.7 L975.8,752.7 L977.5,752.7 L979.3,752.8 L981.0,752.8 L982.8,752.8 L984.5,752.9 L986.2,752.9 L988.0,752.9 L989.7,752.9 L991.5,753.0 L993.2,753.0 L995.0,753.0 L996.7,753.1 L998.5,753.1 L1000.2,753.1 L1002.0,753.1 L1003.7,753.2 L1005.5,753.2 L1007.2,753.2 L1009.0,753.2 L1010.7,753.3 L1012.5,753.3 L1014.2,753.3 L1016.0,753.3 L1017.7,753.4 L1019.5,753.4 L1021.2,753.4 L1023.0,753.4 L1024.7,753.5 L1026.5,753.5 L1028.2,753.5 L1030.0,753.5 L1031.7,753.6 L1033.5,753.6 L1035.2,753.6 L1037.0,753.6 L1038.7,753.6 L1040.4,753.7 L1042.2,753.7 L1043.9,753.7 L1045.7,753.7 L1047.4,753.8 L1049.2,753.8 L1050.9,753.8 L1052.7,753.8 L1054.4,753.8 L1056.2,753.9 L1057.9,753.9 L1059.7,753.9 L1061.4,753.9 L1063.2,753.9 L1064.9,753.9 L1066.7,754.0 L1068.4,754.0 L1070.2,754.0 L1071.9,754.0 L1073.7,754.0 L1075.4,754.1 L1077.2,754.1 L1078.9,754.1 L1080.7,754.1 L1082.4,754.1 L1084.2,754.1 L1085.9,754.2 L1087.7,754.2 L1089.4,754.2 L1091.2,754.2 L1092.9,754.2" stroke="#9088a0" stroke-width="3.0"/>
<path d="M453.0,735.5 L454.7,734.7 L456.5,733.8 L458.2,732.9 L460.0,732.0 L461.7,731.0 L463.5,730.0 L463.9,729.7 L464.4,729.4 L464.8,729.2 L465.2,728.9 L465.7,728.6 L466.1,728.3 L466.5,728.0 L467.0,727.8 L467.4,727.5 L467.8,727.2 L468.3,726.9 L468.7,726.6 L469.2,726.3 L469.6,725.9 L470.0,725.6 L470.5,725.3 L470.9,725.0 L471.3,724.7 L471.8,724.3 L472.2,724.0 L472.7,723.6 L473.1,723.3 L473.5,723.0 L474.0,722.6 L474.4,722.2 L474.8,721.9 L475.3,721.5 L475.7,721.1 L476.2,720.8 L476.6,720.4 L477.0,720.0 L477.5,719.6 L477.9,719.2 L478.3,718.8 L478.8,718.4 L479.2,718.0 L479.6,717.6 L480.1,717.1 L480.5,716.7 L481.0,716.3 L481.4,715.8 L481.8,715.4 L482.3,714.9 L482.7,714.4 L483.1,714.0 L483.6,713.5 L484.0,713.0 L484.5,712.5 L484.9,712.0 L485.3,711.5 L485.8,711.0 L486.2,710.5 L486.6,710.0 L487.1,709.4 L487.5,708.9 L488.0,708.4 L488.4,707.8 L488.8,707.2 L489.3,706.7 L489.7,706.1 L490.1,705.5 L490.6,704.9 L491.0,704.3 L491.5,703.7 L491.9,703.0 L492.3,702.4 L492.8,701.8 L493.2,701.1 L493.6,700.4 L494.1,699.8 L494.5,699.1 L494.9,698.4 L495.4,697.7 L495.8,697.0 L496.3,696.2 L496.7,695.5 L497.1,694.7 L497.6,694.0 L498.0,693.2 L498.4,692.4 L498.9,691.6 L499.3,690.8 L499.8,690.0 L500.2,689.1 L500.6,688.3 L501.1,687.4 L501.5,686.5 L501.9,685.6 L502.4,684.7 L502.8,683.8 L503.3,682.8 L503.7,681.9 L504.1,680.9 L504.6,679.9 L505.0,678.9 L505.4,677.9 L505.9,676.8 L506.3,675.8 L506.7,674.7 L507.2,673.6 L507.6,672.5 L508.1,671.4 L508.5,670.2 L508.9,669.0 L509.4,667.8 L509.8,666.6 L510.2,665.4 L510.7,664.1 L511.1,662.8 L511.6,661.5 L512.0,660.2 L512.4,658.8 L512.9,657.5 L513.3,656.1 L513.7,654.6 L514.2,653.2 L514.6,651.7 L515.1,650.2 L515.5,648.7 L515.9,647.1 L516.4,645.5 L516.8,643.9 L517.2,642.2 L517.7,640.5 L518.1,638.8 L518.6,637.1 L519.0,635.3 L519.4,633.5 L519.9,631.6 L520.3,629.8 L520.7,627.8 L521.2,625.9 L521.6,623.9 L522.0,621.9 L522.5,619.8 L522.9,617.7 L523.4,615.5 L523.8,613.3 L524.2,611.1 L524.7,608.8 L525.1,606.5 L525.5,604.1 L526.0,601.7 L526.4,599.3 L526.9,596.8 L527.3,594.2 L527.7,591.6 L528.2,589.0 L528.6,586.3 L529.0,583.5 L529.5,580.7 L529.9,577.8 L530.4,574.9 L530.8,571.9 L531.2,568.9 L531.7,565.8 L532.1,562.6 L532.5,559.4 L533.0,556.1 L533.4,552.8 L533.8,549.4 L534.3,545.9 L534.7,542.4 L535.2,538.8 L535.6,535.1 L536.0,531.4 L536.5,527.6 L536.9,523.7 L537.3,519.8 L537.8,515.8 L538.2,511.7 L538.7,507.5 L539.1,503.3 L539.5,499.0 L540.0,494.6 L540.4,490.2 L540.8,485.6 L541.3,481.1 L541.7,476.4 L542.2,471.6 L542.6,466.8 L543.0,461.9 L543.5,457.0 L543.9,451.9 L544.3,446.8 L544.8,441.6 L545.2,436.4 L545.7,431.1 L546.1,425.7 L546.5,420.3 L547.0,414.8 L547.4,409.2 L547.8,403.6 L548.3,397.9 L548.7,392.2 L549.1,386.5 L549.6,380.7 L550.0,374.8 L550.5,369.0 L550.9,363.1 L551.3,357.2 L551.8,351.2 L552.2,345.3 L552.6,339.4 L553.1,333.4 L553.5,327.5 L554.0,321.6 L554.4,315.7 L554.8,309.8 L555.3,304.0 L555.7,298.3 L556.1,292.6 L556.6,287.0 L557.0,281.4 L557.5,276.0 L557.9,270.6 L558.3,265.4 L558.8,260.3 L559.2,255.3 L559.6,250.5 L560.1,245.8 L560.5,241.3 L560.9,236.9 L561.4,232.8 L561.8,228.8 L562.3,225.0 L562.7,221.5 L563.1,218.2 L563.6,215.1 L564.0,212.2 L564.4,209.6 L564.9,207.3 L565.3,205.2 L565.8,203.4 L566.2,201.8 L566.6,200.5 L567.1,199.5 L567.5,198.8 L567.9,198.4 M568.8,198.4 L569.3,198.7 L569.7,199.4 L570.1,200.2 L570.6,201.3 L571.0,202.7 L571.4,204.3 L571.9,206.2 L572.3,208.2 L572.8,210.5 L573.2,213.0 L573.6,215.8 L574.1,218.7 L574.5,221.8 L574.9,225.1 L575.4,228.6 L575.8,232.3 L576.2,236.1 L576.7,240.1 L577.1,244.2 L577.6,248.5 L578.0,252.9 L578.4,257.4 L578.9,262.0 L579.3,266.7 L579.7,271.5 L580.2,276.4 L580.6,281.4 L581.1,286.5 L581.5,291.6 L581.9,296.7 L582.4,301.9 L582.8,307.2 L583.2,312.5 L583.7,317.8 L584.1,323.1 L584.6,328.4 L585.0,333.7 L585.4,339.1 L585.9,344.4 L586.3,349.7 L586.7,355.0 L587.2,360.3 L587.6,365.6 L588.0,370.8 L588.5,376.0 L588.9,381.2 L589.4,386.4 L589.8,391.5 L590.2,396.5 L590.7,401.5 L591.1,406.5 L591.5,411.4 L592.0,416.3 L592.4,421.1 L592.9,425.8 L593.3,430.5 L593.7,435.2 L594.2,439.8 L594.6,444.3 L595.0,448.8 L595.5,453.2 L595.9,457.5 L596.4,461.8 L596.8,466.1 L597.2,470.2 L597.7,474.3 L598.1,478.4 L598.5,482.4 L599.0,486.3 L599.4,490.2 L599.9,494.0 L600.3,497.7 L600.7,501.4 L601.2,505.0 L601.6,508.6 L602.0,512.1 L602.5,515.6 L602.9,519.0 L603.3,522.3 L603.8,525.6 L604.2,528.8 L604.7,532.0 L605.1,535.1 L605.5,538.2 L606.0,541.2 L606.4,544.2 L606.8,547.1 L607.3,550.0 L607.7,552.8 L608.2,555.6 L608.6,558.3 L609.0,561.0 L609.5,563.6 L609.9,566.2 L610.3,568.7 L610.8,571.2 L611.2,573.7 L611.7,576.1 L612.1,578.5 L612.5,580.8 L613.0,583.1 L613.4,585.4 L613.8,587.6 L614.3,589.7 L614.7,591.9 L615.1,594.0 L615.6,596.1 L616.0,598.1 L616.5,600.1 L616.9,602.0 L617.3,604.0 L617.8,605.9 L618.2,607.7 L618.6,609.6 L619.1,611.4 L619.5,613.1 L620.0,614.9 L620.4,616.6 L620.8,618.3 L621.3,619.9 L621.7,621.6 L622.1,623.2 L622.6,624.8 L623.0,626.3 L623.5,627.8 L623.9,629.3 L624.3,630.8 L624.8,632.3 L625.2,633.7 L625.6,635.1 L626.1,636.5 L626.5,637.9 L627.0,639.2 L627.4,640.5 L627.8,641.8 L628.3,643.1 L628.7,644.3 L629.1,645.6 L629.6,646.8 L630.0,648.0 L630.4,649.2 L630.9,650.3 L631.3,651.5 L631.8,652.6 L632.2,653.7 L632.6,654.8 L633.1,655.9 L633.5,657.0 L633.9,658.0 L634.4,659.0 L634.8,660.0 L635.3,661.0 L635.7,662.0 L636.1,663.0 L636.6,663.9 L637.0,664.9 L637.4,665.8 L637.9,666.7 L638.3,667.6 L638.8,668.5 L639.2,669.4 L639.6,670.2 L640.1,671.1 L640.5,671.9 L640.9,672.7 L641.4,673.6 L641.8,674.4 L642.2,675.1 L642.7,675.9 L643.1,676.7 L643.6,677.5 L644.0,678.2 L644.4,678.9 L644.9,679.7 L645.3,680.4 L645.7,681.1 L646.2,681.8 L646.6,682.5 L647.1,683.1 L647.5,683.8 L647.9,684.5 L648.4,685.1 L648.8,685.8 L649.2,686.4 L649.7,687.0 L650.1,687.6 L650.6,688.3 L651.0,688.9 L651.4,689.5 L651.9,690.0 L652.3,690.6 L652.7,691.2 L653.2,691.8 L653.6,692.3 L654.1,692.9 L654.5,693.4 L654.9,693.9 L655.4,694.5 L655.8,695.0 L656.2,695.5 L656.7,696.0 L657.1,696.5 L657.5,697.0 L658.0,697.5 L658.4,698.0 L658.9,698.5 L659.3,698.9 L659.7,699.4 L660.2,699.9 L660.6,700.3 L661.0,700.8 L661.5,701.2 L661.9,701.7 L662.4,702.1 L662.8,702.5 L663.2,702.9 L663.7,703.4 L664.1,703.8 L664.5,704.2 L665.0,704.6 L665.4,705.0 L665.9,705.4 L666.3,705.8 L666.7,706.2 L667.2,706.6 L667.6,706.9 L668.0,707.3 L668.5,707.7 L668.9,708.0 L669.4,708.4 L669.8,708.8 L670.2,709.1 L670.7,709.5 L671.1,709.8 L671.5,710.1 L672.0,710.5 L672.4,710.8 L672.8,711.1 L673.3,711.5 L675.0,712.7 L676.8,714.0 L678.5,715.1 L680.3,716.3 L682.0,717.3 L683.8,718.4 L685.5,719.4 L687.3,720.3 L689.0,721.2 L690.8,722.1 L692.5,723.0 L694.3,723.8 L696.0,724.6" stroke="#6c5c90" stroke-width="2.2" stroke-dasharray="6 6" stroke-dashoffset="12"/>
<path d="M218.7,758.8 L220.4,758.8 L222.2,758.8 L223.9,758.8 L225.7,758.7 L227.4,758.7 L229.2,758.7 L230.9,758.6 L232.7,758.6 L234.4,758.6 L236.2,758.6 L237.9,758.5 L239.7,758.5 L241.4,758.5 L243.2,758.4 L244.9,758.4 L246.7,758.4 L248.4,758.3 L250.2,758.3 L251.9,758.3 L253.7,758.2 L255.4,758.2 L257.2,758.2 L258.9,758.1 L260.7,758.1 L262.4,758.1 L264.2,758.0 L265.9,758.0 L267.7,757.9 L269.4,757.9 L271.2,757.9 L272.9,757.8 L274.6,757.8 L276.4,757.7 L278.1,757.7 L279.9,757.6 L281.6,757.6 L283.4,757.5 L285.1,757.5 L286.9,757.4 L288.6,757.4 L290.4,757.3 L292.1,757.3 L293.9,757.2 L295.6,757.2 L297.4,757.1 L299.1,757.0 L300.9,757.0 L302.6,756.9 L304.4,756.9 L306.1,756.8 L307.9,756.7 L309.6,756.7 L311.4,756.6 L313.1,756.5 L314.9,756.5 L316.6,756.4 L318.4,756.3 L320.1,756.2 L321.9,756.2 L323.6,756.1 L325.4,756.0 L327.1,755.9 L328.8,755.8 L330.6,755.8 L332.3,755.7 L334.1,755.6 L335.8,755.5 L337.6,755.4 L339.3,755.3 L341.1,755.2 L342.8,755.1 L344.6,755.0 L346.3,754.9 L348.1,754.8 L349.8,754.6 L351.6,754.5 L353.3,754.4 L355.1,754.3 L356.8,754.2 L358.6,754.0 L360.3,753.9 L362.1,753.8 L363.8,753.6 L365.6,753.5 L367.3,753.3 L369.1,753.2 L370.8,753.0 L372.6,752.9 L374.3,752.7 L376.1,752.5 L377.8,752.4 L379.6,752.2 L381.3,752.0 L383.0,751.8 L384.8,751.6 L386.5,751.4 L388.3,751.2 L390.0,751.0 L391.8,750.8 L393.5,750.5 L395.3,750.3 L397.0,750.1 L398.8,749.8 L400.5,749.6 L402.3,749.3 L404.0,749.0 L405.8,748.7 L407.5,748.4 L409.3,748.1 L411.0,747.8 L412.8,747.5 L414.5,747.2 L416.3,746.8 L418.0,746.5 L419.8,746.1 L421.5,745.7 L423.3,745.3 L425.0,744.9 L426.8,744.5 L428.5,744.0 L430.3,743.6 L432.0,743.1 L433.8,742.6 L435.5,742.1 L437.2,741.5 L439.0,741.0 L440.7,740.4 L442.5,739.8 L444.2,739.1 L446.0,738.5 L447.7,737.8 L449.5,737.0 L451.2,736.3 L453.0,735.5 M567.9,198.4 L568.4,198.2 L568.8,198.4 M696.0,724.6 L697.8,725.3 L699.5,726.0 L701.3,726.8 L703.0,727.4 L704.8,728.1 L706.5,728.7 L708.3,729.3 L710.0,729.9 L711.7,730.5 L713.5,731.1 L715.2,731.6 L717.0,732.1 L718.7,732.6 L720.5,733.1 L722.2,733.6 L724.0,734.0 L725.7,734.5 L727.5,734.9 L729.2,735.3 L731.0,735.7 L732.7,736.1 L734.5,736.5 L736.2,736.9 L738.0,737.3 L739.7,737.6 L741.5,737.9 L743.2,738.3 L745.0,738.6 L746.7,738.9 L748.5,739.2 L750.2,739.5 L752.0,739.8 L753.7,740.1 L755.5,740.4 L757.2,740.6 L759.0,740.9 L760.7,741.2 L762.5,741.4 L764.2,741.6 L765.9,741.9 L767.7,742.1 L769.4,742.3 L771.2,742.6 L772.9,742.8 L774.7,743.0 L776.4,743.2 L778.2,743.4 L779.9,743.6 L781.7,743.8 L783.4,744.0 L785.2,744.2 L786.9,744.3 L788.7,744.5 L790.4,744.7 L792.2,744.8 L793.9,745.0 L795.7,745.2 L797.4,745.3 L799.2,745.5 L800.9,745.6 L802.7,745.8 L804.4,745.9 L806.2,746.1 L807.9,746.2 L809.7,746.3 L811.4,746.5 L813.2,746.6 L814.9,746.7 L816.7,746.9 L818.4,747.0 L820.1,747.1 L821.9,747.2 L823.6,747.3 L825.4,747.5 L827.1,747.6 L828.9,747.7 L830.6,747.8 L832.4,747.9 L834.1,748.0 L835.9,748.1 L837.6,748.2 L839.4,748.3 L841.1,748.4 L842.9,748.5 L844.6,748.6 L846.4,748.7 L848.1,748.8 L849.9,748.8 L851.6,748.9 L853.4,749.0 L855.1,749.1 L856.9,749.2 L858.6,749.3 L860.4,749.4 L862.1,749.4 L863.9,749.5 L865.6,749.6 L867.4,749.7 L869.1,749.7 L870.9,749.8 L872.6,749.9 L874.3,749.9 L876.1,750.0 L877.8,750.1 L879.6,750.2 L881.3,750.2 L883.1,750.3 L884.8,750.3 L886.6,750.4 L888.3,750.5 L890.1,750.5 L891.8,750.6 L893.6,750.7 L895.3,750.7 L897.1,750.8 L898.8,750.8 L900.6,750.9 L902.3,750.9 L904.1,751.0 L905.8,751.0 L907.6,751.1 L909.3,751.2 L911.1,751.2 L912.8,751.3 L914.6,751.3 L916.3,751.4 L918.1,751.4 L919.8,751.5 L921.6,751.5 L923.3,751.5 L925.1,751.6 L926.8,751.6 L928.6,751.7 L930.3,751.7 L932.0,751.8 L933.8,751.8 L935.5,751.9 L937.3,751.9 L939.0,751.9 L940.8,752.0 L942.5,752.0 L944.3,752.1 L946.0,752.1 L947.8,752.1 L949.5,752.2 L951.3,752.2 L953.0,752.3 L954.8,752.3 L956.5,752.3 L958.3,752.4 L960.0,752.4 L961.8,752.4 L963.5,752.5 L965.3,752.5 L967.0,752.5 L968.8,752.6 L970.5,752.6 L972.3,752.6 L974.0,752.7 L975.8,752.7 L977.5,752.7 L979.3,752.8 L981.0,752.8 L982.8,752.8 L984.5,752.9 L986.2,752.9 L988.0,752.9 L989.7,752.9 L991.5,753.0 L993.2,753.0 L995.0,753.0 L996.7,753.1 L998.5,753.1 L1000.2,753.1 L1002.0,753.1 L1003.7,753.2 L1005.5,753.2 L1007.2,753.2 L1009.0,753.2 L1010.7,753.3 L1012.5,753.3 L1014.2,753.3 L1016.0,753.3 L1017.7,753.4 L1019.5,753.4 L1021.2,753.4 L1023.0,753.4 L1024.7,753.5 L1026.5,753.5 L1028.2,753.5 L1030.0,753.5 L1031.7,753.6 L1033.5,753.6 L1035.2,753.6 L1037.0,753.6 L1038.7,753.6 L1040.4,753.7 L1042.2,753.7 L1043.9,753.7 L1045.7,753.7 L1047.4,753.8 L1049.2,753.8 L1050.9,753.8 L1052.7,753.8 L1054.4,753.8 L1056.2,753.9 L1057.9,753.9 L1059.7,753.9 L1061.4,753.9 L1063.2,753.9 L1064.9,753.9 L1066.7,754.0 L1068.4,754.0 L1070.2,754.0 L1071.9,754.0 L1073.7,754.0 L1075.4,754.1 L1077.2,754.1 L1078.9,754.1 L1080.7,754.1 L1082.4,754.1 L1084.2,754.1 L1085.9,754.2 L1087.7,754.2 L1089.4,754.2 L1091.2,754.2 L1092.9,754.2" stroke="#6c5c90" stroke-width="2.4" stroke-dasharray="18 4" stroke-dashoffset="28"/>
<path d="M218.7,758.1 L220.4,758.1 L222.2,758.1 L223.9,758.0 L225.7,758.0 L227.4,757.9 L229.2,757.9 L230.9,757.8 L232.7,757.8 L234.4,757.8 L236.2,757.7 L237.9,757.7 L239.7,757.6 L241.4,757.6 L243.2,757.5 L244.9,757.5 L246.7,757.4 L248.4,757.4 L250.2,757.3 L251.9,757.3 L253.7,757.2 L255.4,757.2 L257.2,757.1 L258.9,757.0 L260.7,757.0 L262.4,756.9 L264.2,756.8 L265.9,756.8 L267.7,756.7 L269.4,756.7 L271.2,756.6 L272.9,756.5 L274.6,756.4 L276.4,756.4 L278.1,756.3 L279.9,756.2 L281.6,756.1 L283.4,756.1 L285.1,756.0 L286.9,755.9 L288.6,755.8 L290.4,755.7 L292.1,755.6 L293.9,755.5 L295.6,755.4 L297.4,755.3 L299.1,755.2 L300.9,755.1 L302.6,755.0 L304.4,754.9 L306.1,754.8 L307.9,754.7 L309.6,754.6 L311.4,754.5 L313.1,754.3 L314.9,754.2 L316.6,754.1 L318.4,753.9 L320.1,753.8 L321.9,753.7 L323.6,753.5 L325.4,753.4 L327.1,753.2 L328.8,753.1 L330.6,752.9 L332.3,752.7 L334.1,752.6 L335.8,752.4 L337.6,752.2 L339.3,752.0 L341.1,751.9 L342.8,751.7 L344.6,751.5 L346.3,751.2 L348.1,751.0 L349.8,750.8 L351.6,750.6 L353.3,750.3 L355.1,750.1 L356.8,749.9 L358.6,749.6 L360.3,749.3 L362.1,749.1 L363.8,748.8 L365.6,748.5 L367.3,748.2 L369.1,747.9 L370.8,747.5 L372.6,747.2 L374.3,746.8 L376.1,746.5 L377.8,746.1 L379.6,745.7 L381.3,745.3 L383.0,744.9 L384.8,744.5 L386.5,744.0 L388.3,743.6 L390.0,743.1 L391.8,742.6 L393.5,742.1 L395.3,741.5 L397.0,740.9 L398.8,740.4 L400.5,739.7 L402.3,739.1 L404.0,738.4 L405.8,737.7 L407.5,737.0 L409.3,736.3 L411.0,735.5 L412.8,734.6 L414.5,733.8 L416.3,732.9 L418.0,731.9 L419.8,730.9 L421.5,729.9 L422.0,729.6 L422.4,729.3 L422.8,729.1 L423.3,728.8 L423.7,728.5 L424.1,728.2 L424.6,727.9 L425.0,727.6 L425.4,727.4 L425.9,727.1 L426.3,726.7 L426.8,726.4 L427.2,726.1 L427.6,725.8 L428.1,725.5 L428.5,725.2 L428.9,724.9 L429.4,724.5 L429.8,724.2 L430.3,723.8 L430.7,723.5 L431.1,723.2 L431.6,722.8 L432.0,722.4 L432.4,722.1 L432.9,721.7 L433.3,721.3 L433.8,721.0 L434.2,720.6 L434.6,720.2 L435.1,719.8 L435.5,719.4 L435.9,719.0 L436.4,718.6 L436.8,718.2 L437.2,717.8 L437.7,717.3 L438.1,716.9 L438.6,716.5 L439.0,716.0 L439.4,715.6 L439.9,715.1 L440.3,714.7 L440.7,714.2 L441.2,713.7 L441.6,713.3 L442.1,712.8 L442.5,712.3 L442.9,711.8 L443.4,711.3 L443.8,710.8 L444.2,710.2 L444.7,709.7 L445.1,709.2 L445.6,708.6 L446.0,708.1 L446.4,707.5 L446.9,706.9 L447.3,706.3 L447.7,705.8 L448.2,705.2 L448.6,704.6 L449.1,703.9 L449.5,703.3 L449.9,702.7 L450.4,702.0 L450.8,701.4 L451.2,700.7 L451.7,700.1 L452.1,699.4 L452.5,698.7 L453.0,698.0 L453.4,697.3 L453.9,696.5 L454.3,695.8 L454.7,695.0 L455.2,694.3 L455.6,693.5 L456.0,692.7 L456.5,691.9 L456.9,691.1 L457.4,690.3 L457.8,689.4 L458.2,688.6 L458.7,687.7 L459.1,686.8 L459.5,685.9 L460.0,685.0 L460.4,684.1 L460.9,683.2 L461.3,682.2 L461.7,681.2 L462.2,680.3 L462.6,679.2 L463.0,678.2 L463.5,677.2 L463.9,676.1 L464.4,675.1 L464.8,674.0 L465.2,672.8 L465.7,671.7 L466.1,670.6 L466.5,669.4 L467.0,668.2 L467.4,667.0 L467.8,665.7 L468.3,664.5 L468.7,663.2 L469.2,661.9 L469.6,660.6 L470.0,659.2 L470.5,657.8 L470.9,656.4 L471.3,655.0 L471.8,653.6 L472.2,652.1 L472.7,650.6 L473.1,649.0 L473.5,647.5 L474.0,645.9 L474.4,644.3 L474.8,642.6 L475.3,640.9 L475.7,639.2 L476.2,637.5 L476.6,635.7 L477.0,633.9 L477.5,632.0 L477.9,630.1 L478.3,628.2 L478.8,626.2 L479.2,624.3 L479.6,622.2 L480.1,620.1 L480.5,618.0 L481.0,615.9 L481.4,613.7 L481.8,611.4 L482.3,609.2 L482.7,606.8 L483.1,604.5 L483.6,602.0 L484.0,599.6 L484.5,597.1 L484.9,594.5 L485.3,591.9 L485.8,589.2 L486.2,586.5 L486.6,583.7 L487.1,580.9 L487.5,578.0 L488.0,575.1 L488.4,572.1 L488.8,569.0 L489.3,565.9 L489.7,562.7 L490.1,559.5 L490.6,556.2 L491.0,552.8 L491.5,549.4 L491.9,545.9 L492.3,542.3 L492.8,538.7 L493.2,535.0 L493.6,531.2 L494.1,527.3 L494.5,523.4 L494.9,519.4 L495.4,515.4 L495.8,511.2 L496.3,507.0 L496.7,502.7 L497.1,498.3 L497.6,493.9 L498.0,489.4 L498.4,484.8 L498.9,480.1 L499.3,475.3 L499.8,470.5 L500.2,465.6 L500.6,460.6 L501.1,455.5 L501.5,450.3 L501.9,445.1 L502.4,439.8 L502.8,434.4 L503.3,429.0 L503.7,423.4 L504.1,417.8 L504.6,412.2 L505.0,406.4 L505.4,400.6 L505.9,394.8 L506.3,388.9 L506.7,382.9 L507.2,376.9 L507.6,370.8 L508.1,364.7 L508.5,358.6 L508.9,352.4 L509.4,346.2 L509.8,340.0 L510.2,333.7 L510.7,327.5 L511.1,321.3 L511.6,315.0 L512.0,308.8 L512.4,302.6 L512.9,296.5 L513.3,290.4 L513.7,284.3 L514.2,278.3 L514.6,272.4 L515.1,266.5 L515.5,260.7 L515.9,255.1 L516.4,249.6 L516.8,244.2 L517.2,238.9 L517.7,233.8 L518.1,228.8 L518.6,224.0 L519.0,219.4 L519.4,215.0 L519.9,210.8 L520.3,206.8 L520.7,203.0 L521.2,199.5 L521.6,196.2 L522.0,193.2 L522.5,190.4 L522.9,187.9 L523.4,185.7 L523.8,183.8 L524.2,182.1 L524.7,180.8 L525.1,179.7 L525.5,178.9 L526.0,178.5 L526.4,178.3 L526.9,178.4 L527.3,178.8 L527.7,179.5 L528.2,180.4 L528.6,181.6 L529.0,183.1 L529.5,184.8 L529.9,186.7 L530.4,188.9 L530.8,191.4 L531.2,194.0 L531.7,196.9 L532.1,200.0 L532.5,203.3 L533.0,206.8 L533.4,210.5 L533.8,214.4 L534.3,218.5 L534.7,222.7 L535.2,227.0 L535.6,231.5 L536.0,236.2 L536.5,241.0 L536.9,245.8 L537.3,250.8 L537.8,255.9 L538.2,261.1 L538.7,266.3 L539.1,271.6 L539.5,277.0 L540.0,282.5 L540.4,287.9 L540.8,293.4 L541.3,299.0 L541.7,304.6 L542.2,310.1 L542.6,315.7 L543.0,321.3 L543.5,326.9 L543.9,332.5 L544.3,338.1 L544.8,343.6 L545.2,349.2 L545.7,354.7 L546.1,360.1 L546.5,365.6 L547.0,371.0 L547.4,376.3 L547.8,381.7 L548.3,386.9 L548.7,392.2 L549.1,397.3 L549.6,402.4 L550.0,407.5 L550.5,412.5 L550.9,417.4 L551.3,422.3 L551.8,427.2 L552.2,431.9 L552.6,436.6 L553.1,441.3 L553.5,445.8 L554.0,450.3 L554.4,454.8 L554.8,459.2 L555.3,463.5 L555.7,467.7 L556.1,471.9 L556.6,476.0 L557.0,480.1 L557.5,484.1 L557.9,488.0 L558.3,491.9 L558.8,495.7 L559.2,499.4 L559.6,503.1 L560.1,506.8 L560.5,510.3 L560.9,513.8 L561.4,517.3 L561.8,520.6 L562.3,524.0 L562.7,527.2 L563.1,530.5 L563.6,533.6 L564.0,536.7 L564.4,539.8 L564.9,542.8 L565.3,545.7 L565.8,548.6 L566.2,551.5 L566.6,554.3 L567.1,557.0 L567.5,559.7 L567.9,562.4 L568.4,565.0 L568.8,567.5 L569.3,570.1 L569.7,572.5 L570.1,575.0 L570.6,577.4 L571.0,579.7 L571.4,582.0 L571.9,584.3 L572.3,586.5 L572.8,588.7 L573.2,590.9 L573.6,593.0 L574.1,595.0 L574.5,597.1 L574.9,599.1 L575.4,601.1 L575.8,603.0 L576.2,604.9 L576.7,606.8 L577.1,608.6 L577.6,610.4 L578.0,612.2 L578.4,614.0 L578.9,615.7 L579.3,617.4 L579.7,619.1 L580.2,620.7 L580.6,622.3 L581.1,623.9 L581.5,625.5 L581.9,627.0 L582.4,628.5 L582.8,630.0 L583.2,631.4 L583.7,632.9 L584.1,634.3 L584.6,635.7 L585.0,637.0 L585.4,638.4 L585.9,639.7 L586.3,641.0 L586.7,642.3 L587.2,643.5 L587.6,644.8 L588.0,646.0 L588.5,647.2 L588.9,648.4 L589.4,649.6 L589.8,650.7 L590.2,651.8 L590.7,653.0 L591.1,654.0 L591.5,655.1 L592.0,656.2 L592.4,657.2 L592.9,658.3 L593.3,659.3 L593.7,660.3 L594.2,661.3 L594.6,662.2 L595.0,663.2 L595.5,664.1 L595.9,665.1 L596.4,666.0 L596.8,666.9 L597.2,667.8 L597.7,668.6 L598.1,669.5 L598.5,670.4 L599.0,671.2 L599.4,672.0 L599.9,672.8 L600.3,673.6 L600.7,674.4 L601.2,675.2 L601.6,676.0 L602.0,676.7 L602.5,677.5 L602.9,678.2 L603.3,679.0 L603.8,679.7 L604.2,680.4 L604.7,681.1 L605.1,681.8 L605.5,682.5 L606.0,683.1 L606.4,683.8 L606.8,684.4 L607.3,685.1 L607.7,685.7 L608.2,686.4 L608.6,687.0 L609.0,687.6 L609.5,688.2 L609.9,688.8 L610.3,689.4 L610.8,689.9 L611.2,690.5 L611.7,691.1 L612.1,691.6 L612.5,692.2 L613.0,692.7 L613.4,693.3 L613.8,693.8 L614.3,694.3 L614.7,694.8 L615.1,695.4 L615.6,695.9 L616.0,696.4 L616.5,696.9 L616.9,697.3 L617.3,697.8 L617.8,698.3 L618.2,698.8 L618.6,699.2 L619.1,699.7 L619.5,700.1 L620.0,700.6 L620.4,701.0 L620.8,701.5 L621.3,701.9 L621.7,702.3 L622.1,702.7 L622.6,703.1 L623.0,703.6 L623.5,704.0 L623.9,704.4 L624.3,704.8 L624.8,705.2 L625.2,705.5 L625.6,705.9 L626.1,706.3 L626.5,706.7 L627.0,707.1 L627.4,707.4 L627.8,707.8 L628.3,708.1 L628.7,708.5 L629.1,708.8 L629.6,709.2 L630.0,709.5 L630.4,709.9 L630.9,710.2 L631.3,710.5 L633.1,711.8 L634.8,713.1 L636.6,714.2 L638.3,715.4 L640.1,716.5 L641.8,717.5 L643.6,718.5 L645.3,719.5 L647.1,720.4 L648.8,721.3 L650.6,722.2 L652.3,723.0 L654.1,723.8 L655.8,724.6 L657.5,725.3 L659.3,726.0 L661.0,726.7 L662.8,727.4 L664.5,728.0 L666.3,728.7 L668.0,729.3 L669.8,729.8 L671.5,730.4 L673.3,730.9 L675.0,731.5 L676.8,732.0 L678.5,732.5 L680.3,733.0 L682.0,733.4 L683.8,733.9 L685.5,734.3 L687.3,734.7 L689.0,735.1 L690.8,735.5 L692.5,735.9 L694.3,736.3 L696.0,736.7 L697.8,737.0 L699.5,737.4 L701.3,737.7 L703.0,738.0 L704.8,738.4 L706.5,738.7 L708.3,739.0 L710.0,739.3 L711.7,739.6 L713.5,739.8 L715.2,740.1 L717.0,740.4 L718.7,740.6 L720.5,740.9 L722.2,741.1 L724.0,741.4 L725.7,741.6 L727.5,741.8 L729.2,742.1 L731.0,742.3 L732.7,742.5 L734.5,742.7 L736.2,742.9 L738.0,743.1 L739.7,743.3 L741.5,743.5 L743.2,743.7 L745.0,743.9 L746.7,744.0 L748.5,744.2 L750.2,744.4 L752.0,744.5 L753.7,744.7 L755.5,744.9 L757.2,745.0 L759.0,745.2 L760.7,745.3 L762.5,745.5 L764.2,745.6 L765.9,745.8 L767.7,745.9 L769.4,746.0 L771.2,746.2 L772.9,746.3 L774.7,746.4 L776.4,746.5 L778.2,746.7 L779.9,746.8 L781.7,746.9 L783.4,747.0 L785.2,747.1 L786.9,747.2 L788.7,747.4 L790.4,747.5 L792.2,747.6 L793.9,747.7 L795.7,747.8 L797.4,747.9 L799.2,748.0 L800.9,748.1 L802.7,748.2 L804.4,748.3 L806.2,748.3 L807.9,748.4 L809.7,748.5 L811.4,748.6 L813.2,748.7 L814.9,748.8 L816.7,748.9 L818.4,748.9 L820.1,749.0 L821.9,749.1 L823.6,749.2 L825.4,749.3 L827.1,749.3 L828.9,749.4 L830.6,749.5 L832.4,749.6 L834.1,749.6 L835.9,749.7 L837.6,749.8 L839.4,749.8 L841.1,749.9 L842.9,750.0 L844.6,750.0 L846.4,750.1 L848.1,750.2 L849.9,750.2 L851.6,750.3 L853.4,750.3 L855.1,750.4 L856.9,750.4 L858.6,750.5 L860.4,750.6 L862.1,750.6 L863.9,750.7 L865.6,750.7 L867.4,750.8 L869.1,750.8 L870.9,750.9 L872.6,750.9 L874.3,751.0 L876.1,751.0 L877.8,751.1 L879.6,751.1 L881.3,751.2 L883.1,751.2 L884.8,751.3 L886.6,751.3 L888.3,751.4 L890.1,751.4 L891.8,751.5 L893.6,751.5 L895.3,751.5 L897.1,751.6 L898.8,751.6 L900.6,751.7 L902.3,751.7 L904.1,751.7 L905.8,751.8 L907.6,751.8 L909.3,751.9 L911.1,751.9 L912.8,751.9 L914.6,752.0 L916.3,752.0 L918.1,752.0 L919.8,752.1 L921.6,752.1 L923.3,752.2 L925.1,752.2 L926.8,752.2 L928.6,752.3 L930.3,752.3 L932.0,752.3 L933.8,752.4 L935.5,752.4 L937.3,752.4 L939.0,752.5 L940.8,752.5 L942.5,752.5 L944.3,752.5 L946.0,752.6 L947.8,752.6 L949.5,752.6 L951.3,752.7 L953.0,752.7 L954.8,752.7 L956.5,752.7 L958.3,752.8 L960.0,752.8 L961.8,752.8 L963.5,752.9 L965.3,752.9 L967.0,752.9 L968.8,752.9 L970.5,753.0 L972.3,753.0 L974.0,753.0 L975.8,753.0 L977.5,753.1 L979.3,753.1 L981.0,753.1 L982.8,753.1 L984.5,753.2 L986.2,753.2 L988.0,753.2 L989.7,753.2 L991.5,753.3 L993.2,753.3 L995.0,753.3 L996.7,753.3 L998.5,753.3 L1000.2,753.4 L1002.0,753.4 L1003.7,753.4 L1005.5,753.4 L1007.2,753.4 L1009.0,753.5 L1010.7,753.5 L1012.5,753.5 L1014.2,753.5 L1016.0,753.5 L1017.7,753.6 L1019.5,753.6 L1021.2,753.6 L1023.0,753.6 L1024.7,753.6 L1026.5,753.7 L1028.2,753.7 L1030.0,753.7 L1031.7,753.7 L1033.5,753.7 L1035.2,753.8 L1037.0,753.8 L1038.7,753.8 L1040.4,753.8 L1042.2,753.8 L1043.9,753.8 L1045.7,753.9 L1047.4,753.9 L1049.2,753.9 L1050.9,753.9 L1052.7,753.9 L1054.4,753.9 L1056.2,754.0 L1057.9,754.0 L1059.7,754.0 L1061.4,754.0 L1063.2,754.0 L1064.9,754.0 L1066.7,754.0 L1068.4,754.1 L1070.2,754.1 L1071.9,754.1 L1073.7,754.1 L1075.4,754.1 L1077.2,754.1 L1078.9,754.2 L1080.7,754.2 L1082.4,754.2 L1084.2,754.2 L1085.9,754.2 L1087.7,754.2 L1089.4,754.2 L1091.2,754.2 L1092.9,754.3" stroke="#8088a8" stroke-width="3.0"/>
<path d="M409.3,736.3 L411.0,735.5 L412.8,734.6 L414.5,733.8 L416.3,732.9 L418.0,731.9 L419.8,730.9 L421.5,729.9 L422.0,729.6 L422.4,729.3 L422.8,729.1 L423.3,728.8 L423.7,728.5 L424.1,728.2 L424.6,727.9 L425.0,727.6 L425.4,727.4 L425.9,727.1 L426.3,726.7 L426.8,726.4 L427.2,726.1 L427.6,725.8 L428.1,725.5 L428.5,725.2 L428.9,724.9 L429.4,724.5 L429.8,724.2 L430.3,723.8 L430.7,723.5 L431.1,723.2 L431.6,722.8 L432.0,722.4 L432.4,722.1 L432.9,721.7 L433.3,721.3 L433.8,721.0 L434.2,720.6 L434.6,720.2 L435.1,719.8 L435.5,719.4 L435.9,719.0 L436.4,718.6 L436.8,718.2 L437.2,717.8 L437.7,717.3 L438.1,716.9 L438.6,716.5 L439.0,716.0 L439.4,715.6 L439.9,715.1 L440.3,714.7 L440.7,714.2 L441.2,713.7 L441.6,713.3 L442.1,712.8 L442.5,712.3 L442.9,711.8 L443.4,711.3 L443.8,710.8 L444.2,710.2 L444.7,709.7 L445.1,709.2 L445.6,708.6 L446.0,708.1 L446.4,707.5 L446.9,706.9 L447.3,706.3 L447.7,705.8 L448.2,705.2 L448.6,704.6 L449.1,703.9 L449.5,703.3 L449.9,702.7 L450.4,702.0 L450.8,701.4 L451.2,700.7 L451.7,700.1 L452.1,699.4 L452.5,698.7 L453.0,698.0 L453.4,697.3 L453.9,696.5 L454.3,695.8 L454.7,695.0 L455.2,694.3 L455.6,693.5 L456.0,692.7 L456.5,691.9 L456.9,691.1 L457.4,690.3 L457.8,689.4 L458.2,688.6 L458.7,687.7 L459.1,686.8 L459.5,685.9 L460.0,685.0 L460.4,684.1 L460.9,683.2 L461.3,682.2 L461.7,681.2 L462.2,680.3 L462.6,679.2 L463.0,678.2 L463.5,677.2 L463.9,676.1 L464.4,675.1 L464.8,674.0 L465.2,672.8 L465.7,671.7 L466.1,670.6 L466.5,669.4 L467.0,668.2 L467.4,667.0 L467.8,665.7 L468.3,664.5 L468.7,663.2 L469.2,661.9 L469.6,660.6 L470.0,659.2 L470.5,657.8 L470.9,656.4 L471.3,655.0 L471.8,653.6 L472.2,652.1 L472.7,650.6 L473.1,649.0 L473.5,647.5 L474.0,645.9 L474.4,644.3 L474.8,642.6 L475.3,640.9 L475.7,639.2 L476.2,637.5 L476.6,635.7 L477.0,633.9 L477.5,632.0 L477.9,630.1 L478.3,628.2 L478.8,626.2 L479.2,624.3 L479.6,622.2 L480.1,620.1 L480.5,618.0 L481.0,615.9 L481.4,613.7 L481.8,611.4 L482.3,609.2 L482.7,606.8 L483.1,604.5 L483.6,602.0 L484.0,599.6 L484.5,597.1 L484.9,594.5 L485.3,591.9 L485.8,589.2 L486.2,586.5 L486.6,583.7 L487.1,580.9 L487.5,578.0 L488.0,575.1 L488.4,572.1 L488.8,569.0 L489.3,565.9 L489.7,562.7 L490.1,559.5 L490.6,556.2 L491.0,552.8 L491.5,549.4 L491.9,545.9 L492.3,542.3 L492.8,538.7 L493.2,535.0 L493.6,531.2 L494.1,527.3 L494.5,523.4 L494.9,519.4 L495.4,515.4 L495.8,511.2 L496.3,507.0 L496.7,502.7 L497.1,498.3 L497.6,493.9 L498.0,489.4 L498.4,484.8 L498.9,480.1 L499.3,475.3 L499.8,470.5 L500.2,465.6 L500.6,460.6 L501.1,455.5 L501.5,450.3 L501.9,445.1 L502.4,439.8 L502.8,434.4 L503.3,429.0 L503.7,423.4 L504.1,417.8 L504.6,412.2 L505.0,406.4 L505.4,400.6 L505.9,394.8 L506.3,388.9 L506.7,382.9 L507.2,376.9 L507.6,370.8 L508.1,364.7 L508.5,358.6 L508.9,352.4 L509.4,346.2 L509.8,340.0 L510.2,333.7 L510.7,327.5 L511.1,321.3 L511.6,315.0 L512.0,308.8 L512.4,302.6 L512.9,296.5 L513.3,290.4 L513.7,284.3 L514.2,278.3 L514.6,272.4 L515.1,266.5 L515.5,260.7 L515.9,255.1 L516.4,249.6 L516.8,244.2 L517.2,238.9 L517.7,233.8 L518.1,228.8 L518.6,224.0 L519.0,219.4 L519.4,215.0 L519.9,210.8 L520.3,206.8 L520.7,203.0 L521.2,199.5 L521.6,196.2 L522.0,193.2 L522.5,190.4 L522.9,187.9 L523.4,185.7 L523.8,183.8 L524.2,182.1 L524.7,180.8 L525.1,179.7 L525.5,178.9 L526.0,178.5 M526.9,178.4 L527.3,178.8 L527.7,179.5 L528.2,180.4 L528.6,181.6 L529.0,183.1 L529.5,184.8 L529.9,186.7 L530.4,188.9 L530.8,191.4 L531.2,194.0 L531.7,196.9 L532.1,200.0 L532.5,203.3 L533.0,206.8 L533.4,210.5 L533.8,214.4 L534.3,218.5 L534.7,222.7 L535.2,227.0 L535.6,231.5 L536.0,236.2 L536.5,241.0 L536.9,245.8 L537.3,250.8 L537.8,255.9 L538.2,261.1 L538.7,266.3 L539.1,271.6 L539.5,277.0 L540.0,282.5 L540.4,287.9 L540.8,293.4 L541.3,299.0 L541.7,304.6 L542.2,310.1 L542.6,315.7 L543.0,321.3 L543.5,326.9 L543.9,332.5 L544.3,338.1 L544.8,343.6 L545.2,349.2 L545.7,354.7 L546.1,360.1 L546.5,365.6 L547.0,371.0 L547.4,376.3 L547.8,381.7 L548.3,386.9 L548.7,392.2 L549.1,397.3 L549.6,402.4 L550.0,407.5 L550.5,412.5 L550.9,417.4 L551.3,422.3 L551.8,427.2 L552.2,431.9 L552.6,436.6 L553.1,441.3 L553.5,445.8 L554.0,450.3 L554.4,454.8 L554.8,459.2 L555.3,463.5 L555.7,467.7 L556.1,471.9 L556.6,476.0 L557.0,480.1 L557.5,484.1 L557.9,488.0 L558.3,491.9 L558.8,495.7 L559.2,499.4 L559.6,503.1 L560.1,506.8 L560.5,510.3 L560.9,513.8 L561.4,517.3 L561.8,520.6 L562.3,524.0 L562.7,527.2 L563.1,530.5 L563.6,533.6 L564.0,536.7 L564.4,539.8 L564.9,542.8 L565.3,545.7 L565.8,548.6 L566.2,551.5 L566.6,554.3 L567.1,557.0 L567.5,559.7 L567.9,562.4 L568.4,565.0 L568.8,567.5 L569.3,570.1 L569.7,572.5 L570.1,575.0 L570.6,577.4 L571.0,579.7 L571.4,582.0 L571.9,584.3 L572.3,586.5 L572.8,588.7 L573.2,590.9 L573.6,593.0 L574.1,595.0 L574.5,597.1 L574.9,599.1 L575.4,601.1 L575.8,603.0 L576.2,604.9 L576.7,606.8 L577.1,608.6 L577.6,610.4 L578.0,612.2 L578.4,614.0 L578.9,615.7 L579.3,617.4 L579.7,619.1 L580.2,620.7 L580.6,622.3 L581.1,623.9 L581.5,625.5 L581.9,627.0 L582.4,628.5 L582.8,630.0 L583.2,631.4 L583.7,632.9 L584.1,634.3 L584.6,635.7 L585.0,637.0 L585.4,638.4 L585.9,639.7 L586.3,641.0 L586.7,642.3 L587.2,643.5 L587.6,644.8 L588.0,646.0 L588.5,647.2 L588.9,648.4 L589.4,649.6 L589.8,650.7 L590.2,651.8 L590.7,653.0 L591.1,654.0 L591.5,655.1 L592.0,656.2 L592.4,657.2 L592.9,658.3 L593.3,659.3 L593.7,660.3 L594.2,661.3 L594.6,662.2 L595.0,663.2 L595.5,664.1 L595.9,665.1 L596.4,666.0 L596.8,666.9 L597.2,667.8 L597.7,668.6 L598.1,669.5 L598.5,670.4 L599.0,671.2 L599.4,672.0 L599.9,672.8 L600.3,673.6 L600.7,674.4 L601.2,675.2 L601.6,676.0 L602.0,676.7 L602.5,677.5 L602.9,678.2 L603.3,679.0 L603.8,679.7 L604.2,680.4 L604.7,681.1 L605.1,681.8 L605.5,682.5 L606.0,683.1 L606.4,683.8 L606.8,684.4 L607.3,685.1 L607.7,685.7 L608.2,686.4 L608.6,687.0 L609.0,687.6 L609.5,688.2 L609.9,688.8 L610.3,689.4 L610.8,689.9 L611.2,690.5 L611.7,691.1 L612.1,691.6 L612.5,692.2 L613.0,692.7 L613.4,693.3 L613.8,693.8 L614.3,694.3 L614.7,694.8 L615.1,695.4 L615.6,695.9 L616.0,696.4 L616.5,696.9 L616.9,697.3 L617.3,697.8 L617.8,698.3 L618.2,698.8 L618.6,699.2 L619.1,699.7 L619.5,700.1 L620.0,700.6 L620.4,701.0 L620.8,701.5 L621.3,701.9 L621.7,702.3 L622.1,702.7 L622.6,703.1 L623.0,703.6 L623.5,704.0 L623.9,704.4 L624.3,704.8 L624.8,705.2 L625.2,705.5 L625.6,705.9 L626.1,706.3 L626.5,706.7 L627.0,707.1 L627.4,707.4 L627.8,707.8 L628.3,708.1 L628.7,708.5 L629.1,708.8 L629.6,709.2 L630.0,709.5 L630.4,709.9 L630.9,710.2 L631.3,710.5 L633.1,711.8 L634.8,713.1 L636.6,714.2 L638.3,715.4 L640.1,716.5 L641.8,717.5 L643.6,718.5 L645.3,719.5 L647.1,720.4 L648.8,721.3 L650.6,722.2 L652.3,723.0 L654.1,723.8" stroke="#5a64a8" stroke-width="2.2" stroke-dasharray="6 6" stroke-dashoffset="15"/>
<path d="M218.7,758.1 L220.4,758.1 L222.2,758.1 L223.9,758.0 L225.7,758.0 L227.4,757.9 L229.2,757.9 L230.9,757.8 L232.7,757.8 L234.4,757.8 L236.2,757.7 L237.9,757.7 L239.7,757.6 L241.4,757.6 L243.2,757.5 L244.9,757.5 L246.7,757.4 L248.4,757.4 L250.2,757.3 L251.9,757.3 L253.7,757.2 L255.4,757.2 L257.2,757.1 L258.9,757.0 L260.7,757.0 L262.4,756.9 L264.2,756.8 L265.9,756.8 L267.7,756.7 L269.4,756.7 L271.2,756.6 L272.9,756.5 L274.6,756.4 L276.4,756.4 L278.1,756.3 L279.9,756.2 L281.6,756.1 L283.4,756.1 L285.1,756.0 L286.9,755.9 L288.6,755.8 L290.4,755.7 L292.1,755.6 L293.9,755.5 L295.6,755.4 L297.4,755.3 L299.1,755.2 L300.9,755.1 L302.6,755.0 L304.4,754.9 L306.1,754.8 L307.9,754.7 L309.6,754.6 L311.4,754.5 L313.1,754.3 L314.9,754.2 L316.6,754.1 L318.4,753.9 L320.1,753.8 L321.9,753.7 L323.6,753.5 L325.4,753.4 L327.1,753.2 L328.8,753.1 L330.6,752.9 L332.3,752.7 L334.1,752.6 L335.8,752.4 L337.6,752.2 L339.3,752.0 L341.1,751.9 L342.8,751.7 L344.6,751.5 L346.3,751.2 L348.1,751.0 L349.8,750.8 L351.6,750.6 L353.3,750.3 L355.1,750.1 L356.8,749.9 L358.6,749.6 L360.3,749.3 L362.1,749.1 L363.8,748.8 L365.6,748.5 L367.3,748.2 L369.1,747.9 L370.8,747.5 L372.6,747.2 L374.3,746.8 L376.1,746.5 L377.8,746.1 L379.6,745.7 L381.3,745.3 L383.0,744.9 L384.8,744.5 L386.5,744.0 L388.3,743.6 L390.0,743.1 L391.8,742.6 L393.5,742.1 L395.3,741.5 L397.0,740.9 L398.8,740.4 L400.5,739.7 L402.3,739.1 L404.0,738.4 L405.8,737.7 L407.5,737.0 L409.3,736.3 M526.0,178.5 L526.4,178.3 L526.9,178.4 M654.1,723.8 L655.8,724.6 L657.5,725.3 L659.3,726.0 L661.0,726.7 L662.8,727.4 L664.5,728.0 L666.3,728.7 L668.0,729.3 L669.8,729.8 L671.5,730.4 L673.3,730.9 L675.0,731.5 L676.8,732.0 L678.5,732.5 L680.3,733.0 L682.0,733.4 L683.8,733.9 L685.5,734.3 L687.3,734.7 L689.0,735.1 L690.8,735.5 L692.5,735.9 L694.3,736.3 L696.0,736.7 L697.8,737.0 L699.5,737.4 L701.3,737.7 L703.0,738.0 L704.8,738.4 L706.5,738.7 L708.3,739.0 L710.0,739.3 L711.7,739.6 L713.5,739.8 L715.2,740.1 L717.0,740.4 L718.7,740.6 L720.5,740.9 L722.2,741.1 L724.0,741.4 L725.7,741.6 L727.5,741.8 L729.2,742.1 L731.0,742.3 L732.7,742.5 L734.5,742.7 L736.2,742.9 L738.0,743.1 L739.7,743.3 L741.5,743.5 L743.2,743.7 L745.0,743.9 L746.7,744.0 L748.5,744.2 L750.2,744.4 L752.0,744.5 L753.7,744.7 L755.5,744.9 L757.2,745.0 L759.0,745.2 L760.7,745.3 L762.5,745.5 L764.2,745.6 L765.9,745.8 L767.7,745.9 L769.4,746.0 L771.2,746.2 L772.9,746.3 L774.7,746.4 L776.4,746.5 L778.2,746.7 L779.9,746.8 L781.7,746.9 L783.4,747.0 L785.2,747.1 L786.9,747.2 L788.7,747.4 L790.4,747.5 L792.2,747.6 L793.9,747.7 L795.7,747.8 L797.4,747.9 L799.2,748.0 L800.9,748.1 L802.7,748.2 L804.4,748.3 L806.2,748.3 L807.9,748.4 L809.7,748.5 L811.4,748.6 L813.2,748.7 L814.9,748.8 L816.7,748.9 L818.4,748.9 L820.1,749.0 L821.9,749.1 L823.6,749.2 L825.4,749.3 L827.1,749.3 L828.9,749.4 L830.6,749.5 L832.4,749.6 L834.1,749.6 L835.9,749.7 L837.6,749.8 L839.4,749.8 L841.1,749.9 L842.9,750.0 L844.6,750.0 L846.4,750.1 L848.1,750.2 L849.9,750.2 L851.6,750.3 L853.4,750.3 L855.1,750.4 L856.9,750.4 L858.6,750.5 L860.4,750.6 L862.1,750.6 L863.9,750.7 L865.6,750.7 L867.4,750.8 L869.1,750.8 L870.9,750.9 L872.6,750.9 L874.3,751.0 L876.1,751.0 L877.8,751.1 L879.6,751.1 L881.3,751.2 L883.1,751.2 L884.8,751.3 L886.6,751.3 L888.3,751.4 L890.1,751.4 L891.8,751.5 L893.6,751.5 L895.3,751.5 L897.1,751.6 L898.8,751.6 L900.6,751.7 L902.3,751.7 L904.1,751.7 L905.8,751.8 L907.6,751.8 L909.3,751.9 L911.1,751.9 L912.8,751.9 L914.6,752.0 L916.3,752.0 L918.1,752.0 L919.8,752.1 L921.6,752.1 L923.3,752.2 L925.1,752.2 L926.8,752.2 L928.6,752.3 L930.3,752.3 L932.0,752.3 L933.8,752.4 L935.5,752.4 L937.3,752.4 L939.0,752.5 L940.8,752.5 L942.5,752.5 L944.3,752.5 L946.0,752.6 L947.8,752.6 L949.5,752.6 L951.3,752.7 L953.0,752.7 L954.8,752.7 L956.5,752.7 L958.3,752.8 L960.0,752.8 L961.8,752.8 L963.5,752.9 L965.3,752.9 L967.0,752.9 L968.8,752.9 L970.5,753.0 L972.3,753.0 L974.0,753.0 L975.8,753.0 L977.5,753.1 L979.3,753.1 L981.0,753.1 L982.8,753.1 L984.5,753.2 L986.2,753.2 L988.0,753.2 L989.7,753.2 L991.5,753.3 L993.2,753.3 L995.0,753.3 L996.7,753.3 L998.5,753.3 L1000.2,753.4 L1002.0,753.4 L1003.7,753.4 L1005.5,753.4 L1007.2,753.4 L1009.0,753.5 L1010.7,753.5 L1012.5,753.5 L1014.2,753.5 L1016.0,753.5 L1017.7,753.6 L1019.5,753.6 L1021.2,753.6 L1023.0,753.6 L1024.7,753.6 L1026.5,753.7 L1028.2,753.7 L1030.0,753.7 L1031.7,753.7 L1033.5,753.7 L1035.2,753.8 L1037.0,753.8 L1038.7,753.8 L1040.4,753.8 L1042.2,753.8 L1043.9,753.8 L1045.7,753.9 L1047.4,753.9 L1049.2,753.9 L1050.9,753.9 L1052.7,753.9 L1054.4,753.9 L1056.2,754.0 L1057.9,754.0 L1059.7,754.0 L1061.4,754.0 L1063.2,754.0 L1064.9,754.0 L1066.7,754.0 L1068.4,754.1 L1070.2,754.1 L1071.9,754.1 L1073.7,754.1 L1075.4,754.1 L1077.2,754.1 L1078.9,754.2 L1080.7,754.2 L1082.4,754.2 L1084.2,754.2 L1085.9,754.2 L1087.7,754.2 L1089.4,754.2 L1091.2,754.2 L1092.9,754.3" stroke="#5a64a8" stroke-width="2.4" stroke-dasharray="18 4" stroke-dashoffset="35"/>
<path d="M218.7,757.2 L220.4,757.1 L222.2,757.1 L223.9,757.0 L225.7,756.9 L227.4,756.9 L229.2,756.8 L230.9,756.8 L232.7,756.7 L234.4,756.6 L236.2,756.5 L237.9,756.5 L239.7,756.4 L241.4,756.3 L243.2,756.2 L244.9,756.2 L246.7,756.1 L248.4,756.0 L250.2,755.9 L251.9,755.8 L253.7,755.7 L255.4,755.7 L257.2,755.6 L258.9,755.5 L260.7,755.4 L262.4,755.3 L264.2,755.2 L265.9,755.1 L267.7,755.0 L269.4,754.8 L271.2,754.7 L272.9,754.6 L274.6,754.5 L276.4,754.4 L278.1,754.2 L279.9,754.1 L281.6,754.0 L283.4,753.8 L285.1,753.7 L286.9,753.6 L288.6,753.4 L290.4,753.3 L292.1,753.1 L293.9,752.9 L295.6,752.8 L297.4,752.6 L299.1,752.4 L300.9,752.3 L302.6,752.1 L304.4,751.9 L306.1,751.7 L307.9,751.5 L309.6,751.3 L311.4,751.1 L313.1,750.8 L314.9,750.6 L316.6,750.4 L318.4,750.1 L320.1,749.9 L321.9,749.6 L323.6,749.3 L325.4,749.1 L327.1,748.8 L328.8,748.5 L330.6,748.2 L332.3,747.9 L334.1,747.5 L335.8,747.2 L337.6,746.8 L339.3,746.5 L341.1,746.1 L342.8,745.7 L344.6,745.3 L346.3,744.9 L348.1,744.5 L349.8,744.0 L351.6,743.5 L353.3,743.1 L355.1,742.5 L356.8,742.0 L358.6,741.5 L360.3,740.9 L362.1,740.3 L363.8,739.7 L365.6,739.0 L367.3,738.4 L369.1,737.7 L370.8,736.9 L372.6,736.2 L374.3,735.4 L376.1,734.6 L377.8,733.7 L379.6,732.8 L381.3,731.8 L383.0,730.8 L384.8,729.8 L385.2,729.5 L385.7,729.2 L386.1,728.9 L386.5,728.7 L387.0,728.4 L387.4,728.1 L387.9,727.8 L388.3,727.5 L388.7,727.2 L389.2,726.9 L389.6,726.6 L390.0,726.3 L390.5,726.0 L390.9,725.7 L391.4,725.3 L391.8,725.0 L392.2,724.7 L392.7,724.3 L393.1,724.0 L393.5,723.7 L394.0,723.3 L394.4,723.0 L394.9,722.6 L395.3,722.2 L395.7,721.9 L396.2,721.5 L396.6,721.1 L397.0,720.8 L397.5,720.4 L397.9,720.0 L398.3,719.6 L398.8,719.2 L399.2,718.8 L399.7,718.4 L400.1,718.0 L400.5,717.5 L401.0,717.1 L401.4,716.7 L401.8,716.2 L402.3,715.8 L402.7,715.3 L403.2,714.9 L403.6,714.4 L404.0,713.9 L404.5,713.4 L404.9,713.0 L405.3,712.5 L405.8,712.0 L406.2,711.5 L406.7,711.0 L407.1,710.4 L407.5,709.9 L408.0,709.4 L408.4,708.8 L408.8,708.3 L409.3,707.7 L409.7,707.1 L410.1,706.6 L410.6,706.0 L411.0,705.4 L411.5,704.8 L411.9,704.2 L412.3,703.5 L412.8,702.9 L413.2,702.3 L413.6,701.6 L414.1,701.0 L414.5,700.3 L415.0,699.6 L415.4,698.9 L415.8,698.2 L416.3,697.5 L416.7,696.8 L417.1,696.0 L417.6,695.3 L418.0,694.5 L418.5,693.8 L418.9,693.0 L419.3,692.2 L419.8,691.4 L420.2,690.5 L420.6,689.7 L421.1,688.9 L421.5,688.0 L422.0,687.1 L422.4,686.2 L422.8,685.3 L423.3,684.4 L423.7,683.4 L424.1,682.5 L424.6,681.5 L425.0,680.5 L425.4,679.5 L425.9,678.5 L426.3,677.5 L426.8,676.4 L427.2,675.3 L427.6,674.3 L428.1,673.1 L428.5,672.0 L428.9,670.9 L429.4,669.7 L429.8,668.5 L430.3,667.3 L430.7,666.0 L431.1,664.8 L431.6,663.5 L432.0,662.2 L432.4,660.9 L432.9,659.5 L433.3,658.2 L433.8,656.8 L434.2,655.3 L434.6,653.9 L435.1,652.4 L435.5,650.9 L435.9,649.4 L436.4,647.8 L436.8,646.2 L437.2,644.6 L437.7,642.9 L438.1,641.3 L438.6,639.5 L439.0,637.8 L439.4,636.0 L439.9,634.2 L440.3,632.4 L440.7,630.5 L441.2,628.5 L441.6,626.6 L442.1,624.6 L442.5,622.6 L442.9,620.5 L443.4,618.4 L443.8,616.2 L444.2,614.0 L444.7,611.8 L445.1,609.5 L445.6,607.2 L446.0,604.8 L446.4,602.4 L446.9,599.9 L447.3,597.4 L447.7,594.8 L448.2,592.2 L448.6,589.5 L449.1,586.8 L449.5,584.0 L449.9,581.1 L450.4,578.2 L450.8,575.3 L451.2,572.3 L451.7,569.2 L452.1,566.1 L452.5,562.9 L453.0,559.6 L453.4,556.3 L453.9,552.9 L454.3,549.4 L454.7,545.9 L455.2,542.3 L455.6,538.7 L456.0,534.9 L456.5,531.1 L456.9,527.2 L457.4,523.3 L457.8,519.2 L458.2,515.1 L458.7,510.9 L459.1,506.7 L459.5,502.3 L460.0,497.9 L460.4,493.4 L460.9,488.8 L461.3,484.1 L461.7,479.4 L462.2,474.5 L462.6,469.6 L463.0,464.6 L463.5,459.5 L463.9,454.4 L464.4,449.1 L464.8,443.8 L465.2,438.4 L465.7,432.9 L466.1,427.3 L466.5,421.6 L467.0,415.9 L467.4,410.1 L467.8,404.2 L468.3,398.2 L468.7,392.2 L469.2,386.1 L469.6,380.0 L470.0,373.8 L470.5,367.5 L470.9,361.2 L471.3,354.8 L471.8,348.4 L472.2,341.9 L472.7,335.5 L473.1,329.0 L473.5,322.5 L474.0,315.9 L474.4,309.4 L474.8,302.9 L475.3,296.4 L475.7,289.9 L476.2,283.4 L476.6,277.0 L477.0,270.6 L477.5,264.3 L477.9,258.1 L478.3,251.9 L478.8,245.9 L479.2,239.9 L479.6,234.1 L480.1,228.4 L480.5,222.9 L481.0,217.5 L481.4,212.2 L481.8,207.2 L482.3,202.3 L482.7,197.7 L483.1,193.2 L483.6,189.0 L484.0,185.0 L484.5,181.3 L484.9,177.8 L485.3,174.6 L485.8,171.7 L486.2,169.1 L486.6,166.7 L487.1,164.7 L487.5,162.9 L488.0,161.5 L488.4,160.4 L488.8,159.6 L489.3,159.1 L489.7,158.9 L490.1,159.0 L490.6,159.4 L491.0,160.1 L491.5,161.1 L491.9,162.4 L492.3,163.9 L492.8,165.7 L493.2,167.8 L493.6,170.1 L494.1,172.7 L494.5,175.5 L494.9,178.5 L495.4,181.8 L495.8,185.3 L496.3,189.0 L496.7,192.9 L497.1,197.0 L497.6,201.3 L498.0,205.7 L498.4,210.3 L498.9,215.1 L499.3,219.9 L499.8,225.0 L500.2,230.1 L500.6,235.3 L501.1,240.7 L501.5,246.1 L501.9,251.6 L502.4,257.2 L502.8,262.8 L503.3,268.5 L503.7,274.3 L504.1,280.0 L504.6,285.8 L505.0,291.7 L505.4,297.5 L505.9,303.3 L506.3,309.2 L506.7,315.0 L507.2,320.9 L507.6,326.7 L508.1,332.5 L508.5,338.2 L508.9,344.0 L509.4,349.7 L509.8,355.3 L510.2,360.9 L510.7,366.5 L511.1,372.1 L511.6,377.5 L512.0,382.9 L512.4,388.3 L512.9,393.6 L513.3,398.9 L513.7,404.1 L514.2,409.2 L514.6,414.3 L515.1,419.3 L515.5,424.2 L515.9,429.0 L516.4,433.8 L516.8,438.6 L517.2,443.2 L517.7,447.8 L518.1,452.4 L518.6,456.8 L519.0,461.2 L519.4,465.5 L519.9,469.8 L520.3,474.0 L520.7,478.1 L521.2,482.1 L521.6,486.1 L522.0,490.0 L522.5,493.9 L522.9,497.7 L523.4,501.4 L523.8,505.1 L524.2,508.7 L524.7,512.2 L525.1,515.7 L525.5,519.1 L526.0,522.5 L526.4,525.8 L526.9,529.0 L527.3,532.2 L527.7,535.4 L528.2,538.4 L528.6,541.5 L529.0,544.4 L529.5,547.4 L529.9,550.2 L530.4,553.1 L530.8,555.8 L531.2,558.5 L531.7,561.2 L532.1,563.8 L532.5,566.4 L533.0,569.0 L533.4,571.4 L533.8,573.9 L534.3,576.3 L534.7,578.7 L535.2,581.0 L535.6,583.3 L536.0,585.5 L536.5,587.7 L536.9,589.9 L537.3,592.0 L537.8,594.1 L538.2,596.1 L538.7,598.1 L539.1,600.1 L539.5,602.1 L540.0,604.0 L540.4,605.9 L540.8,607.7 L541.3,609.5 L541.7,611.3 L542.2,613.1 L542.6,614.8 L543.0,616.5 L543.5,618.2 L543.9,619.8 L544.3,621.4 L544.8,623.0 L545.2,624.6 L545.7,626.1 L546.1,627.7 L546.5,629.1 L547.0,630.6 L547.4,632.0 L547.8,633.5 L548.3,634.8 L548.7,636.2 L549.1,637.6 L549.6,638.9 L550.0,640.2 L550.5,641.5 L550.9,642.8 L551.3,644.0 L551.8,645.2 L552.2,646.4 L552.6,647.6 L553.1,648.8 L553.5,649.9 L554.0,651.1 L554.4,652.2 L554.8,653.3 L555.3,654.4 L555.7,655.4 L556.1,656.5 L556.6,657.5 L557.0,658.5 L557.5,659.5 L557.9,660.5 L558.3,661.5 L558.8,662.5 L559.2,663.4 L559.6,664.3 L560.1,665.2 L560.5,666.1 L560.9,667.0 L561.4,667.9 L561.8,668.8 L562.3,669.6 L562.7,670.5 L563.1,671.3 L563.6,672.1 L564.0,672.9 L564.4,673.7 L564.9,674.5 L565.3,675.3 L565.8,676.0 L566.2,676.8 L566.6,677.5 L567.1,678.3 L567.5,679.0 L567.9,679.7 L568.4,680.4 L568.8,681.1 L569.3,681.8 L569.7,682.4 L570.1,683.1 L570.6,683.8 L571.0,684.4 L571.4,685.0 L571.9,685.7 L572.3,686.3 L572.8,686.9 L573.2,687.5 L573.6,688.1 L574.1,688.7 L574.5,689.3 L574.9,689.8 L575.4,690.4 L575.8,691.0 L576.2,691.5 L576.7,692.1 L577.1,692.6 L577.6,693.1 L578.0,693.7 L578.4,694.2 L578.9,694.7 L579.3,695.2 L579.7,695.7 L580.2,696.2 L580.6,696.7 L581.1,697.2 L581.5,697.6 L581.9,698.1 L582.4,698.6 L582.8,699.0 L583.2,699.5 L583.7,699.9 L584.1,700.4 L584.6,700.8 L585.0,701.2 L585.4,701.7 L585.9,702.1 L586.3,702.5 L586.7,702.9 L587.2,703.3 L587.6,703.7 L588.0,704.1 L588.5,704.5 L588.9,704.9 L589.4,705.3 L589.8,705.7 L590.2,706.1 L590.7,706.4 L591.1,706.8 L591.5,707.2 L592.0,707.5 L592.4,707.9 L592.9,708.2 L593.3,708.6 L593.7,708.9 L594.2,709.3 L594.6,709.6 L596.4,710.9 L598.1,712.2 L599.9,713.4 L601.6,714.5 L603.3,715.6 L605.1,716.7 L606.8,717.7 L608.6,718.7 L610.3,719.6 L612.1,720.5 L613.8,721.4 L615.6,722.2 L617.3,723.1 L619.1,723.8 L620.8,724.6 L622.6,725.3 L624.3,726.0 L626.1,726.7 L627.8,727.3 L629.6,728.0 L631.3,728.6 L633.1,729.2 L634.8,729.7 L636.6,730.3 L638.3,730.8 L640.1,731.4 L641.8,731.9 L643.6,732.3 L645.3,732.8 L647.1,733.3 L648.8,733.7 L650.6,734.1 L652.3,734.6 L654.1,735.0 L655.8,735.4 L657.5,735.7 L659.3,736.1 L661.0,736.5 L662.8,736.8 L664.5,737.2 L666.3,737.5 L668.0,737.8 L669.8,738.1 L671.5,738.4 L673.3,738.7 L675.0,739.0 L676.8,739.3 L678.5,739.6 L680.3,739.9 L682.0,740.1 L683.8,740.4 L685.5,740.6 L687.3,740.9 L689.0,741.1 L690.8,741.3 L692.5,741.6 L694.3,741.8 L696.0,742.0 L697.8,742.2 L699.5,742.4 L701.3,742.6 L703.0,742.8 L704.8,743.0 L706.5,743.2 L708.3,743.4 L710.0,743.6 L711.7,743.8 L713.5,743.9 L715.2,744.1 L717.0,744.3 L718.7,744.4 L720.5,744.6 L722.2,744.7 L724.0,744.9 L725.7,745.0 L727.5,745.2 L729.2,745.3 L731.0,745.5 L732.7,745.6 L734.5,745.7 L736.2,745.9 L738.0,746.0 L739.7,746.1 L741.5,746.3 L743.2,746.4 L745.0,746.5 L746.7,746.6 L748.5,746.7 L750.2,746.8 L752.0,747.0 L753.7,747.1 L755.5,747.2 L757.2,747.3 L759.0,747.4 L760.7,747.5 L762.5,747.6 L764.2,747.7 L765.9,747.8 L767.7,747.9 L769.4,748.0 L771.2,748.1 L772.9,748.1 L774.7,748.2 L776.4,748.3 L778.2,748.4 L779.9,748.5 L781.7,748.6 L783.4,748.7 L785.2,748.7 L786.9,748.8 L788.7,748.9 L790.4,749.0 L792.2,749.0 L793.9,749.1 L795.7,749.2 L797.4,749.3 L799.2,749.3 L800.9,749.4 L802.7,749.5 L804.4,749.5 L806.2,749.6 L807.9,749.7 L809.7,749.7 L811.4,749.8 L813.2,749.9 L814.9,749.9 L816.7,750.0 L818.4,750.0 L820.1,750.1 L821.9,750.2 L823.6,750.2 L825.4,750.3 L827.1,750.3 L828.9,750.4 L830.6,750.4 L832.4,750.5 L834.1,750.5 L835.9,750.6 L837.6,750.6 L839.4,750.7 L841.1,750.7 L842.9,750.8 L844.6,750.8 L846.4,750.9 L848.1,750.9 L849.9,751.0 L851.6,751.0 L853.4,751.1 L855.1,751.1 L856.9,751.2 L858.6,751.2 L860.4,751.2 L862.1,751.3 L863.9,751.3 L865.6,751.4 L867.4,751.4 L869.1,751.5 L870.9,751.5 L872.6,751.5 L874.3,751.6 L876.1,751.6 L877.8,751.6 L879.6,751.7 L881.3,751.7 L883.1,751.8 L884.8,751.8 L886.6,751.8 L888.3,751.9 L890.1,751.9 L891.8,751.9 L893.6,752.0 L895.3,752.0 L897.1,752.0 L898.8,752.1 L900.6,752.1 L902.3,752.1 L904.1,752.2 L905.8,752.2 L907.6,752.2 L909.3,752.3 L911.1,752.3 L912.8,752.3 L914.6,752.3 L916.3,752.4 L918.1,752.4 L919.8,752.4 L921.6,752.5 L923.3,752.5 L925.1,752.5 L926.8,752.5 L928.6,752.6 L930.3,752.6 L932.0,752.6 L933.8,752.6 L935.5,752.7 L937.3,752.7 L939.0,752.7 L940.8,752.8 L942.5,752.8 L944.3,752.8 L946.0,752.8 L947.8,752.9 L949.5,752.9 L951.3,752.9 L953.0,752.9 L954.8,752.9 L956.5,753.0 L958.3,753.0 L960.0,753.0 L961.8,753.0 L963.5,753.1 L965.3,753.1 L967.0,753.1 L968.8,753.1 L970.5,753.1 L972.3,753.2 L974.0,753.2 L975.8,753.2 L977.5,753.2 L979.3,753.2 L981.0,753.3 L982.8,753.3 L984.5,753.3 L986.2,753.3 L988.0,753.3 L989.7,753.4 L991.5,753.4 L993.2,753.4 L995.0,753.4 L996.7,753.4 L998.5,753.5 L1000.2,753.5 L1002.0,753.5 L1003.7,753.5 L1005.5,753.5 L1007.2,753.5 L1009.0,753.6 L1010.7,753.6 L1012.5,753.6 L1014.2,753.6 L1016.0,753.6 L1017.7,753.6 L1019.5,753.7 L1021.2,753.7 L1023.0,753.7 L1024.7,753.7 L1026.5,753.7 L1028.2,753.7 L1030.0,753.8 L1031.7,753.8 L1033.5,753.8 L1035.2,753.8 L1037.0,753.8 L1038.7,753.8 L1040.4,753.8 L1042.2,753.9 L1043.9,753.9 L1045.7,753.9 L1047.4,753.9 L1049.2,753.9 L1050.9,753.9 L1052.7,753.9 L1054.4,754.0 L1056.2,754.0 L1057.9,754.0 L1059.7,754.0 L1061.4,754.0 L1063.2,754.0 L1064.9,754.0 L1066.7,754.1 L1068.4,754.1 L1070.2,754.1 L1071.9,754.1 L1073.7,754.1 L1075.4,754.1 L1077.2,754.1 L1078.9,754.1 L1080.7,754.2 L1082.4,754.2 L1084.2,754.2 L1085.9,754.2 L1087.7,754.2 L1089.4,754.2 L1091.2,754.2 L1092.9,754.2" stroke="#8090b8" stroke-width="3.0"/>
<path d="M372.6,736.2 L374.3,735.4 L376.1,734.6 L377.8,733.7 L379.6,732.8 L381.3,731.8 L383.0,730.8 L384.8,729.8 L385.2,729.5 L385.7,729.2 L386.1,728.9 L386.5,728.7 L387.0,728.4 L387.4,728.1 L387.9,727.8 L388.3,727.5 L388.7,727.2 L389.2,726.9 L389.6,726.6 L390.0,726.3 L390.5,726.0 L390.9,725.7 L391.4,725.3 L391.8,725.0 L392.2,724.7 L392.7,724.3 L393.1,724.0 L393.5,723.7 L394.0,723.3 L394.4,723.0 L394.9,722.6 L395.3,722.2 L395.7,721.9 L396.2,721.5 L396.6,721.1 L397.0,720.8 L397.5,720.4 L397.9,720.0 L398.3,719.6 L398.8,719.2 L399.2,718.8 L399.7,718.4 L400.1,718.0 L400.5,717.5 L401.0,717.1 L401.4,716.7 L401.8,716.2 L402.3,715.8 L402.7,715.3 L403.2,714.9 L403.6,714.4 L404.0,713.9 L404.5,713.4 L404.9,713.0 L405.3,712.5 L405.8,712.0 L406.2,711.5 L406.7,711.0 L407.1,710.4 L407.5,709.9 L408.0,709.4 L408.4,708.8 L408.8,708.3 L409.3,707.7 L409.7,707.1 L410.1,706.6 L410.6,706.0 L411.0,705.4 L411.5,704.8 L411.9,704.2 L412.3,703.5 L412.8,702.9 L413.2,702.3 L413.6,701.6 L414.1,701.0 L414.5,700.3 L415.0,699.6 L415.4,698.9 L415.8,698.2 L416.3,697.5 L416.7,696.8 L417.1,696.0 L417.6,695.3 L418.0,694.5 L418.5,693.8 L418.9,693.0 L419.3,692.2 L419.8,691.4 L420.2,690.5 L420.6,689.7 L421.1,688.9 L421.5,688.0 L422.0,687.1 L422.4,686.2 L422.8,685.3 L423.3,684.4 L423.7,683.4 L424.1,682.5 L424.6,681.5 L425.0,680.5 L425.4,679.5 L425.9,678.5 L426.3,677.5 L426.8,676.4 L427.2,675.3 L427.6,674.3 L428.1,673.1 L428.5,672.0 L428.9,670.9 L429.4,669.7 L429.8,668.5 L430.3,667.3 L430.7,666.0 L431.1,664.8 L431.6,663.5 L432.0,662.2 L432.4,660.9 L432.9,659.5 L433.3,658.2 L433.8,656.8 L434.2,655.3 L434.6,653.9 L435.1,652.4 L435.5,650.9 L435.9,649.4 L436.4,647.8 L436.8,646.2 L437.2,644.6 L437.7,642.9 L438.1,641.3 L438.6,639.5 L439.0,637.8 L439.4,636.0 L439.9,634.2 L440.3,632.4 L440.7,630.5 L441.2,628.5 L441.6,626.6 L442.1,624.6 L442.5,622.6 L442.9,620.5 L443.4,618.4 L443.8,616.2 L444.2,614.0 L444.7,611.8 L445.1,609.5 L445.6,607.2 L446.0,604.8 L446.4,602.4 L446.9,599.9 L447.3,597.4 L447.7,594.8 L448.2,592.2 L448.6,589.5 L449.1,586.8 L449.5,584.0 L449.9,581.1 L450.4,578.2 L450.8,575.3 L451.2,572.3 L451.7,569.2 L452.1,566.1 L452.5,562.9 L453.0,559.6 L453.4,556.3 L453.9,552.9 L454.3,549.4 L454.7,545.9 L455.2,542.3 L455.6,538.7 L456.0,534.9 L456.5,531.1 L456.9,527.2 L457.4,523.3 L457.8,519.2 L458.2,515.1 L458.7,510.9 L459.1,506.7 L459.5,502.3 L460.0,497.9 L460.4,493.4 L460.9,488.8 L461.3,484.1 L461.7,479.4 L462.2,474.5 L462.6,469.6 L463.0,464.6 L463.5,459.5 L463.9,454.4 L464.4,449.1 L464.8,443.8 L465.2,438.4 L465.7,432.9 L466.1,427.3 L466.5,421.6 L467.0,415.9 L467.4,410.1 L467.8,404.2 L468.3,398.2 L468.7,392.2 L469.2,386.1 L469.6,380.0 L470.0,373.8 L470.5,367.5 L470.9,361.2 L471.3,354.8 L471.8,348.4 L472.2,341.9 L472.7,335.5 L473.1,329.0 L473.5,322.5 L474.0,315.9 L474.4,309.4 L474.8,302.9 L475.3,296.4 L475.7,289.9 L476.2,283.4 L476.6,277.0 L477.0,270.6 L477.5,264.3 L477.9,258.1 L478.3,251.9 L478.8,245.9 L479.2,239.9 L479.6,234.1 L480.1,228.4 L480.5,222.9 L481.0,217.5 L481.4,212.2 L481.8,207.2 L482.3,202.3 L482.7,197.7 L483.1,193.2 L483.6,189.0 L484.0,185.0 L484.5,181.3 L484.9,177.8 L485.3,174.6 L485.8,171.7 L486.2,169.1 L486.6,166.7 L487.1,164.7 L487.5,162.9 L488.0,161.5 L488.4,160.4 L488.8,159.6 L489.3,159.1 M490.1,159.0 L490.6,159.4 L491.0,160.1 L491.5,161.1 L491.9,162.4 L492.3,163.9 L492.8,165.7 L493.2,167.8 L493.6,170.1 L494.1,172.7 L494.5,175.5 L494.9,178.5 L495.4,181.8 L495.8,185.3 L496.3,189.0 L496.7,192.9 L497.1,197.0 L497.6,201.3 L498.0,205.7 L498.4,210.3 L498.9,215.1 L499.3,219.9 L499.8,225.0 L500.2,230.1 L500.6,235.3 L501.1,240.7 L501.5,246.1 L501.9,251.6 L502.4,257.2 L502.8,262.8 L503.3,268.5 L503.7,274.3 L504.1,280.0 L504.6,285.8 L505.0,291.7 L505.4,297.5 L505.9,303.3 L506.3,309.2 L506.7,315.0 L507.2,320.9 L507.6,326.7 L508.1,332.5 L508.5,338.2 L508.9,344.0 L509.4,349.7 L509.8,355.3 L510.2,360.9 L510.7,366.5 L511.1,372.1 L511.6,377.5 L512.0,382.9 L512.4,388.3 L512.9,393.6 L513.3,398.9 L513.7,404.1 L514.2,409.2 L514.6,414.3 L515.1,419.3 L515.5,424.2 L515.9,429.0 L516.4,433.8 L516.8,438.6 L517.2,443.2 L517.7,447.8 L518.1,452.4 L518.6,456.8 L519.0,461.2 L519.4,465.5 L519.9,469.8 L520.3,474.0 L520.7,478.1 L521.2,482.1 L521.6,486.1 L522.0,490.0 L522.5,493.9 L522.9,497.7 L523.4,501.4 L523.8,505.1 L524.2,508.7 L524.7,512.2 L525.1,515.7 L525.5,519.1 L526.0,522.5 L526.4,525.8 L526.9,529.0 L527.3,532.2 L527.7,535.4 L528.2,538.4 L528.6,541.5 L529.0,544.4 L529.5,547.4 L529.9,550.2 L530.4,553.1 L530.8,555.8 L531.2,558.5 L531.7,561.2 L532.1,563.8 L532.5,566.4 L533.0,569.0 L533.4,571.4 L533.8,573.9 L534.3,576.3 L534.7,578.7 L535.2,581.0 L535.6,583.3 L536.0,585.5 L536.5,587.7 L536.9,589.9 L537.3,592.0 L537.8,594.1 L538.2,596.1 L538.7,598.1 L539.1,600.1 L539.5,602.1 L540.0,604.0 L540.4,605.9 L540.8,607.7 L541.3,609.5 L541.7,611.3 L542.2,613.1 L542.6,614.8 L543.0,616.5 L543.5,618.2 L543.9,619.8 L544.3,621.4 L544.8,623.0 L545.2,624.6 L545.7,626.1 L546.1,627.7 L546.5,629.1 L547.0,630.6 L547.4,632.0 L547.8,633.5 L548.3,634.8 L548.7,636.2 L549.1,637.6 L549.6,638.9 L550.0,640.2 L550.5,641.5 L550.9,642.8 L551.3,644.0 L551.8,645.2 L552.2,646.4 L552.6,647.6 L553.1,648.8 L553.5,649.9 L554.0,651.1 L554.4,652.2 L554.8,653.3 L555.3,654.4 L555.7,655.4 L556.1,656.5 L556.6,657.5 L557.0,658.5 L557.5,659.5 L557.9,660.5 L558.3,661.5 L558.8,662.5 L559.2,663.4 L559.6,664.3 L560.1,665.2 L560.5,666.1 L560.9,667.0 L561.4,667.9 L561.8,668.8 L562.3,669.6 L562.7,670.5 L563.1,671.3 L563.6,672.1 L564.0,672.9 L564.4,673.7 L564.9,674.5 L565.3,675.3 L565.8,676.0 L566.2,676.8 L566.6,677.5 L567.1,678.3 L567.5,679.0 L567.9,679.7 L568.4,680.4 L568.8,681.1 L569.3,681.8 L569.7,682.4 L570.1,683.1 L570.6,683.8 L571.0,684.4 L571.4,685.0 L571.9,685.7 L572.3,686.3 L572.8,686.9 L573.2,687.5 L573.6,688.1 L574.1,688.7 L574.5,689.3 L574.9,689.8 L575.4,690.4 L575.8,691.0 L576.2,691.5 L576.7,692.1 L577.1,692.6 L577.6,693.1 L578.0,693.7 L578.4,694.2 L578.9,694.7 L579.3,695.2 L579.7,695.7 L580.2,696.2 L580.6,696.7 L581.1,697.2 L581.5,697.6 L581.9,698.1 L582.4,698.6 L582.8,699.0 L583.2,699.5 L583.7,699.9 L584.1,700.4 L584.6,700.8 L585.0,701.2 L585.4,701.7 L585.9,702.1 L586.3,702.5 L586.7,702.9 L587.2,703.3 L587.6,703.7 L588.0,704.1 L588.5,704.5 L588.9,704.9 L589.4,705.3 L589.8,705.7 L590.2,706.1 L590.7,706.4 L591.1,706.8 L591.5,707.2 L592.0,707.5 L592.4,707.9 L592.9,708.2 L593.3,708.6 L593.7,708.9 L594.2,709.3 L594.6,709.6 L596.4,710.9 L598.1,712.2 L599.9,713.4 L601.6,714.5 L603.3,715.6 L605.1,716.7 L606.8,717.7 L608.6,718.7 L610.3,719.6 L612.1,720.5 L613.8,721.4 L615.6,722.2 L617.3,723.1" stroke="#3c60cc" stroke-width="2.2" stroke-dasharray="6 6" stroke-dashoffset="18"/>
<path d="M218.7,757.2 L220.4,757.1 L222.2,757.1 L223.9,757.0 L225.7,756.9 L227.4,756.9 L229.2,756.8 L230.9,756.8 L232.7,756.7 L234.4,756.6 L236.2,756.5 L237.9,756.5 L239.7,756.4 L241.4,756.3 L243.2,756.2 L244.9,756.2 L246.7,756.1 L248.4,756.0 L250.2,755.9 L251.9,755.8 L253.7,755.7 L255.4,755.7 L257.2,755.6 L258.9,755.5 L260.7,755.4 L262.4,755.3 L264.2,755.2 L265.9,755.1 L267.7,755.0 L269.4,754.8 L271.2,754.7 L272.9,754.6 L274.6,754.5 L276.4,754.4 L278.1,754.2 L279.9,754.1 L281.6,754.0 L283.4,753.8 L285.1,753.7 L286.9,753.6 L288.6,753.4 L290.4,753.3 L292.1,753.1 L293.9,752.9 L295.6,752.8 L297.4,752.6 L299.1,752.4 L300.9,752.3 L302.6,752.1 L304.4,751.9 L306.1,751.7 L307.9,751.5 L309.6,751.3 L311.4,751.1 L313.1,750.8 L314.9,750.6 L316.6,750.4 L318.4,750.1 L320.1,749.9 L321.9,749.6 L323.6,749.3 L325.4,749.1 L327.1,748.8 L328.8,748.5 L330.6,748.2 L332.3,747.9 L334.1,747.5 L335.8,747.2 L337.6,746.8 L339.3,746.5 L341.1,746.1 L342.8,745.7 L344.6,745.3 L346.3,744.9 L348.1,744.5 L349.8,744.0 L351.6,743.5 L353.3,743.1 L355.1,742.5 L356.8,742.0 L358.6,741.5 L360.3,740.9 L362.1,740.3 L363.8,739.7 L365.6,739.0 L367.3,738.4 L369.1,737.7 L370.8,736.9 L372.6,736.2 M489.3,159.1 L489.7,158.9 L490.1,159.0 M617.3,723.1 L619.1,723.8 L620.8,724.6 L622.6,725.3 L624.3,726.0 L626.1,726.7 L627.8,727.3 L629.6,728.0 L631.3,728.6 L633.1,729.2 L634.8,729.7 L636.6,730.3 L638.3,730.8 L640.1,731.4 L641.8,731.9 L643.6,732.3 L645.3,732.8 L647.1,733.3 L648.8,733.7 L650.6,734.1 L652.3,734.6 L654.1,735.0 L655.8,735.4 L657.5,735.7 L659.3,736.1 L661.0,736.5 L662.8,736.8 L664.5,737.2 L666.3,737.5 L668.0,737.8 L669.8,738.1 L671.5,738.4 L673.3,738.7 L675.0,739.0 L676.8,739.3 L678.5,739.6 L680.3,739.9 L682.0,740.1 L683.8,740.4 L685.5,740.6 L687.3,740.9 L689.0,741.1 L690.8,741.3 L692.5,741.6 L694.3,741.8 L696.0,742.0 L697.8,742.2 L699.5,742.4 L701.3,742.6 L703.0,742.8 L704.8,743.0 L706.5,743.2 L708.3,743.4 L710.0,743.6 L711.7,743.8 L713.5,743.9 L715.2,744.1 L717.0,744.3 L718.7,744.4 L720.5,744.6 L722.2,744.7 L724.0,744.9 L725.7,745.0 L727.5,745.2 L729.2,745.3 L731.0,745.5 L732.7,745.6 L734.5,745.7 L736.2,745.9 L738.0,746.0 L739.7,746.1 L741.5,746.3 L743.2,746.4 L745.0,746.5 L746.7,746.6 L748.5,746.7 L750.2,746.8 L752.0,747.0 L753.7,747.1 L755.5,747.2 L757.2,747.3 L759.0,747.4 L760.7,747.5 L762.5,747.6 L764.2,747.7 L765.9,747.8 L767.7,747.9 L769.4,748.0 L771.2,748.1 L772.9,748.1 L774.7,748.2 L776.4,748.3 L778.2,748.4 L779.9,748.5 L781.7,748.6 L783.4,748.7 L785.2,748.7 L786.9,748.8 L788.7,748.9 L790.4,749.0 L792.2,749.0 L793.9,749.1 L795.7,749.2 L797.4,749.3 L799.2,749.3 L800.9,749.4 L802.7,749.5 L804.4,749.5 L806.2,749.6 L807.9,749.7 L809.7,749.7 L811.4,749.8 L813.2,749.9 L814.9,749.9 L816.7,750.0 L818.4,750.0 L820.1,750.1 L821.9,750.2 L823.6,750.2 L825.4,750.3 L827.1,750.3 L828.9,750.4 L830.6,750.4 L832.4,750.5 L834.1,750.5 L835.9,750.6 L837.6,750.6 L839.4,750.7 L841.1,750.7 L842.9,750.8 L844.6,750.8 L846.4,750.9 L848.1,750.9 L849.9,751.0 L851.6,751.0 L853.4,751.1 L855.1,751.1 L856.9,751.2 L858.6,751.2 L860.4,751.2 L862.1,751.3 L863.9,751.3 L865.6,751.4 L867.4,751.4 L869.1,751.5 L870.9,751.5 L872.6,751.5 L874.3,751.6 L876.1,751.6 L877.8,751.6 L879.6,751.7 L881.3,751.7 L883.1,751.8 L884.8,751.8 L886.6,751.8 L888.3,751.9 L890.1,751.9 L891.8,751.9 L893.6,752.0 L895.3,752.0 L897.1,752.0 L898.8,752.1 L900.6,752.1 L902.3,752.1 L904.1,752.2 L905.8,752.2 L907.6,752.2 L909.3,752.3 L911.1,752.3 L912.8,752.3 L914.6,752.3 L916.3,752.4 L918.1,752.4 L919.8,752.4 L921.6,752.5 L923.3,752.5 L925.1,752.5 L926.8,752.5 L928.6,752.6 L930.3,752.6 L932.0,752.6 L933.8,752.6 L935.5,752.7 L937.3,752.7 L939.0,752.7 L940.8,752.8 L942.5,752.8 L944.3,752.8 L946.0,752.8 L947.8,752.9 L949.5,752.9 L951.3,752.9 L953.0,752.9 L954.8,752.9 L956.5,753.0 L958.3,753.0 L960.0,753.0 L961.8,753.0 L963.5,753.1 L965.3,753.1 L967.0,753.1 L968.8,753.1 L970.5,753.1 L972.3,753.2 L974.0,753.2 L975.8,753.2 L977.5,753.2 L979.3,753.2 L981.0,753.3 L982.8,753.3 L984.5,753.3 L986.2,753.3 L988.0,753.3 L989.7,753.4 L991.5,753.4 L993.2,753.4 L995.0,753.4 L996.7,753.4 L998.5,753.5 L1000.2,753.5 L1002.0,753.5 L1003.7,753.5 L1005.5,753.5 L1007.2,753.5 L1009.0,753.6 L1010.7,753.6 L1012.5,753.6 L1014.2,753.6 L1016.0,753.6 L1017.7,753.6 L1019.5,753.7 L1021.2,753.7 L1023.0,753.7 L1024.7,753.7 L1026.5,753.7 L1028.2,753.7 L1030.0,753.8 L1031.7,753.8 L1033.5,753.8 L1035.2,753.8 L1037.0,753.8 L1038.7,753.8 L1040.4,753.8 L1042.2,753.9 L1043.9,753.9 L1045.7,753.9 L1047.4,753.9 L1049.2,753.9 L1050.9,753.9 L1052.7,753.9 L1054.4,754.0 L1056.2,754.0 L1057.9,754.0 L1059.7,754.0 L1061.4,754.0 L1063.2,754.0 L1064.9,754.0 L1066.7,754.1 L1068.4,754.1 L1070.2,754.1 L1071.9,754.1 L1073.7,754.1 L1075.4,754.1 L1077.2,754.1 L1078.9,754.1 L1080.7,754.2 L1082.4,754.2 L1084.2,754.2 L1085.9,754.2 L1087.7,754.2 L1089.4,754.2 L1091.2,754.2 L1092.9,754.2" stroke="#3c60cc" stroke-width="2.4" stroke-dasharray="18 4" stroke-dashoffset="42"/>
<path d="M218.7,756.0 L220.4,755.9 L222.2,755.8 L223.9,755.7 L225.7,755.6 L227.4,755.5 L229.2,755.4 L230.9,755.3 L232.7,755.2 L234.4,755.1 L236.2,755.0 L237.9,754.9 L239.7,754.8 L241.4,754.7 L243.2,754.5 L244.9,754.4 L246.7,754.3 L248.4,754.2 L250.2,754.0 L251.9,753.9 L253.7,753.8 L255.4,753.6 L257.2,753.5 L258.9,753.3 L260.7,753.2 L262.4,753.0 L264.2,752.8 L265.9,752.7 L267.7,752.5 L269.4,752.3 L271.2,752.1 L272.9,751.9 L274.6,751.7 L276.4,751.5 L278.1,751.3 L279.9,751.1 L281.6,750.9 L283.4,750.7 L285.1,750.4 L286.9,750.2 L288.6,749.9 L290.4,749.7 L292.1,749.4 L293.9,749.1 L295.6,748.9 L297.4,748.6 L299.1,748.3 L300.9,747.9 L302.6,747.6 L304.4,747.3 L306.1,746.9 L307.9,746.6 L309.6,746.2 L311.4,745.8 L313.1,745.4 L314.9,745.0 L316.6,744.5 L318.4,744.1 L320.1,743.6 L321.9,743.1 L323.6,742.6 L325.4,742.1 L327.1,741.5 L328.8,741.0 L330.6,740.4 L332.3,739.8 L334.1,739.1 L335.8,738.4 L337.6,737.7 L339.3,737.0 L341.1,736.2 L342.8,735.4 L344.6,734.6 L346.3,733.7 L348.1,732.8 L349.8,731.9 L351.6,730.9 L353.3,729.8 L353.8,729.5 L354.2,729.3 L354.6,729.0 L355.1,728.7 L355.5,728.4 L355.9,728.1 L356.4,727.8 L356.8,727.5 L357.3,727.2 L357.7,726.9 L358.1,726.6 L358.6,726.3 L359.0,726.0 L359.4,725.7 L359.9,725.4 L360.3,725.0 L360.8,724.7 L361.2,724.4 L361.6,724.0 L362.1,723.7 L362.5,723.3 L362.9,723.0 L363.4,722.6 L363.8,722.3 L364.3,721.9 L364.7,721.5 L365.1,721.2 L365.6,720.8 L366.0,720.4 L366.4,720.0 L366.9,719.6 L367.3,719.2 L367.8,718.8 L368.2,718.4 L368.6,718.0 L369.1,717.5 L369.5,717.1 L369.9,716.7 L370.4,716.2 L370.8,715.8 L371.2,715.3 L371.7,714.9 L372.1,714.4 L372.6,713.9 L373.0,713.4 L373.4,712.9 L373.9,712.4 L374.3,711.9 L374.7,711.4 L375.2,710.9 L375.6,710.4 L376.1,709.9 L376.5,709.3 L376.9,708.8 L377.4,708.2 L377.8,707.7 L378.2,707.1 L378.7,706.5 L379.1,705.9 L379.6,705.3 L380.0,704.7 L380.4,704.1 L380.9,703.5 L381.3,702.8 L381.7,702.2 L382.2,701.5 L382.6,700.9 L383.0,700.2 L383.5,699.5 L383.9,698.8 L384.4,698.1 L384.8,697.4 L385.2,696.7 L385.7,695.9 L386.1,695.2 L386.5,694.4 L387.0,693.6 L387.4,692.8 L387.9,692.0 L388.3,691.2 L388.7,690.4 L389.2,689.5 L389.6,688.7 L390.0,687.8 L390.5,686.9 L390.9,686.0 L391.4,685.1 L391.8,684.2 L392.2,683.2 L392.7,682.3 L393.1,681.3 L393.5,680.3 L394.0,679.3 L394.4,678.3 L394.9,677.2 L395.3,676.2 L395.7,675.1 L396.2,674.0 L396.6,672.9 L397.0,671.7 L397.5,670.6 L397.9,669.4 L398.3,668.2 L398.8,666.9 L399.2,665.7 L399.7,664.4 L400.1,663.1 L400.5,661.8 L401.0,660.5 L401.4,659.1 L401.8,657.7 L402.3,656.3 L402.7,654.9 L403.2,653.4 L403.6,651.9 L404.0,650.4 L404.5,648.9 L404.9,647.3 L405.3,645.7 L405.8,644.0 L406.2,642.4 L406.7,640.7 L407.1,638.9 L407.5,637.2 L408.0,635.4 L408.4,633.5 L408.8,631.7 L409.3,629.8 L409.7,627.8 L410.1,625.8 L410.6,623.8 L411.0,621.8 L411.5,619.6 L411.9,617.5 L412.3,615.3 L412.8,613.1 L413.2,610.8 L413.6,608.5 L414.1,606.1 L414.5,603.7 L415.0,601.3 L415.4,598.8 L415.8,596.2 L416.3,593.6 L416.7,590.9 L417.1,588.2 L417.6,585.5 L418.0,582.6 L418.5,579.7 L418.9,576.8 L419.3,573.8 L419.8,570.7 L420.2,567.6 L420.6,564.4 L421.1,561.2 L421.5,557.9 L422.0,554.5 L422.4,551.0 L422.8,547.5 L423.3,543.9 L423.7,540.3 L424.1,536.5 L424.6,532.7 L425.0,528.9 L425.4,524.9 L425.9,520.9 L426.3,516.7 L426.8,512.6 L427.2,508.3 L427.6,503.9 L428.1,499.5 L428.5,495.0 L428.9,490.4 L429.4,485.7 L429.8,480.9 L430.3,476.0 L430.7,471.1 L431.1,466.0 L431.6,460.9 L432.0,455.7 L432.4,450.4 L432.9,445.0 L433.3,439.6 L433.8,434.0 L434.2,428.4 L434.6,422.6 L435.1,416.8 L435.5,410.9 L435.9,404.9 L436.4,398.9 L436.8,392.8 L437.2,386.6 L437.7,380.3 L438.1,374.0 L438.6,367.6 L439.0,361.1 L439.4,354.6 L439.9,348.0 L440.3,341.4 L440.7,334.7 L441.2,328.0 L441.6,321.3 L442.1,314.6 L442.5,307.8 L442.9,301.1 L443.4,294.3 L443.8,287.6 L444.2,280.8 L444.7,274.1 L445.1,267.5 L445.6,260.9 L446.0,254.3 L446.4,247.9 L446.9,241.5 L447.3,235.2 L447.7,229.0 L448.2,222.9 L448.6,217.0 L449.1,211.2 L449.5,205.6 L449.9,200.1 L450.4,194.9 L450.8,189.8 L451.2,184.9 L451.7,180.3 L452.1,175.9 L452.5,171.8 L453.0,167.9 L453.4,164.2 L453.9,160.9 L454.3,157.8 L454.7,155.1 L455.2,152.6 L455.6,150.5 L456.0,148.7 L456.5,147.2 L456.9,146.0 L457.4,145.1 L457.8,144.6 L458.2,144.4 L458.7,144.6 L459.1,145.0 L459.5,145.7 L460.0,146.8 L460.4,148.1 L460.9,149.7 L461.3,151.6 L461.7,153.7 L462.2,156.1 L462.6,158.8 L463.0,161.8 L463.5,165.0 L463.9,168.4 L464.4,172.0 L464.8,175.9 L465.2,179.9 L465.7,184.2 L466.1,188.6 L466.5,193.3 L467.0,198.0 L467.4,203.0 L467.8,208.1 L468.3,213.3 L468.7,218.6 L469.2,224.1 L469.6,229.6 L470.0,235.2 L470.5,241.0 L470.9,246.7 L471.3,252.6 L471.8,258.5 L472.2,264.4 L472.7,270.4 L473.1,276.4 L473.5,282.5 L474.0,288.5 L474.4,294.5 L474.8,300.6 L475.3,306.6 L475.7,312.6 L476.2,318.6 L476.6,324.6 L477.0,330.6 L477.5,336.5 L477.9,342.4 L478.3,348.2 L478.8,354.0 L479.2,359.7 L479.6,365.4 L480.1,371.0 L480.5,376.6 L481.0,382.1 L481.4,387.6 L481.8,393.0 L482.3,398.3 L482.7,403.6 L483.1,408.8 L483.6,413.9 L484.0,419.0 L484.5,423.9 L484.9,428.9 L485.3,433.7 L485.8,438.5 L486.2,443.2 L486.6,447.8 L487.1,452.4 L487.5,456.9 L488.0,461.3 L488.4,465.6 L488.8,469.9 L489.3,474.1 L489.7,478.3 L490.1,482.3 L490.6,486.3 L491.0,490.3 L491.5,494.2 L491.9,498.0 L492.3,501.7 L492.8,505.4 L493.2,509.0 L493.6,512.5 L494.1,516.0 L494.5,519.4 L494.9,522.8 L495.4,526.1 L495.8,529.4 L496.3,532.6 L496.7,535.7 L497.1,538.8 L497.6,541.8 L498.0,544.8 L498.4,547.7 L498.9,550.5 L499.3,553.4 L499.8,556.1 L500.2,558.8 L500.6,561.5 L501.1,564.1 L501.5,566.7 L501.9,569.2 L502.4,571.7 L502.8,574.2 L503.3,576.6 L503.7,578.9 L504.1,581.2 L504.6,583.5 L505.0,585.7 L505.4,587.9 L505.9,590.1 L506.3,592.2 L506.7,594.3 L507.2,596.3 L507.6,598.3 L508.1,600.3 L508.5,602.3 L508.9,604.2 L509.4,606.0 L509.8,607.9 L510.2,609.7 L510.7,611.5 L511.1,613.2 L511.6,615.0 L512.0,616.6 L512.4,618.3 L512.9,619.9 L513.3,621.6 L513.7,623.1 L514.2,624.7 L514.6,626.2 L515.1,627.7 L515.5,629.2 L515.9,630.7 L516.4,632.1 L516.8,633.5 L517.2,634.9 L517.7,636.3 L518.1,637.6 L518.6,638.9 L519.0,640.2 L519.4,641.5 L519.9,642.8 L520.3,644.0 L520.7,645.2 L521.2,646.4 L521.6,647.6 L522.0,648.8 L522.5,649.9 L522.9,651.0 L523.4,652.2 L523.8,653.2 L524.2,654.3 L524.7,655.4 L525.1,656.4 L525.5,657.5 L526.0,658.5 L526.4,659.5 L526.9,660.4 L527.3,661.4 L527.7,662.4 L528.2,663.3 L528.6,664.2 L529.0,665.2 L529.5,666.1 L529.9,666.9 L530.4,667.8 L530.8,668.7 L531.2,669.5 L531.7,670.4 L532.1,671.2 L532.5,672.0 L533.0,672.8 L533.4,673.6 L533.8,674.4 L534.3,675.1 L534.7,675.9 L535.2,676.6 L535.6,677.4 L536.0,678.1 L536.5,678.8 L536.9,679.5 L537.3,680.2 L537.8,680.9 L538.2,681.6 L538.7,682.3 L539.1,682.9 L539.5,683.6 L540.0,684.2 L540.4,684.9 L540.8,685.5 L541.3,686.1 L541.7,686.7 L542.2,687.3 L542.6,687.9 L543.0,688.5 L543.5,689.1 L543.9,689.6 L544.3,690.2 L544.8,690.8 L545.2,691.3 L545.7,691.9 L546.1,692.4 L546.5,692.9 L547.0,693.4 L547.4,694.0 L547.8,694.5 L548.3,695.0 L548.7,695.5 L549.1,696.0 L549.6,696.5 L550.0,696.9 L550.5,697.4 L550.9,697.9 L551.3,698.3 L551.8,698.8 L552.2,699.2 L552.6,699.7 L553.1,700.1 L553.5,700.6 L554.0,701.0 L554.4,701.4 L554.8,701.8 L555.3,702.3 L555.7,702.7 L556.1,703.1 L556.6,703.5 L557.0,703.9 L557.5,704.3 L557.9,704.7 L558.3,705.0 L558.8,705.4 L559.2,705.8 L559.6,706.2 L560.1,706.5 L560.5,706.9 L560.9,707.3 L561.4,707.6 L561.8,708.0 L562.3,708.3 L562.7,708.6 L563.1,709.0 L564.9,710.3 L566.6,711.6 L568.4,712.8 L570.1,713.9 L571.9,715.1 L573.6,716.1 L575.4,717.2 L577.1,718.1 L578.9,719.1 L580.6,720.0 L582.4,720.9 L584.1,721.7 L585.9,722.6 L587.6,723.3 L589.4,724.1 L591.1,724.8 L592.9,725.5 L594.6,726.2 L596.4,726.9 L598.1,727.5 L599.9,728.1 L601.6,728.7 L603.3,729.3 L605.1,729.9 L606.8,730.4 L608.6,730.9 L610.3,731.4 L612.1,731.9 L613.8,732.4 L615.6,732.8 L617.3,733.3 L619.1,733.7 L620.8,734.1 L622.6,734.6 L624.3,735.0 L626.1,735.3 L627.8,735.7 L629.6,736.1 L631.3,736.4 L633.1,736.8 L634.8,737.1 L636.6,737.4 L638.3,737.8 L640.1,738.1 L641.8,738.4 L643.6,738.7 L645.3,738.9 L647.1,739.2 L648.8,739.5 L650.6,739.8 L652.3,740.0 L654.1,740.3 L655.8,740.5 L657.5,740.8 L659.3,741.0 L661.0,741.2 L662.8,741.4 L664.5,741.7 L666.3,741.9 L668.0,742.1 L669.8,742.3 L671.5,742.5 L673.3,742.7 L675.0,742.9 L676.8,743.1 L678.5,743.2 L680.3,743.4 L682.0,743.6 L683.8,743.8 L685.5,743.9 L687.3,744.1 L689.0,744.3 L690.8,744.4 L692.5,744.6 L694.3,744.7 L696.0,744.9 L697.8,745.0 L699.5,745.1 L701.3,745.3 L703.0,745.4 L704.8,745.6 L706.5,745.7 L708.3,745.8 L710.0,745.9 L711.7,746.1 L713.5,746.2 L715.2,746.3 L717.0,746.4 L718.7,746.5 L720.5,746.6 L722.2,746.8 L724.0,746.9 L725.7,747.0 L727.5,747.1 L729.2,747.2 L731.0,747.3 L732.7,747.4 L734.5,747.5 L736.2,747.6 L738.0,747.7 L739.7,747.8 L741.5,747.8 L743.2,747.9 L745.0,748.0 L746.7,748.1 L748.5,748.2 L750.2,748.3 L752.0,748.4 L753.7,748.4 L755.5,748.5 L757.2,748.6 L759.0,748.7 L760.7,748.7 L762.5,748.8 L764.2,748.9 L765.9,749.0 L767.7,749.0 L769.4,749.1 L771.2,749.2 L772.9,749.2 L774.7,749.3 L776.4,749.4 L778.2,749.4 L779.9,749.5 L781.7,749.6 L783.4,749.6 L785.2,749.7 L786.9,749.8 L788.7,749.8 L790.4,749.9 L792.2,749.9 L793.9,750.0 L795.7,750.0 L797.4,750.1 L799.2,750.2 L800.9,750.2 L802.7,750.3 L804.4,750.3 L806.2,750.4 L807.9,750.4 L809.7,750.5 L811.4,750.5 L813.2,750.6 L814.9,750.6 L816.7,750.7 L818.4,750.7 L820.1,750.8 L821.9,750.8 L823.6,750.8 L825.4,750.9 L827.1,750.9 L828.9,751.0 L830.6,751.0 L832.4,751.1 L834.1,751.1 L835.9,751.1 L837.6,751.2 L839.4,751.2 L841.1,751.3 L842.9,751.3 L844.6,751.3 L846.4,751.4 L848.1,751.4 L849.9,751.5 L851.6,751.5 L853.4,751.5 L855.1,751.6 L856.9,751.6 L858.6,751.6 L860.4,751.7 L862.1,751.7 L863.9,751.7 L865.6,751.8 L867.4,751.8 L869.1,751.8 L870.9,751.9 L872.6,751.9 L874.3,751.9 L876.1,752.0 L877.8,752.0 L879.6,752.0 L881.3,752.1 L883.1,752.1 L884.8,752.1 L886.6,752.1 L888.3,752.2 L890.1,752.2 L891.8,752.2 L893.6,752.3 L895.3,752.3 L897.1,752.3 L898.8,752.3 L900.6,752.4 L902.3,752.4 L904.1,752.4 L905.8,752.5 L907.6,752.5 L909.3,752.5 L911.1,752.5 L912.8,752.6 L914.6,752.6 L916.3,752.6 L918.1,752.6 L919.8,752.6 L921.6,752.7 L923.3,752.7 L925.1,752.7 L926.8,752.7 L928.6,752.8 L930.3,752.8 L932.0,752.8 L933.8,752.8 L935.5,752.9 L937.3,752.9 L939.0,752.9 L940.8,752.9 L942.5,752.9 L944.3,753.0 L946.0,753.0 L947.8,753.0 L949.5,753.0 L951.3,753.0 L953.0,753.1 L954.8,753.1 L956.5,753.1 L958.3,753.1 L960.0,753.1 L961.8,753.2 L963.5,753.2 L965.3,753.2 L967.0,753.2 L968.8,753.2 L970.5,753.3 L972.3,753.3 L974.0,753.3 L975.8,753.3 L977.5,753.3 L979.3,753.3 L981.0,753.4 L982.8,753.4 L984.5,753.4 L986.2,753.4 L988.0,753.4 L989.7,753.4 L991.5,753.5 L993.2,753.5 L995.0,753.5 L996.7,753.5 L998.5,753.5 L1000.2,753.5 L1002.0,753.6 L1003.7,753.6 L1005.5,753.6 L1007.2,753.6 L1009.0,753.6 L1010.7,753.6 L1012.5,753.6 L1014.2,753.7 L1016.0,753.7 L1017.7,753.7 L1019.5,753.7 L1021.2,753.7 L1023.0,753.7 L1024.7,753.7 L1026.5,753.8 L1028.2,753.8 L1030.0,753.8 L1031.7,753.8 L1033.5,753.8 L1035.2,753.8 L1037.0,753.8 L1038.7,753.8 L1040.4,753.9 L1042.2,753.9 L1043.9,753.9 L1045.7,753.9 L1047.4,753.9 L1049.2,753.9 L1050.9,753.9 L1052.7,753.9 L1054.4,754.0 L1056.2,754.0 L1057.9,754.0 L1059.7,754.0 L1061.4,754.0 L1063.2,754.0 L1064.9,754.0 L1066.7,754.0 L1068.4,754.1 L1070.2,754.1 L1071.9,754.1 L1073.7,754.1 L1075.4,754.1 L1077.2,754.1 L1078.9,754.1 L1080.7,754.1 L1082.4,754.1 L1084.2,754.2 L1085.9,754.2 L1087.7,754.2 L1089.4,754.2 L1091.2,754.2 L1092.9,754.2" stroke="#7088c4" stroke-width="3.0"/>
<path d="M341.1,736.2 L342.8,735.4 L344.6,734.6 L346.3,733.7 L348.1,732.8 L349.8,731.9 L351.6,730.9 L353.3,729.8 L353.8,729.5 L354.2,729.3 L354.6,729.0 L355.1,728.7 L355.5,728.4 L355.9,728.1 L356.4,727.8 L356.8,727.5 L357.3,727.2 L357.7,726.9 L358.1,726.6 L358.6,726.3 L359.0,726.0 L359.4,725.7 L359.9,725.4 L360.3,725.0 L360.8,724.7 L361.2,724.4 L361.6,724.0 L362.1,723.7 L362.5,723.3 L362.9,723.0 L363.4,722.6 L363.8,722.3 L364.3,721.9 L364.7,721.5 L365.1,721.2 L365.6,720.8 L366.0,720.4 L366.4,720.0 L366.9,719.6 L367.3,719.2 L367.8,718.8 L368.2,718.4 L368.6,718.0 L369.1,717.5 L369.5,717.1 L369.9,716.7 L370.4,716.2 L370.8,715.8 L371.2,715.3 L371.7,714.9 L372.1,714.4 L372.6,713.9 L373.0,713.4 L373.4,712.9 L373.9,712.4 L374.3,711.9 L374.7,711.4 L375.2,710.9 L375.6,710.4 L376.1,709.9 L376.5,709.3 L376.9,708.8 L377.4,708.2 L377.8,707.7 L378.2,707.1 L378.7,706.5 L379.1,705.9 L379.6,705.3 L380.0,704.7 L380.4,704.1 L380.9,703.5 L381.3,702.8 L381.7,702.2 L382.2,701.5 L382.6,700.9 L383.0,700.2 L383.5,699.5 L383.9,698.8 L384.4,698.1 L384.8,697.4 L385.2,696.7 L385.7,695.9 L386.1,695.2 L386.5,694.4 L387.0,693.6 L387.4,692.8 L387.9,692.0 L388.3,691.2 L388.7,690.4 L389.2,689.5 L389.6,688.7 L390.0,687.8 L390.5,686.9 L390.9,686.0 L391.4,685.1 L391.8,684.2 L392.2,683.2 L392.7,682.3 L393.1,681.3 L393.5,680.3 L394.0,679.3 L394.4,678.3 L394.9,677.2 L395.3,676.2 L395.7,675.1 L396.2,674.0 L396.6,672.9 L397.0,671.7 L397.5,670.6 L397.9,669.4 L398.3,668.2 L398.8,666.9 L399.2,665.7 L399.7,664.4 L400.1,663.1 L400.5,661.8 L401.0,660.5 L401.4,659.1 L401.8,657.7 L402.3,656.3 L402.7,654.9 L403.2,653.4 L403.6,651.9 L404.0,650.4 L404.5,648.9 L404.9,647.3 L405.3,645.7 L405.8,644.0 L406.2,642.4 L406.7,640.7 L407.1,638.9 L407.5,637.2 L408.0,635.4 L408.4,633.5 L408.8,631.7 L409.3,629.8 L409.7,627.8 L410.1,625.8 L410.6,623.8 L411.0,621.8 L411.5,619.6 L411.9,617.5 L412.3,615.3 L412.8,613.1 L413.2,610.8 L413.6,608.5 L414.1,606.1 L414.5,603.7 L415.0,601.3 L415.4,598.8 L415.8,596.2 L416.3,593.6 L416.7,590.9 L417.1,588.2 L417.6,585.5 L418.0,582.6 L418.5,579.7 L418.9,576.8 L419.3,573.8 L419.8,570.7 L420.2,567.6 L420.6,564.4 L421.1,561.2 L421.5,557.9 L422.0,554.5 L422.4,551.0 L422.8,547.5 L423.3,543.9 L423.7,540.3 L424.1,536.5 L424.6,532.7 L425.0,528.9 L425.4,524.9 L425.9,520.9 L426.3,516.7 L426.8,512.6 L427.2,508.3 L427.6,503.9 L428.1,499.5 L428.5,495.0 L428.9,490.4 L429.4,485.7 L429.8,480.9 L430.3,476.0 L430.7,471.1 L431.1,466.0 L431.6,460.9 L432.0,455.7 L432.4,450.4 L432.9,445.0 L433.3,439.6 L433.8,434.0 L434.2,428.4 L434.6,422.6 L435.1,416.8 L435.5,410.9 L435.9,404.9 L436.4,398.9 L436.8,392.8 L437.2,386.6 L437.7,380.3 L438.1,374.0 L438.6,367.6 L439.0,361.1 L439.4,354.6 L439.9,348.0 L440.3,341.4 L440.7,334.7 L441.2,328.0 L441.6,321.3 L442.1,314.6 L442.5,307.8 L442.9,301.1 L443.4,294.3 L443.8,287.6 L444.2,280.8 L444.7,274.1 L445.1,267.5 L445.6,260.9 L446.0,254.3 L446.4,247.9 L446.9,241.5 L447.3,235.2 L447.7,229.0 L448.2,222.9 L448.6,217.0 L449.1,211.2 L449.5,205.6 L449.9,200.1 L450.4,194.9 L450.8,189.8 L451.2,184.9 L451.7,180.3 L452.1,175.9 L452.5,171.8 L453.0,167.9 L453.4,164.2 L453.9,160.9 L454.3,157.8 L454.7,155.1 L455.2,152.6 L455.6,150.5 L456.0,148.7 L456.5,147.2 L456.9,146.0 L457.4,145.1 L457.8,144.6 M458.7,144.6 L459.1,145.0 L459.5,145.7 L460.0,146.8 L460.4,148.1 L460.9,149.7 L461.3,151.6 L461.7,153.7 L462.2,156.1 L462.6,158.8 L463.0,161.8 L463.5,165.0 L463.9,168.4 L464.4,172.0 L464.8,175.9 L465.2,179.9 L465.7,184.2 L466.1,188.6 L466.5,193.3 L467.0,198.0 L467.4,203.0 L467.8,208.1 L468.3,213.3 L468.7,218.6 L469.2,224.1 L469.6,229.6 L470.0,235.2 L470.5,241.0 L470.9,246.7 L471.3,252.6 L471.8,258.5 L472.2,264.4 L472.7,270.4 L473.1,276.4 L473.5,282.5 L474.0,288.5 L474.4,294.5 L474.8,300.6 L475.3,306.6 L475.7,312.6 L476.2,318.6 L476.6,324.6 L477.0,330.6 L477.5,336.5 L477.9,342.4 L478.3,348.2 L478.8,354.0 L479.2,359.7 L479.6,365.4 L480.1,371.0 L480.5,376.6 L481.0,382.1 L481.4,387.6 L481.8,393.0 L482.3,398.3 L482.7,403.6 L483.1,408.8 L483.6,413.9 L484.0,419.0 L484.5,423.9 L484.9,428.9 L485.3,433.7 L485.8,438.5 L486.2,443.2 L486.6,447.8 L487.1,452.4 L487.5,456.9 L488.0,461.3 L488.4,465.6 L488.8,469.9 L489.3,474.1 L489.7,478.3 L490.1,482.3 L490.6,486.3 L491.0,490.3 L491.5,494.2 L491.9,498.0 L492.3,501.7 L492.8,505.4 L493.2,509.0 L493.6,512.5 L494.1,516.0 L494.5,519.4 L494.9,522.8 L495.4,526.1 L495.8,529.4 L496.3,532.6 L496.7,535.7 L497.1,538.8 L497.6,541.8 L498.0,544.8 L498.4,547.7 L498.9,550.5 L499.3,553.4 L499.8,556.1 L500.2,558.8 L500.6,561.5 L501.1,564.1 L501.5,566.7 L501.9,569.2 L502.4,571.7 L502.8,574.2 L503.3,576.6 L503.7,578.9 L504.1,581.2 L504.6,583.5 L505.0,585.7 L505.4,587.9 L505.9,590.1 L506.3,592.2 L506.7,594.3 L507.2,596.3 L507.6,598.3 L508.1,600.3 L508.5,602.3 L508.9,604.2 L509.4,606.0 L509.8,607.9 L510.2,609.7 L510.7,611.5 L511.1,613.2 L511.6,615.0 L512.0,616.6 L512.4,618.3 L512.9,619.9 L513.3,621.6 L513.7,623.1 L514.2,624.7 L514.6,626.2 L515.1,627.7 L515.5,629.2 L515.9,630.7 L516.4,632.1 L516.8,633.5 L517.2,634.9 L517.7,636.3 L518.1,637.6 L518.6,638.9 L519.0,640.2 L519.4,641.5 L519.9,642.8 L520.3,644.0 L520.7,645.2 L521.2,646.4 L521.6,647.6 L522.0,648.8 L522.5,649.9 L522.9,651.0 L523.4,652.2 L523.8,653.2 L524.2,654.3 L524.7,655.4 L525.1,656.4 L525.5,657.5 L526.0,658.5 L526.4,659.5 L526.9,660.4 L527.3,661.4 L527.7,662.4 L528.2,663.3 L528.6,664.2 L529.0,665.2 L529.5,666.1 L529.9,666.9 L530.4,667.8 L530.8,668.7 L531.2,669.5 L531.7,670.4 L532.1,671.2 L532.5,672.0 L533.0,672.8 L533.4,673.6 L533.8,674.4 L534.3,675.1 L534.7,675.9 L535.2,676.6 L535.6,677.4 L536.0,678.1 L536.5,678.8 L536.9,679.5 L537.3,680.2 L537.8,680.9 L538.2,681.6 L538.7,682.3 L539.1,682.9 L539.5,683.6 L540.0,684.2 L540.4,684.9 L540.8,685.5 L541.3,686.1 L541.7,686.7 L542.2,687.3 L542.6,687.9 L543.0,688.5 L543.5,689.1 L543.9,689.6 L544.3,690.2 L544.8,690.8 L545.2,691.3 L545.7,691.9 L546.1,692.4 L546.5,692.9 L547.0,693.4 L547.4,694.0 L547.8,694.5 L548.3,695.0 L548.7,695.5 L549.1,696.0 L549.6,696.5 L550.0,696.9 L550.5,697.4 L550.9,697.9 L551.3,698.3 L551.8,698.8 L552.2,699.2 L552.6,699.7 L553.1,700.1 L553.5,700.6 L554.0,701.0 L554.4,701.4 L554.8,701.8 L555.3,702.3 L555.7,702.7 L556.1,703.1 L556.6,703.5 L557.0,703.9 L557.5,704.3 L557.9,704.7 L558.3,705.0 L558.8,705.4 L559.2,705.8 L559.6,706.2 L560.1,706.5 L560.5,706.9 L560.9,707.3 L561.4,707.6 L561.8,708.0 L562.3,708.3 L562.7,708.6 L563.1,709.0 L564.9,710.3 L566.6,711.6 L568.4,712.8 L570.1,713.9 L571.9,715.1 L573.6,716.1 L575.4,717.2 L577.1,718.1 L578.9,719.1 L580.6,720.0 L582.4,720.9 L584.1,721.7 L585.9,722.6" stroke="#2a5ee8" stroke-width="2.2" stroke-dasharray="6 6" stroke-dashoffset="21"/>
<path d="M218.7,756.0 L220.4,755.9 L222.2,755.8 L223.9,755.7 L225.7,755.6 L227.4,755.5 L229.2,755.4 L230.9,755.3 L232.7,755.2 L234.4,755.1 L236.2,755.0 L237.9,754.9 L239.7,754.8 L241.4,754.7 L243.2,754.5 L244.9,754.4 L246.7,754.3 L248.4,754.2 L250.2,754.0 L251.9,753.9 L253.7,753.8 L255.4,753.6 L257.2,753.5 L258.9,753.3 L260.7,753.2 L262.4,753.0 L264.2,752.8 L265.9,752.7 L267.7,752.5 L269.4,752.3 L271.2,752.1 L272.9,751.9 L274.6,751.7 L276.4,751.5 L278.1,751.3 L279.9,751.1 L281.6,750.9 L283.4,750.7 L285.1,750.4 L286.9,750.2 L288.6,749.9 L290.4,749.7 L292.1,749.4 L293.9,749.1 L295.6,748.9 L297.4,748.6 L299.1,748.3 L300.9,747.9 L302.6,747.6 L304.4,747.3 L306.1,746.9 L307.9,746.6 L309.6,746.2 L311.4,745.8 L313.1,745.4 L314.9,745.0 L316.6,744.5 L318.4,744.1 L320.1,743.6 L321.9,743.1 L323.6,742.6 L325.4,742.1 L327.1,741.5 L328.8,741.0 L330.6,740.4 L332.3,739.8 L334.1,739.1 L335.8,738.4 L337.6,737.7 L339.3,737.0 L341.1,736.2 M457.8,144.6 L458.2,144.4 L458.7,144.6 M585.9,722.6 L587.6,723.3 L589.4,724.1 L591.1,724.8 L592.9,725.5 L594.6,726.2 L596.4,726.9 L598.1,727.5 L599.9,728.1 L601.6,728.7 L603.3,729.3 L605.1,729.9 L606.8,730.4 L608.6,730.9 L610.3,731.4 L612.1,731.9 L613.8,732.4 L615.6,732.8 L617.3,733.3 L619.1,733.7 L620.8,734.1 L622.6,734.6 L624.3,735.0 L626.1,735.3 L627.8,735.7 L629.6,736.1 L631.3,736.4 L633.1,736.8 L634.8,737.1 L636.6,737.4 L638.3,737.8 L640.1,738.1 L641.8,738.4 L643.6,738.7 L645.3,738.9 L647.1,739.2 L648.8,739.5 L650.6,739.8 L652.3,740.0 L654.1,740.3 L655.8,740.5 L657.5,740.8 L659.3,741.0 L661.0,741.2 L662.8,741.4 L664.5,741.7 L666.3,741.9 L668.0,742.1 L669.8,742.3 L671.5,742.5 L673.3,742.7 L675.0,742.9 L676.8,743.1 L678.5,743.2 L680.3,743.4 L682.0,743.6 L683.8,743.8 L685.5,743.9 L687.3,744.1 L689.0,744.3 L690.8,744.4 L692.5,744.6 L694.3,744.7 L696.0,744.9 L697.8,745.0 L699.5,745.1 L701.3,745.3 L703.0,745.4 L704.8,745.6 L706.5,745.7 L708.3,745.8 L710.0,745.9 L711.7,746.1 L713.5,746.2 L715.2,746.3 L717.0,746.4 L718.7,746.5 L720.5,746.6 L722.2,746.8 L724.0,746.9 L725.7,747.0 L727.5,747.1 L729.2,747.2 L731.0,747.3 L732.7,747.4 L734.5,747.5 L736.2,747.6 L738.0,747.7 L739.7,747.8 L741.5,747.8 L743.2,747.9 L745.0,748.0 L746.7,748.1 L748.5,748.2 L750.2,748.3 L752.0,748.4 L753.7,748.4 L755.5,748.5 L757.2,748.6 L759.0,748.7 L760.7,748.7 L762.5,748.8 L764.2,748.9 L765.9,749.0 L767.7,749.0 L769.4,749.1 L771.2,749.2 L772.9,749.2 L774.7,749.3 L776.4,749.4 L778.2,749.4 L779.9,749.5 L781.7,749.6 L783.4,749.6 L785.2,749.7 L786.9,749.8 L788.7,749.8 L790.4,749.9 L792.2,749.9 L793.9,750.0 L795.7,750.0 L797.4,750.1 L799.2,750.2 L800.9,750.2 L802.7,750.3 L804.4,750.3 L806.2,750.4 L807.9,750.4 L809.7,750.5 L811.4,750.5 L813.2,750.6 L814.9,750.6 L816.7,750.7 L818.4,750.7 L820.1,750.8 L821.9,750.8 L823.6,750.8 L825.4,750.9 L827.1,750.9 L828.9,751.0 L830.6,751.0 L832.4,751.1 L834.1,751.1 L835.9,751.1 L837.6,751.2 L839.4,751.2 L841.1,751.3 L842.9,751.3 L844.6,751.3 L846.4,751.4 L848.1,751.4 L849.9,751.5 L851.6,751.5 L853.4,751.5 L855.1,751.6 L856.9,751.6 L858.6,751.6 L860.4,751.7 L862.1,751.7 L863.9,751.7 L865.6,751.8 L867.4,751.8 L869.1,751.8 L870.9,751.9 L872.6,751.9 L874.3,751.9 L876.1,752.0 L877.8,752.0 L879.6,752.0 L881.3,752.1 L883.1,752.1 L884.8,752.1 L886.6,752.1 L888.3,752.2 L890.1,752.2 L891.8,752.2 L893.6,752.3 L895.3,752.3 L897.1,752.3 L898.8,752.3 L900.6,752.4 L902.3,752.4 L904.1,752.4 L905.8,752.5 L907.6,752.5 L909.3,752.5 L911.1,752.5 L912.8,752.6 L914.6,752.6 L916.3,752.6 L918.1,752.6 L919.8,752.6 L921.6,752.7 L923.3,752.7 L925.1,752.7 L926.8,752.7 L928.6,752.8 L930.3,752.8 L932.0,752.8 L933.8,752.8 L935.5,752.9 L937.3,752.9 L939.0,752.9 L940.8,752.9 L942.5,752.9 L944.3,753.0 L946.0,753.0 L947.8,753.0 L949.5,753.0 L951.3,753.0 L953.0,753.1 L954.8,753.1 L956.5,753.1 L958.3,753.1 L960.0,753.1 L961.8,753.2 L963.5,753.2 L965.3,753.2 L967.0,753.2 L968.8,753.2 L970.5,753.3 L972.3,753.3 L974.0,753.3 L975.8,753.3 L977.5,753.3 L979.3,753.3 L981.0,753.4 L982.8,753.4 L984.5,753.4 L986.2,753.4 L988.0,753.4 L989.7,753.4 L991.5,753.5 L993.2,753.5 L995.0,753.5 L996.7,753.5 L998.5,753.5 L1000.2,753.5 L1002.0,753.6 L1003.7,753.6 L1005.5,753.6 L1007.2,753.6 L1009.0,753.6 L1010.7,753.6 L1012.5,753.6 L1014.2,753.7 L1016.0,753.7 L1017.7,753.7 L1019.5,753.7 L1021.2,753.7 L1023.0,753.7 L1024.7,753.7 L1026.5,753.8 L1028.2,753.8 L1030.0,753.8 L1031.7,753.8 L1033.5,753.8 L1035.2,753.8 L1037.0,753.8 L1038.7,753.8 L1040.4,753.9 L1042.2,753.9 L1043.9,753.9 L1045.7,753.9 L1047.4,753.9 L1049.2,753.9 L1050.9,753.9 L1052.7,753.9 L1054.4,754.0 L1056.2,754.0 L1057.9,754.0 L1059.7,754.0 L1061.4,754.0 L1063.2,754.0 L1064.9,754.0 L1066.7,754.0 L1068.4,754.1 L1070.2,754.1 L1071.9,754.1 L1073.7,754.1 L1075.4,754.1 L1077.2,754.1 L1078.9,754.1 L1080.7,754.1 L1082.4,754.1 L1084.2,754.2 L1085.9,754.2 L1087.7,754.2 L1089.4,754.2 L1091.2,754.2 L1092.9,754.2" stroke="#2a5ee8" stroke-width="2.4" stroke-dasharray="18 4" stroke-dashoffset="49"/>
</g>
<line x1="218.7" y1="115.5" x2="218.7" y2="774.3" stroke="#737373" stroke-width="4"/>
<line x1="1092.9" y1="115.5" x2="1092.9" y2="774.3" stroke="#646464" stroke-width="3"/>
<line x1="211.6" y1="115.9" x2="1094.3" y2="115.9" stroke="#303030" stroke-width="2.6"/>
<g stroke="#2e2e2e" stroke-width="2.6"><line x1="204.5" y1="760.6" x2="218.7" y2="760.6"/><line x1="1078.7" y1="760.6" x2="1092.9" y2="760.6"/><line x1="211.7" y1="711.1" x2="218.7" y2="711.1"/><line x1="1084.9" y1="711.1" x2="1092.9" y2="711.1"/><line x1="204.5" y1="661.5" x2="218.7" y2="661.5"/><line x1="1078.7" y1="661.5" x2="1092.9" y2="661.5"/><line x1="211.7" y1="612.0" x2="218.7" y2="612.0"/><line x1="1084.9" y1="612.0" x2="1092.9" y2="612.0"/><line x1="204.5" y1="562.4" x2="218.7" y2="562.4"/><line x1="1078.7" y1="562.4" x2="1092.9" y2="562.4"/><line x1="211.7" y1="512.9" x2="218.7" y2="512.9"/><line x1="1084.9" y1="512.9" x2="1092.9" y2="512.9"/><line x1="204.5" y1="463.3" x2="218.7" y2="463.3"/><line x1="1078.7" y1="463.3" x2="1092.9" y2="463.3"/><line x1="211.7" y1="413.8" x2="218.7" y2="413.8"/><line x1="1084.9" y1="413.8" x2="1092.9" y2="413.8"/><line x1="204.5" y1="364.2" x2="218.7" y2="364.2"/><line x1="1078.7" y1="364.2" x2="1092.9" y2="364.2"/><line x1="211.7" y1="314.7" x2="218.7" y2="314.7"/><line x1="1084.9" y1="314.7" x2="1092.9" y2="314.7"/><line x1="204.5" y1="265.1" x2="218.7" y2="265.1"/><line x1="1078.7" y1="265.1" x2="1092.9" y2="265.1"/><line x1="211.7" y1="215.5" x2="218.7" y2="215.5"/><line x1="1084.9" y1="215.5" x2="1092.9" y2="215.5"/><line x1="204.5" y1="166.0" x2="218.7" y2="166.0"/><line x1="1078.7" y1="166.0" x2="1092.9" y2="166.0"/><line x1="306.1" y1="115.9" x2="306.1" y2="123.9"/><line x1="306.1" y1="760.6" x2="306.1" y2="768.6"/><line x1="393.5" y1="115.9" x2="393.5" y2="130.4"/><line x1="393.5" y1="760.6" x2="393.5" y2="774.1"/><line x1="481.0" y1="115.9" x2="481.0" y2="123.9"/><line x1="481.0" y1="760.6" x2="481.0" y2="768.6"/><line x1="568.4" y1="115.9" x2="568.4" y2="130.4"/><line x1="568.4" y1="760.6" x2="568.4" y2="774.1"/><line x1="655.8" y1="115.9" x2="655.8" y2="123.9"/><line x1="655.8" y1="760.6" x2="655.8" y2="768.6"/><line x1="743.2" y1="115.9" x2="743.2" y2="130.4"/><line x1="743.2" y1="760.6" x2="743.2" y2="774.1"/><line x1="830.6" y1="115.9" x2="830.6" y2="123.9"/><line x1="830.6" y1="760.6" x2="830.6" y2="768.6"/><line x1="918.1" y1="115.9" x2="918.1" y2="130.4"/><line x1="918.1" y1="760.6" x2="918.1" y2="774.1"/><line x1="1005.5" y1="115.9" x2="1005.5" y2="123.9"/><line x1="1005.5" y1="760.6" x2="1005.5" y2="768.6"/></g>
<g font-family='"Liberation Sans", Arial, sans-serif' font-size="35" fill="#303030"><text transform="translate(197,770.5) scale(1,1.04)" text-anchor="end">0.0</text><text transform="translate(197,671.4) scale(1,1.04)" text-anchor="end">0.1</text><text transform="translate(197,572.3) scale(1,1.04)" text-anchor="end">0.2</text><text transform="translate(197,473.2) scale(1,1.04)" text-anchor="end">0.3</text><text transform="translate(197,374.1) scale(1,1.04)" text-anchor="end">0.4</text><text transform="translate(197,275.0) scale(1,1.04)" text-anchor="end">0.5</text><text transform="translate(197,175.9) scale(1,1.04)" text-anchor="end">0.6</text><text transform="translate(218.7,809.4) scale(1,1.04)" text-anchor="middle">1000</text><text transform="translate(393.5,809.4) scale(1,1.04)" text-anchor="middle">1200</text><text transform="translate(568.4,809.4) scale(1,1.04)" text-anchor="middle">1400</text><text transform="translate(743.2,809.4) scale(1,1.04)" text-anchor="middle">1600</text><text transform="translate(918.1,809.4) scale(1,1.04)" text-anchor="middle">1800</text><text transform="translate(1091.7,809.4) scale(1,1.04)" text-anchor="middle">2000</text></g>
<text x="488.1" y="876.2" font-family='"Liberation Sans", Arial, sans-serif' font-size="44.4" fill="#1e1e1e">Wavelength (nm)</text>
<text transform="translate(93.6,579.7) rotate(-90)" font-family='"Liberation Sans", Arial, sans-serif' font-size="44.3" fill="#1e1e1e">Transmittance</text>
<g fill="#111" stroke="#fff" stroke-width="1.1"><text x="28.8" y="92.9" font-family="'Liberation Sans', Arial, sans-serif" font-size="70.5">(</text><text transform="translate(50.2,95.0) scale(1.07,0.97)" font-family="'DejaVu Sans Condensed', 'DejaVu Sans', sans-serif" font-size="71">a</text><text x="88.5" y="92.9" font-family="'Liberation Sans', Arial, sans-serif" font-size="70.5">)</text></g>
<rect x="885.2" y="137.4" width="345.3" height="382.4" rx="2" fill="#fff" stroke="#6e6e6e" stroke-width="2.6"/>
<line x1="901" y1="168.4" x2="981" y2="168.4" stroke="#f27a40" stroke-width="2.6"/>
<text transform="translate(990.4,180.0) scale(1.28,1)" font-family='"Liberation Serif", "DejaVu Serif", serif' font-style="italic" font-size="32" fill="#222">κ</text>
<text transform="translate(1017.2,179.4) scale(1.25,1)" font-family='"Liberation Sans", Arial, sans-serif' font-weight="bold" font-size="27.5" fill="#222">=</text>
<text x="1047.8" y="180.0" font-family='"Liberation Sans", Arial, sans-serif' font-size="35" fill="#222">0 mm<tspan dy="-17" font-size="20">-1</tspan></text>
<line x1="901" y1="216.0" x2="981" y2="216.0" stroke="#d86e40" stroke-width="2.6"/>
<text transform="translate(990.4,227.6) scale(1.28,1)" font-family='"Liberation Serif", "DejaVu Serif", serif' font-style="italic" font-size="32" fill="#222">κ</text>
<text transform="translate(1017.2,227.0) scale(1.25,1)" font-family='"Liberation Sans", Arial, sans-serif' font-weight="bold" font-size="27.5" fill="#222">=</text>
<text x="1047.8" y="227.6" font-family='"Liberation Sans", Arial, sans-serif' font-size="35" fill="#222">0.015 mm<tspan dy="-17" font-size="20">-1</tspan></text>
<line x1="901" y1="263.5" x2="981" y2="263.5" stroke="#d4a09c" stroke-width="3.6"/>
<text transform="translate(990.4,275.1) scale(1.28,1)" font-family='"Liberation Serif", "DejaVu Serif", serif' font-style="italic" font-size="32" fill="#222">κ</text>
<text transform="translate(1017.2,274.5) scale(1.25,1)" font-family='"Liberation Sans", Arial, sans-serif' font-weight="bold" font-size="27.5" fill="#222">=</text>
<text x="1047.8" y="275.1" font-family='"Liberation Sans", Arial, sans-serif' font-size="35" fill="#222">0.030 mm<tspan dy="-17" font-size="20">-1</tspan></text>
<line x1="901" y1="311.1" x2="981" y2="311.1" stroke="#8e5c7e" stroke-width="2.6"/>
<text transform="translate(990.4,322.7) scale(1.28,1)" font-family='"Liberation Serif", "DejaVu Serif", serif' font-style="italic" font-size="32" fill="#222">κ</text>
<text transform="translate(1017.2,322.1) scale(1.25,1)" font-family='"Liberation Sans", Arial, sans-serif' font-weight="bold" font-size="27.5" fill="#222">=</text>
<text x="1047.8" y="322.7" font-family='"Liberation Sans", Arial, sans-serif' font-size="35" fill="#222">0.045 mm<tspan dy="-17" font-size="20">-1</tspan></text>
<line x1="901" y1="358.7" x2="981" y2="358.7" stroke="#7c6494" stroke-width="2.6"/>
<text transform="translate(990.4,370.3) scale(1.28,1)" font-family='"Liberation Serif", "DejaVu Serif", serif' font-style="italic" font-size="32" fill="#222">κ</text>
<text transform="translate(1017.2,369.7) scale(1.25,1)" font-family='"Liberation Sans", Arial, sans-serif' font-weight="bold" font-size="27.5" fill="#222">=</text>
<text x="1047.8" y="370.3" font-family='"Liberation Sans", Arial, sans-serif' font-size="35" fill="#222">0.059 mm<tspan dy="-17" font-size="20">-1</tspan></text>
<line x1="901" y1="406.2" x2="981" y2="406.2" stroke="#8c94c8" stroke-width="3.6"/>
<text transform="translate(990.4,417.9) scale(1.28,1)" font-family='"Liberation Serif", "DejaVu Serif", serif' font-style="italic" font-size="32" fill="#222">κ</text>
<text transform="translate(1017.2,417.2) scale(1.25,1)" font-family='"Liberation Sans", Arial, sans-serif' font-weight="bold" font-size="27.5" fill="#222">=</text>
<text x="1047.8" y="417.9" font-family='"Liberation Sans", Arial, sans-serif' font-size="35" fill="#222">0.074 mm<tspan dy="-17" font-size="20">-1</tspan></text>
<line x1="901" y1="453.8" x2="981" y2="453.8" stroke="#4a70d8" stroke-width="2.6"/>
<text transform="translate(990.4,465.4) scale(1.28,1)" font-family='"Liberation Serif", "DejaVu Serif", serif' font-style="italic" font-size="32" fill="#222">κ</text>
<text transform="translate(1017.2,464.8) scale(1.25,1)" font-family='"Liberation Sans", Arial, sans-serif' font-weight="bold" font-size="27.5" fill="#222">=</text>
<text x="1047.8" y="465.4" font-family='"Liberation Sans", Arial, sans-serif' font-size="35" fill="#222">0.090 mm<tspan dy="-17" font-size="20">-1</tspan></text>
<line x1="901" y1="501.4" x2="981" y2="501.4" stroke="#3a80f0" stroke-width="2.8"/>
<text transform="translate(990.4,513.0) scale(1.28,1)" font-family='"Liberation Serif", "DejaVu Serif", serif' font-style="italic" font-size="32" fill="#222">κ</text>
<text transform="translate(1017.2,512.4) scale(1.25,1)" font-family='"Liberation Sans", Arial, sans-serif' font-weight="bold" font-size="27.5" fill="#222">=</text>
<text x="1047.8" y="513.0" font-family='"Liberation Sans", Arial, sans-serif' font-size="35" fill="#222">0.105 mm<tspan dy="-17" font-size="20">-1</tspan></text>
<path d="M1478.0,160.6 L1481.5,164.9 L1484.9,169.2 L1488.4,173.4 L1491.9,177.7 L1495.4,181.9 L1498.8,186.1 L1502.3,190.2 L1505.8,194.4 L1509.3,198.5 L1512.7,202.6 L1516.2,206.7 L1519.7,210.7 L1523.1,214.7 L1526.6,218.7 L1530.1,222.7 L1533.6,226.7 L1537.0,230.6 L1540.5,234.5 L1544.0,238.4 L1547.5,242.3 L1550.9,246.2 L1554.4,250.0 L1557.9,253.8 L1561.3,257.6 L1564.8,261.4 L1568.3,265.1 L1571.8,268.8 L1575.2,272.5 L1578.7,276.2 L1582.2,279.9 L1585.7,283.5 L1589.1,287.1 L1592.6,290.7 L1596.1,294.3 L1599.5,297.9 L1603.0,301.4 L1606.5,304.9 L1610.0,308.4 L1613.4,311.9 L1616.9,315.4 L1620.4,318.8 L1623.9,322.2 L1627.3,325.6 L1630.8,329.0 L1634.3,332.4 L1637.7,335.7 L1641.2,339.0 L1644.7,342.3 L1648.2,345.6 L1651.6,348.9 L1655.1,352.1 L1658.6,355.3 L1662.1,358.5 L1665.5,361.7 L1669.0,364.9 L1672.5,368.0 L1675.9,371.2 L1679.4,374.3 L1682.9,377.4 L1686.4,380.5 L1689.8,383.5 L1693.3,386.6 L1696.8,389.6 L1700.3,392.6 L1703.7,395.6 L1707.2,398.6 L1710.7,401.5 L1714.2,404.5 L1717.6,407.4 L1721.1,410.3 L1724.6,413.2 L1728.0,416.0 L1731.5,418.9 L1735.0,421.7 L1738.5,424.5 L1741.9,427.3 L1745.4,430.1 L1748.9,432.9 L1752.4,435.6 L1755.8,438.4 L1759.3,441.1 L1762.8,443.8 L1766.2,446.5 L1769.7,449.2 L1773.2,451.8 L1776.7,454.5 L1780.1,457.1 L1783.6,459.7 L1787.1,462.3 L1790.6,464.9 L1794.0,467.4 L1797.5,470.0 L1801.0,472.5 L1804.4,475.0 L1807.9,477.5 L1811.4,480.0 L1814.9,482.5 L1818.3,484.9 L1821.8,487.4 L1825.3,489.8 L1828.8,492.2 L1832.2,494.6 L1835.7,497.0 L1839.2,499.4 L1842.6,501.7 L1846.1,504.1 L1849.6,506.4 L1853.1,508.7 L1856.5,511.0 L1860.0,513.3 L1863.5,515.6 L1867.0,517.9 L1870.4,520.1 L1873.9,522.4 L1877.4,524.6 L1880.8,526.8 L1884.3,529.0 L1887.8,531.2 L1891.3,533.4 L1894.7,535.5 L1898.2,537.7 L1901.7,539.8 L1905.2,541.9 L1908.6,544.0 L1912.1,546.1 L1915.6,548.2 L1919.0,550.3 L1922.5,552.4 L1926.0,554.4 L1929.5,556.5 L1932.9,558.5 L1936.4,560.5 L1939.9,562.5 L1943.4,564.5 L1946.8,566.5 L1950.3,568.4 L1953.8,570.4 L1957.2,572.4 L1960.7,574.3 L1964.2,576.2 L1967.7,578.1 L1971.1,580.1 L1974.6,581.9 L1978.1,583.8 L1981.6,585.7 L1985.0,587.6 L1988.5,589.4 L1992.0,591.3 L1995.4,593.1 L1998.9,594.9 L2002.4,596.8 L2005.9,598.6 L2009.3,600.4 L2012.8,602.1 L2016.3,603.9 L2019.8,605.7 L2023.2,607.5 L2026.7,609.2 L2030.2,610.9 L2033.6,612.7 L2037.1,614.4 L2040.6,616.1 L2044.1,617.8 L2047.5,619.5 L2051.0,621.2 L2054.5,622.9 L2058.0,624.6 L2061.4,626.2 L2064.9,627.9 L2068.4,629.5 L2071.8,631.2 L2075.3,632.8 L2078.8,634.4 L2082.3,636.1 L2085.7,637.7 L2089.2,639.3 L2092.7,640.9 L2096.2,642.5 L2099.6,644.0 L2103.1,645.6 L2106.6,647.2 L2110.1,648.7 L2113.5,650.3 L2117.0,651.8 L2120.5,653.4 L2123.9,654.9 L2127.4,656.4 L2130.9,658.0 L2134.4,659.5 L2137.8,661.0 L2141.3,662.5 L2144.8,664.0 L2148.3,665.5 L2151.7,667.0 L2155.2,668.4 L2158.7,669.9 L2162.1,671.4 L2165.6,672.8 L2169.1,674.3 L2172.6,675.7 L2176.0,677.2 L2179.5,678.6 L2183.0,680.1 L2186.5,681.5 L2189.9,682.9 L2193.4,684.4 L2196.9,685.8 L2200.3,687.2 L2203.8,688.6 L2207.3,690.0 L2210.8,691.4 L2214.2,692.8 L2217.7,694.2 L2221.2,695.6 L2224.7,697.0 L2228.1,698.3 L2231.6,699.7 L2235.1,701.1 L2238.5,702.5 L2242.0,703.8 L2245.5,705.2 L2249.0,706.6 L2252.4,707.9 L2255.9,709.3 L2259.4,710.6 L2262.9,712.0 L2266.3,713.3 L2269.8,714.7 L2273.3,716.0 L2276.7,717.3 L2280.2,718.7 L2283.7,720.0 L2287.2,721.3 L2290.6,722.7 L2294.1,724.0 L2297.6,725.3 L2301.1,726.7 L2304.5,728.0 L2308.0,729.3" fill="none" stroke="#222" stroke-width="2.6" stroke-dasharray="10.5 13.5"/>
<g stroke="#2e2e2e" stroke-width="2.4"><line x1="1471.0" y1="115.9" x2="2353.6" y2="115.9"/><line x1="1471.0" y1="760.7" x2="2353.6" y2="760.7"/><line x1="1478.0" y1="114.7" x2="1478.0" y2="773.2"/><line x1="2352.4" y1="114.7" x2="2352.4" y2="768.2"/><line x1="1471.0" y1="760.7" x2="1478.0" y2="760.7"/><line x1="2343.4" y1="760.7" x2="2352.4" y2="760.7"/><line x1="1464.0" y1="696.2" x2="1478.0" y2="696.2"/><line x1="2337.4" y1="696.2" x2="2352.4" y2="696.2"/><line x1="1471.0" y1="631.7" x2="1478.0" y2="631.7"/><line x1="2343.4" y1="631.7" x2="2352.4" y2="631.7"/><line x1="1464.0" y1="567.3" x2="1478.0" y2="567.3"/><line x1="2337.4" y1="567.3" x2="2352.4" y2="567.3"/><line x1="1471.0" y1="502.8" x2="1478.0" y2="502.8"/><line x1="2343.4" y1="502.8" x2="2352.4" y2="502.8"/><line x1="1464.0" y1="438.3" x2="1478.0" y2="438.3"/><line x1="2337.4" y1="438.3" x2="2352.4" y2="438.3"/><line x1="1471.0" y1="373.8" x2="1478.0" y2="373.8"/><line x1="2343.4" y1="373.8" x2="2352.4" y2="373.8"/><line x1="1464.0" y1="309.3" x2="1478.0" y2="309.3"/><line x1="2337.4" y1="309.3" x2="2352.4" y2="309.3"/><line x1="1471.0" y1="244.9" x2="1478.0" y2="244.9"/><line x1="2343.4" y1="244.9" x2="2352.4" y2="244.9"/><line x1="1464.0" y1="180.4" x2="1478.0" y2="180.4"/><line x1="2337.4" y1="180.4" x2="2352.4" y2="180.4"/><line x1="1471.0" y1="115.9" x2="1478.0" y2="115.9"/><line x1="2343.4" y1="115.9" x2="2352.4" y2="115.9"/><line x1="1478.0" y1="115.9" x2="1478.0" y2="130.5"/><line x1="1478.0" y1="760.7" x2="1478.0" y2="773.2"/><line x1="1557.3" y1="115.9" x2="1557.3" y2="124.6"/><line x1="1557.3" y1="760.7" x2="1557.3" y2="768.3"/><line x1="1636.7" y1="115.9" x2="1636.7" y2="130.5"/><line x1="1636.7" y1="760.7" x2="1636.7" y2="773.2"/><line x1="1716.0" y1="115.9" x2="1716.0" y2="124.6"/><line x1="1716.0" y1="760.7" x2="1716.0" y2="768.3"/><line x1="1795.4" y1="115.9" x2="1795.4" y2="130.5"/><line x1="1795.4" y1="760.7" x2="1795.4" y2="773.2"/><line x1="1874.8" y1="115.9" x2="1874.8" y2="124.6"/><line x1="1874.8" y1="760.7" x2="1874.8" y2="768.3"/><line x1="1954.1" y1="115.9" x2="1954.1" y2="130.5"/><line x1="1954.1" y1="760.7" x2="1954.1" y2="773.2"/><line x1="2033.5" y1="115.9" x2="2033.5" y2="124.6"/><line x1="2033.5" y1="760.7" x2="2033.5" y2="768.3"/><line x1="2112.8" y1="115.9" x2="2112.8" y2="130.5"/><line x1="2112.8" y1="760.7" x2="2112.8" y2="773.2"/><line x1="2192.2" y1="115.9" x2="2192.2" y2="124.6"/><line x1="2192.2" y1="760.7" x2="2192.2" y2="768.3"/><line x1="2271.5" y1="115.9" x2="2271.5" y2="130.5"/><line x1="2271.5" y1="760.7" x2="2271.5" y2="773.2"/></g>
<defs><clipPath id="cb"><rect x="1478.0" y="115.9" width="874.4" height="644.8"/></clipPath></defs>
<g fill="#000" clip-path="url(#cb)"><rect x="1472.9" y="154.4" width="13.4" height="13.4"/><rect x="1589.3" y="289.9" width="13.4" height="13.4"/><rect x="1707.1" y="399.7" width="13.4" height="13.4"/><rect x="1824.9" y="483.2" width="13.4" height="13.4"/><rect x="1943.7" y="560.6" width="13.4" height="13.4"/><rect x="2062.7" y="625.8" width="13.4" height="13.4"/><rect x="2181.7" y="676.4" width="13.4" height="13.4"/><rect x="2301.3" y="721.7" width="13.4" height="13.4"/></g>
<g font-family='"Liberation Sans", Arial, sans-serif' font-size="35" fill="#303030"><text transform="translate(1456.3,706.6) scale(1,1.04)" text-anchor="end">1300</text><text transform="translate(1456.3,577.7) scale(1,1.04)" text-anchor="end">1400</text><text transform="translate(1456.3,448.7) scale(1,1.04)" text-anchor="end">1500</text><text transform="translate(1456.3,319.7) scale(1,1.04)" text-anchor="end">1600</text><text transform="translate(1456.3,190.8) scale(1,1.04)" text-anchor="end">1700</text><text transform="translate(1478.0,810.2) scale(1,1.04)" text-anchor="middle">0.00</text><text transform="translate(1636.7,810.2) scale(1,1.04)" text-anchor="middle">0.02</text><text transform="translate(1795.4,810.2) scale(1,1.04)" text-anchor="middle">0.04</text><text transform="translate(1954.1,810.2) scale(1,1.04)" text-anchor="middle">0.06</text><text transform="translate(2112.8,810.2) scale(1,1.04)" text-anchor="middle">0.08</text><text transform="translate(2271.5,810.2) scale(1,1.04)" text-anchor="middle">0.10</text></g>
<g font-family='"Liberation Sans", Arial, sans-serif' font-size="44" fill="#1e1e1e"><text x="1729.4" y="881.5">Curvature</text><text transform="translate(1937.8,881.7) scale(1.19,1)" font-family='"Liberation Serif", "DejaVu Serif", serif' font-style="italic" font-size="46">κ</text><text x="1972.8" y="881.5">(mm</text><text x="2065.2" y="858.6" font-size="24">-1</text><text x="2085.7" y="881.5">)</text></g>
<text transform="translate(1350.6,719.8) rotate(-90)" font-family='"Liberation Sans", Arial, sans-serif' font-size="44.1" fill="#1e1e1e">Resonance wavelength (nm)</text>
<g fill="#111" stroke="#fff" stroke-width="1.1"><text x="1268.8" y="92.9" font-family="'Liberation Sans', Arial, sans-serif" font-size="70.5">(</text><text transform="translate(1291.6,95.0) scale(1.1,1)" font-family="'DejaVu Sans Condensed', 'DejaVu Sans', sans-serif" font-size="71">b</text><text x="1335.5" y="92.9" font-family="'Liberation Sans', Arial, sans-serif" font-size="70.5">)</text></g>
</g></svg></body></html>
